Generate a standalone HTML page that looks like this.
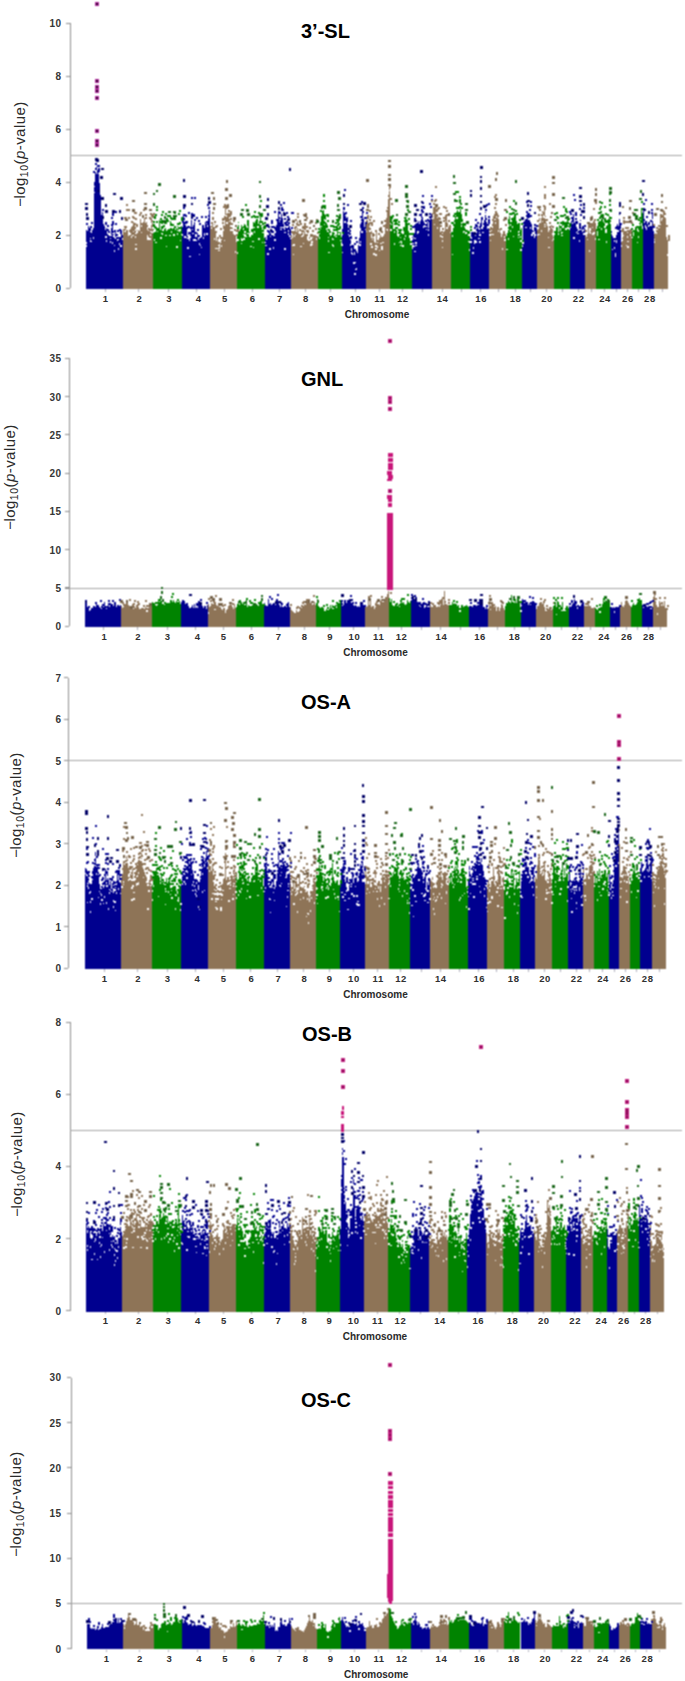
<!DOCTYPE html>
<html><head><meta charset="utf-8"><style>
html,body{margin:0;padding:0;background:#fff;}
body{width:685px;height:1681px;overflow:hidden;}
svg{display:block;}
text{font-family:"Liberation Sans",sans-serif;}
.tl{font-size:10px;fill:#363636;text-anchor:end;font-weight:bold;letter-spacing:0.4px;}
.xl{font-size:9.5px;fill:#303030;text-anchor:middle;font-weight:bold;letter-spacing:0.6px;}
.ch{font-size:10px;fill:#2a2a2a;text-anchor:middle;font-weight:bold;}
.tt{font-size:20px;fill:#000;font-weight:bold;}
.yl{font-size:15px;fill:#2a2a2a;text-anchor:middle;letter-spacing:0.45px;}
.sub{font-size:10.5px;}
</style></head><body>
<svg width="685" height="1681" viewBox="0 0 685 1681" shape-rendering="crispEdges">
<defs><filter id="sf" x="0" y="0" width="100%" height="100%" color-interpolation-filters="sRGB"><feConvolveMatrix order="3" kernelMatrix="1 2 1 2 4 2 1 2 1" edgeMode="duplicate"/></filter></defs>
<g filter="url(#sf)"><rect width="685" height="1681" fill="#fff"/>
<path d="M70.5 23.4V288.4" stroke="#8c8c8c" stroke-width="1.2" fill="none"/>
<path d="M65.6 288.4H69.6M65.6 235.4H69.6M65.6 182.4H69.6M65.6 129.4H69.6M65.6 76.4H69.6M65.6 23.4H69.6" stroke="#8c8c8c" stroke-width="1.1" fill="none"/>
<path d="M69.6 155.5H682" stroke="#a4a4a4" stroke-width="1.2" fill="none"/>
<path d="M85.9 289.1V229.6H86.9V231.2H87.9V226H88.9V231.2H89.9V231.9H90.9V233.4H91.9V230.3H92.9V231H93.9V186.7H94.9V168.3H95.9V166.7H96.9V170.1H97.9V171.3H98.9V183H99.9V195.2H100.9V219.3H101.9V211.7H102.9V224.1H103.9V226.1H104.9V229.8H105.9V228.4H106.9V233.6H107.9V235H108.9V238.2H109.9V238.5H110.9V227.5H111.9V224.2H112.9V230.7H113.9V237.8H114.9V232.3H115.9V236.5H116.9V237.2H117.9V240H118.9V239.3H119.9V237.1H120.9V231.3H121.9V234.5H122.5V289.1ZM181.9 289.1V227.4H182.9V214H183.9V217.6H184.9V220.5H185.9V228.3H186.9V236.3H187.9V233.6H188.9V240.9H189.9V231.9H190.9V219.8H191.9V229.6H192.9V225.3H193.9V221.7H194.9V236.8H195.9V236.8H196.9V233.4H197.9V240.3H198.9V241.3H199.9V238.9H200.9V236.5H201.9V230.1H202.9V232.2H203.9V231.2H204.9V222.2H205.9V223.7H206.9V220.9H207.9V218.3H208.9V209.8H209.6V289.1ZM265.2 289.1V237.2H266.2V239.7H267.2V237.3H268.2V237H269.2V237H270.2V236.6H271.2V235H272.2V230.1H273.2V231.3H274.2V233.9H275.2V228.9H276.2V225.3H277.2V218.5H278.2V213.4H279.2V216.6H280.2V217.8H281.2V214.1H282.2V218.4H283.2V223.9H284.2V230.4H285.2V226.9H286.2V227.5H287.2V227.8H288.2V227.4H289.2V226.1H290.2V229H291.2V229.7H291.3V289.1ZM341.9 289.1V234.6H342.9V211H343.9V215H344.9V216H345.9V222.2H346.9V217.1H347.9V234.8H348.9V237.1H349.9V239.9H350.9V245H351.9V249.3H352.9V248H353.9V255.4H354.9V257H355.9V256H356.9V252.7H357.9V245.2H358.9V238.2H359.9V226.4H360.9V221.8H361.9V213.2H362.9V219.2H363.9V227.1H364.9V224.3H365.9V225.1H366.2V289.1ZM412 289.1V237H413V234.4H414V232.8H415V229.7H416V229.9H417V228.3H418V220.8H419V224H420V223.7H421V212.8H422V217.1H423V220.6H424V223.3H425V228.6H426V229.5H427V222H428V227.8H429V220.1H430V215.7H431V213.9H431.5V289.1ZM470.1 289.1V237.9H471.1V239.3H472.1V236.4H473.1V234.3H474.1V234.8H475.1V236.1H476.1V233.1H477.1V224.6H478.1V229.4H479.1V229.7H480.1V225.3H481.1V220.3H482.1V228H483.1V227.2H484.1V220.1H485.1V211.6H486.1V217.7H487.1V220.6H488.1V224.2H489V289.1ZM522.1 289.1V240.1H523.1V227H524.1V220.5H525.1V220.9H526.1V218.7H527.1V211.2H528.1V216.5H529.1V212.6H530.1V221.6H531.1V223.9H532.1V230.3H533.1V230.8H534.1V233.1H535.1V228.6H536.1V231.8H537V289.1ZM569.7 289.1V224.6H570.7V220.8H571.7V218.2H572.7V214.3H573.7V222.6H574.7V223.9H575.7V227.4H576.7V231.9H577.7V231.2H578.7V229.7H579.7V219.6H580.7V227.5H581.7V226.1H582.7V225.9H583.7V227.5H584.5V289.1ZM610.7 289.1V231.3H611.7V236.2H612.7V237.9H613.7V242H614.7V240.3H615.7V234.5H616.7V224.1H617.7V226.3H618.7V214.1H619.7V224.5H620.7V289.1ZM642.6 289.1V209.7H643.6V219.1H644.6V223.7H645.6V224.2H646.6V224.2H647.6V227.4H648.6V226.2H649.6V225.7H650.6V226.3H651.6V213.7H652.6V230.6H653.6V233.6H653.9V289.1Z" fill="#00008f"/>
<path d="M122.5 289.1V230.6H123.5V226.1H124.5V228.1H125.5V229.6H126.5V230.4H127.5V232.5H128.5V229.5H129.5V231.3H130.5V227.1H131.5V226.1H132.5V222.2H133.5V225.4H134.5V230.7H135.5V230.3H136.5V233.1H137.5V229.9H138.5V231.4H139.5V218.9H140.5V227.4H141.5V224.1H142.5V222.2H143.5V217.6H144.5V222.8H145.5V221.8H146.5V229.7H147.5V233.2H148.5V231.2H149.5V228.7H150.5V222.2H151.5V223.3H152.5V223.9H153.1V289.1ZM209.6 289.1V226.3H210.6V225.6H211.6V223.5H212.6V225.8H213.6V223.6H214.6V232.2H215.6V240.9H216.6V239.1H217.6V245.5H218.6V248.5H219.6V242.6H220.6V240.2H221.6V236.7H222.6V225.3H223.6V226.4H224.6V208.1H225.6V213.9H226.6V212.6H227.6V215H228.6V218.8H229.6V220.6H230.6V227.2H231.6V227.9H232.6V235.9H233.6V234.5H234.6V235H235.6V241.9H236.6V236.2H237.3V289.1ZM291.3 289.1V235.2H292.3V237.2H293.3V235.1H294.3V237H295.3V229.1H296.3V235.1H297.3V220.5H298.3V230.9H299.3V234.3H300.3V236H301.3V232.5H302.3V230.3H303.3V233H304.3V230.8H305.3V233.9H306.3V234.3H307.3V233.8H308.3V237H309.3V237H310.3V239.7H311.3V240.1H312.3V240H313.3V240.3H314.3V236.9H315.3V235.6H316.3V240.2H317.3V237.1H317.5V289.1ZM366.2 289.1V224.4H367.2V221.5H368.2V222.5H369.2V223.5H370.2V227.8H371.2V231.4H372.2V237.4H373.2V238.1H374.2V241.7H375.2V243.3H376.2V231.9H377.2V243.2H378.2V240.2H379.2V240.4H380.2V234.6H381.2V240.2H382.2V238.3H383.2V236.4H384.2V233.8H385.2V226.2H386.2V217.6H387.2V211.9H388.2V199.3H389.2V187.6H390.2V205.2H390.3V289.1ZM431.5 289.1V213.2H432.5V219H433.5V214.7H434.5V208.4H435.5V209.3H436.5V210.3H437.5V222H438.5V224.2H439.5V232H440.5V233.4H441.5V237.6H442.5V231.6H443.5V231.3H444.5V214.8H445.5V216.2H446.5V223.4H447.5V227.1H448.5V228.4H449.5V226.3H450.5V289.1ZM489 289.1V231.6H490V231.6H491V230.5H492V228.1H493V215.6H494V213.8H495V211.4H496V211.3H497V212.5H498V219.3H499V228.9H500V232.9H501V237.4H502V234.2H503V232.4H504V232.6H505V233.5H506V289.1ZM537 289.1V229.7H538V224.5H539V218.3H540V221.6H541V218.4H542V211.4H543V212.1H544V210.3H545V216.3H546V223.1H547V226.2H548V232.2H549V225.5H550V225.9H551V224.7H552V229.1H553V236.5H554V289.1ZM584.5 289.1V234.6H585.5V238.2H586.5V236.3H587.5V228.3H588.5V233.2H589.5V230.9H590.5V228.3H591.5V228H592.5V226H593.5V223.2H594.5V223H595.5V215.1H596.4V289.1ZM620.7 289.1V242.1H621.7V237.9H622.7V235.9H623.7V235.2H624.7V233.2H625.7V232.3H626.7V233.2H627.7V232H628.7V229.7H629.7V228.8H630.7V228.8H631.7V233.2H631.8V289.1ZM653.9 289.1V233.7H654.9V232.7H655.9V230.1H656.9V230.3H657.9V228H658.9V227.5H659.9V215.8H660.9V221.4H661.9V218.5H662.9V213.8H663.9V217.2H664.9V218H665.9V237.1H666.9V240.3H667.9V243.1H668V289.1Z" fill="#8e7457"/>
<path d="M153.1 289.1V228.9H154.1V230.1H155.1V231.7H156.1V229.8H157.1V232.4H158.1V230.8H159.1V220.4H160.1V230.4H161.1V228.9H162.1V231.3H163.1V230.5H164.1V229.3H165.1V228.2H166.1V230.7H167.1V229.5H168.1V231.6H169.1V232.9H170.1V221.2H171.1V218.2H172.1V230.8H173.1V231H174.1V228.1H175.1V229.5H176.1V228.1H177.1V225.7H178.1V227.3H179.1V232.1H180.1V231.3H181.1V225.5H181.9V289.1ZM237.3 289.1V233.7H238.3V221.6H239.3V231.2H240.3V230.9H241.3V225H242.3V226.8H243.3V228.6H244.3V224.4H245.3V225.4H246.3V226.6H247.3V228.1H248.3V223.4H249.3V231.9H250.3V234.9H251.3V234.5H252.3V235.1H253.3V221.6H254.3V224.4H255.3V221.1H256.3V218.8H257.3V219.3H258.3V223.9H259.3V221.2H260.3V217H261.3V224.5H262.3V230.1H263.3V227H264.3V238H265.2V289.1ZM317.5 289.1V237.2H318.5V234.3H319.5V222.3H320.5V215.7H321.5V211.3H322.5V209.5H323.5V213.6H324.5V215.3H325.5V222.7H326.5V224.8H327.5V232.1H328.5V233.9H329.5V235.7H330.5V237.3H331.5V235.1H332.5V235.4H333.5V232.6H334.5V228.9H335.5V226.3H336.5V224.2H337.5V219.9H338.5V222.8H339.5V232H340.5V237.1H341.5V243.2H341.9V289.1ZM390.3 289.1V223.7H391.3V224.8H392.3V221.7H393.3V228.5H394.3V232.7H395.3V227H396.3V231.2H397.3V235.5H398.3V237.1H399.3V237.1H400.3V237.6H401.3V238.6H402.3V236H403.3V233.6H404.3V230.8H405.3V217.5H406.3V216.6H407.3V219.5H408.3V231.2H409.3V237.5H410.3V241.1H411.3V240.7H412V289.1ZM450.5 289.1V233.3H451.5V237.3H452.5V221.9H453.5V219.5H454.5V215.8H455.5V213.7H456.5V210.3H457.5V215.3H458.5V212.8H459.5V208.5H460.5V214.1H461.5V219.1H462.5V223.4H463.5V227.2H464.5V228.5H465.5V229.9H466.5V230.4H467.5V235.9H468.5V236.1H469.5V238.5H470.1V289.1ZM506 289.1V236H507V233.1H508V229.8H509V216.2H510V226.1H511V223.7H512V219.4H513V217.3H514V212.2H515V213.5H516V220.6H517V226.3H518V232.7H519V234.5H520V238.1H521V228.4H522V244H522.1V289.1ZM554 289.1V234.7H555V232.3H556V226.6H557V226.8H558V231.7H559V225.4H560V231.3H561V228.3H562V224.8H563V226.6H564V224.4H565V217.3H566V221.1H567V217.2H568V222H569V226.9H569.7V289.1ZM596.4 289.1V229.3H597.4V226.1H598.4V224.4H599.4V225.4H600.4V222.7H601.4V218.5H602.4V218.5H603.4V222.2H604.4V223.1H605.4V228H606.4V226H607.4V224.5H608.4V218.8H609.4V215.6H610.4V219.7H610.7V289.1ZM631.8 289.1V231.4H632.8V235.6H633.8V230.1H634.8V230.9H635.8V225.8H636.8V230.7H637.8V228.9H638.8V222.8H639.8V219.9H640.8V209.7H641.8V212.9H642.6V289.1Z" fill="#008300"/>
<path d="M85.7 245.1h1.4v1.6h-1.4zM85.9 241.9h1.4v1.6h-1.4zM90.1 240.8h1.4v1.6h-1.4zM89.6 237.5h1.4v1.6h-1.4zM89.8 239.8h1.4v1.6h-1.4zM92.8 236.9h1.4v1.6h-1.4zM94 191.5h1.4v1.6h-1.4zM95.1 170.4h1.4v1.6h-1.4zM95.8 171.6h1.4v1.6h-1.4zM95.9 172.8h1.4v1.6h-1.4zM98 172.5h1.4v1.6h-1.4zM101.6 215.4h1.4v1.6h-1.4zM105.1 236h1.4v1.6h-1.4zM105.7 240.1h1.4v1.6h-1.4zM109.7 241.2h1.4v1.6h-1.4zM110.7 234.7h1.4v1.6h-1.4zM112.1 232.5h1.4v1.6h-1.4zM111.7 242.4h1.4v1.6h-1.4zM113 235.2h1.4v1.6h-1.4zM112.7 235.5h1.4v1.6h-1.4zM114 244.7h1.4v1.6h-1.4zM114 249.9h1.4v1.6h-1.4zM114.7 236.9h1.4v1.6h-1.4zM117 239.2h1.4v1.6h-1.4zM118 248.3h1.4v1.6h-1.4zM118.8 243h1.4v1.6h-1.4zM120.1 244.9h1.4v1.6h-1.4zM122 238.1h1.4v1.6h-1.4zM121.6 238.2h1.4v1.6h-1.4zM123.2 229.8h1.4v1.6h-1.4zM123.5 228h1.4v1.6h-1.4zM124.3 230.1h1.4v1.6h-1.4zM127.6 234.2h1.4v1.6h-1.4zM128.3 232.2h1.4v1.6h-1.4zM129.2 233.2h1.4v1.6h-1.4zM130.5 236.2h1.4v1.6h-1.4zM132.3 234.6h1.4v1.6h-1.4zM132.6 230.8h1.4v1.6h-1.4zM134.5 235.9h1.4v1.6h-1.4zM134.5 232.5h1.4v1.6h-1.4zM135.6 232.3h1.4v1.6h-1.4zM135.3 243.7h1.4v1.6h-1.4zM135.8 231.4h1.4v1.6h-1.4zM135.4 248.2h1.4v1.6h-1.4zM140.6 231.6h1.4v1.6h-1.4zM146.7 230.8h1.4v1.6h-1.4zM146.5 235h1.4v1.6h-1.4zM146.7 238.2h1.4v1.6h-1.4zM147.4 236.9h1.4v1.6h-1.4zM148.3 238.2h1.4v1.6h-1.4zM149.4 238h1.4v1.6h-1.4zM149.7 230.5h1.4v1.6h-1.4zM149.8 234h1.4v1.6h-1.4zM150.4 223.3h1.4v1.6h-1.4zM150.5 231.2h1.4v1.6h-1.4zM151.7 227.3h1.4v1.6h-1.4zM152.5 225.9h1.4v1.6h-1.4zM152.4 231.6h1.4v1.6h-1.4zM153.2 230.1h1.4v1.6h-1.4zM153.9 239.4h1.4v1.6h-1.4zM155.3 241.8h1.4v1.6h-1.4zM160.1 237.2h1.4v1.6h-1.4zM160.8 237.8h1.4v1.6h-1.4zM161.1 232.7h1.4v1.6h-1.4zM160.9 232.5h1.4v1.6h-1.4zM161.8 233.1h1.4v1.6h-1.4zM165.3 234.7h1.4v1.6h-1.4zM165.9 245.6h1.4v1.6h-1.4zM169.4 234.8h1.4v1.6h-1.4zM170.4 231.3h1.4v1.6h-1.4zM170.4 226h1.4v1.6h-1.4zM171 221.5h1.4v1.6h-1.4zM171.3 220.2h1.4v1.6h-1.4zM173.2 234h1.4v1.6h-1.4zM176.3 246.2h1.4v1.6h-1.4zM177.3 229.6h1.4v1.6h-1.4zM177 233.1h1.4v1.6h-1.4zM176.8 227.3h1.4v1.6h-1.4zM180 239.5h1.4v1.6h-1.4zM181.2 233.5h1.4v1.6h-1.4zM181.6 234h1.4v1.6h-1.4zM183.6 219.9h1.4v1.6h-1.4zM184.1 235.9h1.4v1.6h-1.4zM185.1 223.1h1.4v1.6h-1.4zM185.8 236.8h1.4v1.6h-1.4zM187.1 237.5h1.4v1.6h-1.4zM187.1 247.1h1.4v1.6h-1.4zM188 236h1.4v1.6h-1.4zM188.1 234.9h1.4v1.6h-1.4zM188.2 237.1h1.4v1.6h-1.4zM189.1 255.8h1.4v1.6h-1.4zM189.8 236h1.4v1.6h-1.4zM192.1 232.8h1.4v1.6h-1.4zM193.2 239h1.4v1.6h-1.4zM194.7 238.9h1.4v1.6h-1.4zM195.1 239.6h1.4v1.6h-1.4zM198.6 242.6h1.4v1.6h-1.4zM198.8 253.8h1.4v1.6h-1.4zM198.8 243.6h1.4v1.6h-1.4zM199.7 244.8h1.4v1.6h-1.4zM200.7 246.7h1.4v1.6h-1.4zM202.8 237.2h1.4v1.6h-1.4zM204 234.7h1.4v1.6h-1.4zM204 233.3h1.4v1.6h-1.4zM206.1 233.2h1.4v1.6h-1.4zM206.9 225h1.4v1.6h-1.4zM210.7 227.2h1.4v1.6h-1.4zM213.4 225h1.4v1.6h-1.4zM213.8 238.3h1.4v1.6h-1.4zM215.3 247.6h1.4v1.6h-1.4zM217.4 247.5h1.4v1.6h-1.4zM218.3 249.7h1.4v1.6h-1.4zM220.5 244.9h1.4v1.6h-1.4zM222.5 229.4h1.4v1.6h-1.4zM223.6 239.5h1.4v1.6h-1.4zM224.6 214.6h1.4v1.6h-1.4zM225.8 215.2h1.4v1.6h-1.4zM226.3 222h1.4v1.6h-1.4zM228.5 220.8h1.4v1.6h-1.4zM229.7 225.2h1.4v1.6h-1.4zM230.3 229.3h1.4v1.6h-1.4zM231.4 229h1.4v1.6h-1.4zM234.5 251.4h1.4v1.6h-1.4zM236.5 252.2h1.4v1.6h-1.4zM237.2 239.1h1.4v1.6h-1.4zM238.3 227.9h1.4v1.6h-1.4zM238.2 223h1.4v1.6h-1.4zM240.6 242.6h1.4v1.6h-1.4zM240.6 238h1.4v1.6h-1.4zM241.3 239.1h1.4v1.6h-1.4zM242.3 238.8h1.4v1.6h-1.4zM242.6 228.8h1.4v1.6h-1.4zM243.2 238.1h1.4v1.6h-1.4zM243.4 233.7h1.4v1.6h-1.4zM244.2 234.9h1.4v1.6h-1.4zM244.6 233.9h1.4v1.6h-1.4zM244.4 231.3h1.4v1.6h-1.4zM245.3 235.6h1.4v1.6h-1.4zM247.4 232.6h1.4v1.6h-1.4zM249.4 235.2h1.4v1.6h-1.4zM249 233.3h1.4v1.6h-1.4zM250.1 245.6h1.4v1.6h-1.4zM252.6 246.6h1.4v1.6h-1.4zM252.3 240.8h1.4v1.6h-1.4zM253.5 230.9h1.4v1.6h-1.4zM253.3 226.5h1.4v1.6h-1.4zM257.3 226h1.4v1.6h-1.4zM258.3 238.2h1.4v1.6h-1.4zM260.3 222.9h1.4v1.6h-1.4zM260.5 222.7h1.4v1.6h-1.4zM261.5 241.7h1.4v1.6h-1.4zM261.4 225.6h1.4v1.6h-1.4zM262.4 231.5h1.4v1.6h-1.4zM264.1 241.7h1.4v1.6h-1.4zM265.3 244.7h1.4v1.6h-1.4zM267.1 253.3h1.4v1.6h-1.4zM269.3 247.9h1.4v1.6h-1.4zM272.3 233.1h1.4v1.6h-1.4zM273.1 234.6h1.4v1.6h-1.4zM272.9 247.4h1.4v1.6h-1.4zM274.4 239.3h1.4v1.6h-1.4zM275 231.3h1.4v1.6h-1.4zM279.4 218.8h1.4v1.6h-1.4zM279 220.7h1.4v1.6h-1.4zM280.3 226.8h1.4v1.6h-1.4zM280.4 228.7h1.4v1.6h-1.4zM282.4 226.6h1.4v1.6h-1.4zM284.4 247.9h1.4v1.6h-1.4zM284.2 231.6h1.4v1.6h-1.4zM288 233.2h1.4v1.6h-1.4zM288.5 235.4h1.4v1.6h-1.4zM288 230.1h1.4v1.6h-1.4zM290.1 237.7h1.4v1.6h-1.4zM289.9 235.8h1.4v1.6h-1.4zM291.5 233.5h1.4v1.6h-1.4zM291.5 236.3h1.4v1.6h-1.4zM291.5 244.5h1.4v1.6h-1.4zM292.5 253.7h1.4v1.6h-1.4zM293.2 244.2h1.4v1.6h-1.4zM295.4 233.8h1.4v1.6h-1.4zM297 226.4h1.4v1.6h-1.4zM297.3 231.6h1.4v1.6h-1.4zM300.1 245.8h1.4v1.6h-1.4zM301.3 234.9h1.4v1.6h-1.4zM302.5 234.3h1.4v1.6h-1.4zM302.6 242.6h1.4v1.6h-1.4zM302.6 233.4h1.4v1.6h-1.4zM307.2 237.9h1.4v1.6h-1.4zM307.2 235.9h1.4v1.6h-1.4zM307.3 237.4h1.4v1.6h-1.4zM308.3 239.1h1.4v1.6h-1.4zM310.4 244h1.4v1.6h-1.4zM310.6 244.4h1.4v1.6h-1.4zM310.5 242.9h1.4v1.6h-1.4zM311.4 243.8h1.4v1.6h-1.4zM311.4 241.3h1.4v1.6h-1.4zM318.8 237.3h1.4v1.6h-1.4zM319.5 227.8h1.4v1.6h-1.4zM320.2 225.5h1.4v1.6h-1.4zM323.6 219.3h1.4v1.6h-1.4zM323.8 223.6h1.4v1.6h-1.4zM324.8 219.9h1.4v1.6h-1.4zM325.7 228.1h1.4v1.6h-1.4zM326.8 230.4h1.4v1.6h-1.4zM326.4 227.5h1.4v1.6h-1.4zM327.7 236.7h1.4v1.6h-1.4zM327.5 240.3h1.4v1.6h-1.4zM328.3 251.5h1.4v1.6h-1.4zM331.5 244.2h1.4v1.6h-1.4zM331.5 238.4h1.4v1.6h-1.4zM332.8 244.9h1.4v1.6h-1.4zM332.5 238.6h1.4v1.6h-1.4zM333.7 234.1h1.4v1.6h-1.4zM334.2 231.7h1.4v1.6h-1.4zM335.3 231.1h1.4v1.6h-1.4zM335.4 233.4h1.4v1.6h-1.4zM335.4 235.6h1.4v1.6h-1.4zM337.7 226.3h1.4v1.6h-1.4zM338.3 233.3h1.4v1.6h-1.4zM338.5 225.2h1.4v1.6h-1.4zM338.4 230.3h1.4v1.6h-1.4zM340.4 239.6h1.4v1.6h-1.4zM340.6 242.1h1.4v1.6h-1.4zM341.3 244.4h1.4v1.6h-1.4zM341.7 251.8h1.4v1.6h-1.4zM341.7 244.6h1.4v1.6h-1.4zM344.1 221.2h1.4v1.6h-1.4zM347.1 222.2h1.4v1.6h-1.4zM347.1 219.4h1.4v1.6h-1.4zM349.9 243.5h1.4v1.6h-1.4zM349.9 244.6h1.4v1.6h-1.4zM350.9 252.4h1.4v1.6h-1.4zM351 249.4h1.4v1.6h-1.4zM350.8 248.1h1.4v1.6h-1.4zM351.7 253.1h1.4v1.6h-1.4zM353.1 261.9h1.4v1.6h-1.4zM354.2 273h1.4v1.6h-1.4zM353.9 262.6h1.4v1.6h-1.4zM354.7 268.5h1.4v1.6h-1.4zM354.7 261.5h1.4v1.6h-1.4zM355.8 268h1.4v1.6h-1.4zM359.1 243.9h1.4v1.6h-1.4zM359.7 241.2h1.4v1.6h-1.4zM359.6 227.5h1.4v1.6h-1.4zM359.7 229h1.4v1.6h-1.4zM361.1 231.1h1.4v1.6h-1.4zM364.7 228.8h1.4v1.6h-1.4zM366 230.7h1.4v1.6h-1.4zM369.3 225.8h1.4v1.6h-1.4zM369.1 230.3h1.4v1.6h-1.4zM370.1 243h1.4v1.6h-1.4zM371.1 234.9h1.4v1.6h-1.4zM371 233.6h1.4v1.6h-1.4zM371.2 246.2h1.4v1.6h-1.4zM371.1 236h1.4v1.6h-1.4zM372 238.7h1.4v1.6h-1.4zM373.2 252.9h1.4v1.6h-1.4zM375.3 245.3h1.4v1.6h-1.4zM375.1 254h1.4v1.6h-1.4zM375.4 248h1.4v1.6h-1.4zM377 246h1.4v1.6h-1.4zM378.9 249.7h1.4v1.6h-1.4zM380.3 238.6h1.4v1.6h-1.4zM380.2 242.8h1.4v1.6h-1.4zM381.1 248.2h1.4v1.6h-1.4zM381.2 246.2h1.4v1.6h-1.4zM382.3 241.6h1.4v1.6h-1.4zM385.5 228.6h1.4v1.6h-1.4zM386.9 229.1h1.4v1.6h-1.4zM389 189.8h1.4v1.6h-1.4zM390.1 206.7h1.4v1.6h-1.4zM390.3 229.4h1.4v1.6h-1.4zM392.5 223.5h1.4v1.6h-1.4zM393.5 242.9h1.4v1.6h-1.4zM399 241.8h1.4v1.6h-1.4zM400.4 244.6h1.4v1.6h-1.4zM400.4 240.5h1.4v1.6h-1.4zM401 242.4h1.4v1.6h-1.4zM402.2 245.1h1.4v1.6h-1.4zM403.5 238.2h1.4v1.6h-1.4zM404.6 235.1h1.4v1.6h-1.4zM406.1 217.8h1.4v1.6h-1.4zM407.2 221.8h1.4v1.6h-1.4zM409.5 238.9h1.4v1.6h-1.4zM410.4 242.9h1.4v1.6h-1.4zM411.7 247.1h1.4v1.6h-1.4zM411.8 238.2h1.4v1.6h-1.4zM412.3 244.9h1.4v1.6h-1.4zM412.2 242.5h1.4v1.6h-1.4zM412.9 236.5h1.4v1.6h-1.4zM413.9 245.6h1.4v1.6h-1.4zM414.1 237.6h1.4v1.6h-1.4zM414.2 250.7h1.4v1.6h-1.4zM415.2 244.8h1.4v1.6h-1.4zM415.1 241.9h1.4v1.6h-1.4zM416.9 232.7h1.4v1.6h-1.4zM417.1 230.9h1.4v1.6h-1.4zM420.9 217.7h1.4v1.6h-1.4zM423.2 225.6h1.4v1.6h-1.4zM422.9 226.7h1.4v1.6h-1.4zM423.7 225.3h1.4v1.6h-1.4zM427.7 234.4h1.4v1.6h-1.4zM428 233.6h1.4v1.6h-1.4zM428 229.3h1.4v1.6h-1.4zM431.1 217.5h1.4v1.6h-1.4zM433.7 223.8h1.4v1.6h-1.4zM435.5 212.6h1.4v1.6h-1.4zM436.7 227h1.4v1.6h-1.4zM436.7 216.7h1.4v1.6h-1.4zM436.4 211.9h1.4v1.6h-1.4zM440.3 234.9h1.4v1.6h-1.4zM441.6 240.4h1.4v1.6h-1.4zM441.6 246.7h1.4v1.6h-1.4zM444.3 220.7h1.4v1.6h-1.4zM446.4 227.2h1.4v1.6h-1.4zM449.6 231.6h1.4v1.6h-1.4zM451.5 253.8h1.4v1.6h-1.4zM452.4 225.9h1.4v1.6h-1.4zM453.5 222.1h1.4v1.6h-1.4zM456.4 217.3h1.4v1.6h-1.4zM460.5 221.9h1.4v1.6h-1.4zM460.8 225h1.4v1.6h-1.4zM461.4 221.6h1.4v1.6h-1.4zM462.8 231.1h1.4v1.6h-1.4zM463.4 230.7h1.4v1.6h-1.4zM465.3 232.2h1.4v1.6h-1.4zM467.5 240.8h1.4v1.6h-1.4zM468.5 248.9h1.4v1.6h-1.4zM469.3 241.3h1.4v1.6h-1.4zM470.2 241.1h1.4v1.6h-1.4zM472.3 252.1h1.4v1.6h-1.4zM473 247h1.4v1.6h-1.4zM474.4 240.2h1.4v1.6h-1.4zM473.9 242.2h1.4v1.6h-1.4zM475.1 241.4h1.4v1.6h-1.4zM478.4 237.6h1.4v1.6h-1.4zM479 231.8h1.4v1.6h-1.4zM479.1 234.2h1.4v1.6h-1.4zM479.2 241h1.4v1.6h-1.4zM479.2 234.6h1.4v1.6h-1.4zM481.2 227.2h1.4v1.6h-1.4zM482.2 231.8h1.4v1.6h-1.4zM483.9 222.7h1.4v1.6h-1.4zM485.1 212.9h1.4v1.6h-1.4zM486.1 220.2h1.4v1.6h-1.4zM486.2 220.1h1.4v1.6h-1.4zM487.1 225.9h1.4v1.6h-1.4zM487 226.6h1.4v1.6h-1.4zM486.9 227.1h1.4v1.6h-1.4zM487 222.2h1.4v1.6h-1.4zM489.3 234.4h1.4v1.6h-1.4zM489.8 239.6h1.4v1.6h-1.4zM491.1 233.7h1.4v1.6h-1.4zM492.3 233.8h1.4v1.6h-1.4zM494.1 218.5h1.4v1.6h-1.4zM494.8 221.9h1.4v1.6h-1.4zM495.8 215.9h1.4v1.6h-1.4zM497.7 229.9h1.4v1.6h-1.4zM501.7 248.1h1.4v1.6h-1.4zM504 236.3h1.4v1.6h-1.4zM504.3 239.3h1.4v1.6h-1.4zM506.2 248.7h1.4v1.6h-1.4zM508 238.3h1.4v1.6h-1.4zM509.8 230.3h1.4v1.6h-1.4zM511.9 226.1h1.4v1.6h-1.4zM512.7 235.7h1.4v1.6h-1.4zM517.9 236.8h1.4v1.6h-1.4zM518 234h1.4v1.6h-1.4zM520.1 249.2h1.4v1.6h-1.4zM520.2 240.3h1.4v1.6h-1.4zM520.7 230.8h1.4v1.6h-1.4zM522 245h1.4v1.6h-1.4zM522.3 242.4h1.4v1.6h-1.4zM525.1 226.8h1.4v1.6h-1.4zM528.2 218h1.4v1.6h-1.4zM530 226.9h1.4v1.6h-1.4zM531.3 234h1.4v1.6h-1.4zM532 231.6h1.4v1.6h-1.4zM531.9 232.1h1.4v1.6h-1.4zM533.2 232h1.4v1.6h-1.4zM534.1 234.1h1.4v1.6h-1.4zM533.8 236.2h1.4v1.6h-1.4zM536.9 234.4h1.4v1.6h-1.4zM538.1 233.6h1.4v1.6h-1.4zM537.7 226.9h1.4v1.6h-1.4zM537.9 233.7h1.4v1.6h-1.4zM539.2 221.1h1.4v1.6h-1.4zM540.9 230.2h1.4v1.6h-1.4zM541.8 212.9h1.4v1.6h-1.4zM542.2 214.6h1.4v1.6h-1.4zM541.8 220.7h1.4v1.6h-1.4zM541.9 220.5h1.4v1.6h-1.4zM543.3 216.3h1.4v1.6h-1.4zM543.2 216.2h1.4v1.6h-1.4zM544.1 223.6h1.4v1.6h-1.4zM544.3 225.8h1.4v1.6h-1.4zM544.9 217.4h1.4v1.6h-1.4zM544.9 223.5h1.4v1.6h-1.4zM548.2 246.7h1.4v1.6h-1.4zM547.9 236.7h1.4v1.6h-1.4zM548.7 228.1h1.4v1.6h-1.4zM551 226.8h1.4v1.6h-1.4zM551.8 232.9h1.4v1.6h-1.4zM551.8 239.5h1.4v1.6h-1.4zM552.7 237.9h1.4v1.6h-1.4zM558 233h1.4v1.6h-1.4zM560.8 232.4h1.4v1.6h-1.4zM561.2 234.6h1.4v1.6h-1.4zM562.1 226.2h1.4v1.6h-1.4zM561.8 231.6h1.4v1.6h-1.4zM565.1 228.3h1.4v1.6h-1.4zM565 218.6h1.4v1.6h-1.4zM565.1 220h1.4v1.6h-1.4zM565 220.4h1.4v1.6h-1.4zM567.3 227.2h1.4v1.6h-1.4zM567.7 224.3h1.4v1.6h-1.4zM568.9 227.9h1.4v1.6h-1.4zM569.7 225.9h1.4v1.6h-1.4zM571.9 221.5h1.4v1.6h-1.4zM571.8 222.3h1.4v1.6h-1.4zM573.4 237.2h1.4v1.6h-1.4zM576 231.5h1.4v1.6h-1.4zM577.4 232.7h1.4v1.6h-1.4zM579 240h1.4v1.6h-1.4zM578.8 240.6h1.4v1.6h-1.4zM579.5 221.2h1.4v1.6h-1.4zM579.6 221.2h1.4v1.6h-1.4zM580.4 228.6h1.4v1.6h-1.4zM581.9 230.4h1.4v1.6h-1.4zM582.5 233.7h1.4v1.6h-1.4zM582.8 228.9h1.4v1.6h-1.4zM583.4 233.2h1.4v1.6h-1.4zM586.7 238.4h1.4v1.6h-1.4zM587.4 234.7h1.4v1.6h-1.4zM588.8 249.9h1.4v1.6h-1.4zM589.7 232.3h1.4v1.6h-1.4zM592.4 233.3h1.4v1.6h-1.4zM593.4 232.2h1.4v1.6h-1.4zM594.7 238.4h1.4v1.6h-1.4zM596.6 231.2h1.4v1.6h-1.4zM596.5 234.8h1.4v1.6h-1.4zM596.7 233.3h1.4v1.6h-1.4zM598.3 238.8h1.4v1.6h-1.4zM598.5 226.5h1.4v1.6h-1.4zM600.6 227.9h1.4v1.6h-1.4zM604.5 230.3h1.4v1.6h-1.4zM604.2 225.9h1.4v1.6h-1.4zM605.6 241.4h1.4v1.6h-1.4zM605.4 231.1h1.4v1.6h-1.4zM605.2 229.3h1.4v1.6h-1.4zM610.1 222.3h1.4v1.6h-1.4zM610.6 232.5h1.4v1.6h-1.4zM611.8 248.6h1.4v1.6h-1.4zM613.8 247.4h1.4v1.6h-1.4zM614.8 255.1h1.4v1.6h-1.4zM614.8 253.1h1.4v1.6h-1.4zM615.6 241.1h1.4v1.6h-1.4zM616 238.9h1.4v1.6h-1.4zM616.7 230h1.4v1.6h-1.4zM617.6 230.4h1.4v1.6h-1.4zM618.4 215.4h1.4v1.6h-1.4zM618.5 217h1.4v1.6h-1.4zM619.5 228.5h1.4v1.6h-1.4zM620.8 245.3h1.4v1.6h-1.4zM621.6 239.1h1.4v1.6h-1.4zM625.8 244.7h1.4v1.6h-1.4zM626.9 246.3h1.4v1.6h-1.4zM626.7 236.3h1.4v1.6h-1.4zM627.5 245.9h1.4v1.6h-1.4zM627.4 240.5h1.4v1.6h-1.4zM629.8 234.1h1.4v1.6h-1.4zM631.4 236.7h1.4v1.6h-1.4zM636.8 241.5h1.4v1.6h-1.4zM637.9 235.9h1.4v1.6h-1.4zM637.9 230.3h1.4v1.6h-1.4zM637.6 230.3h1.4v1.6h-1.4zM638.8 223.8h1.4v1.6h-1.4zM638.7 224.5h1.4v1.6h-1.4zM640.9 223.4h1.4v1.6h-1.4zM640.7 224.1h1.4v1.6h-1.4zM641.9 227.3h1.4v1.6h-1.4zM641.9 225.9h1.4v1.6h-1.4zM643.7 221h1.4v1.6h-1.4zM644.7 225.3h1.4v1.6h-1.4zM645.5 228h1.4v1.6h-1.4zM645.3 226.8h1.4v1.6h-1.4zM651.3 219.3h1.4v1.6h-1.4zM651.8 219h1.4v1.6h-1.4zM653.7 241.2h1.4v1.6h-1.4zM653.7 238.5h1.4v1.6h-1.4zM655.7 232.1h1.4v1.6h-1.4zM660 223.7h1.4v1.6h-1.4zM666.7 254.4h1.4v1.6h-1.4zM668 257.5h1.4v1.6h-1.4zM667.6 254.9h1.4v1.6h-1.4z" fill="#fff"/>
<path d="M86.2 222.9h2v2h-2zM88.9 227.9h2v2h-2zM88.7 228.5h2v2h-2zM91.1 221.6h2v2h-2zM90.4 226.2h2v2h-2zM91.5 230.6h2v2h-2zM92.9 229.5h2v2h-2zM93 228.1h2v2h-2zM93.3 170.5h2v2h-2zM93.8 182.4h2v2h-2zM94.1 183.9h2v2h-2zM94.5 162.5h2v2h-2zM96.1 159.8h2v2h-2zM97.2 165.4h2v2h-2zM98.2 167.6h2v2h-2zM97.6 165.2h2v2h-2zM97.7 169.6h2v2h-2zM101.2 215.3h2v2h-2zM100.5 217.6h2v2h-2zM101.3 217.2h2v2h-2zM101.9 209.3h2v2h-2zM104.5 221.5h2v2h-2zM105 223h2v2h-2zM107.3 224.5h2v2h-2zM107.4 229h2v2h-2zM108.3 230.9h2v2h-2zM109.4 235.9h2v2h-2zM110.6 224.2h2v2h-2zM112.3 213.5h2v2h-2zM111.5 222.6h2v2h-2zM112.2 211.9h2v2h-2zM111.4 216.9h2v2h-2zM111.6 220.5h2v2h-2zM111.7 220.9h2v2h-2zM113.5 230.4h2v2h-2zM115.4 211.1h2v2h-2zM114.5 222.5h2v2h-2zM116.3 234.3h2v2h-2zM117.2 229.9h2v2h-2zM117.8 236.9h2v2h-2zM119.5 230.3h2v2h-2zM119.4 229.4h2v2h-2zM118.8 236.6h2v2h-2zM119.2 229.3h2v2h-2zM120.1 232.2h2v2h-2zM182 220.9h2v2h-2zM182.5 207h2v2h-2zM183.7 213.9h2v2h-2zM185.1 215h2v2h-2zM185.5 226.7h2v2h-2zM185.4 222.2h2v2h-2zM185.5 220.5h2v2h-2zM188.4 212.3h2v2h-2zM187.4 226.3h2v2h-2zM187.9 225.9h2v2h-2zM187.7 232h2v2h-2zM189.5 227.3h2v2h-2zM189.5 226.9h2v2h-2zM191.3 217.1h2v2h-2zM190.5 215.3h2v2h-2zM190.6 196.5h2v2h-2zM190.8 212.6h2v2h-2zM191.3 214.4h2v2h-2zM191.8 227.3h2v2h-2zM193 214.3h2v2h-2zM193.2 214.5h2v2h-2zM194.1 218.7h2v2h-2zM193.6 196.9h2v2h-2zM195 232h2v2h-2zM195.8 217h2v2h-2zM197.5 219.8h2v2h-2zM196.7 229.4h2v2h-2zM197.7 234.8h2v2h-2zM199.2 237.6h2v2h-2zM198.5 223h2v2h-2zM198.7 239h2v2h-2zM201.3 215.5h2v2h-2zM201.5 225.2h2v2h-2zM202.4 228.6h2v2h-2zM202.3 227.2h2v2h-2zM202.5 228.4h2v2h-2zM202.7 230.7h2v2h-2zM203.7 229.4h2v2h-2zM204.7 215.9h2v2h-2zM206.1 221.4h2v2h-2zM206.6 203.9h2v2h-2zM208.1 206.6h2v2h-2zM207.8 214.6h2v2h-2zM207.9 214.8h2v2h-2zM267 230.4h2v2h-2zM267.1 234.6h2v2h-2zM268.4 231.3h2v2h-2zM267.7 226h2v2h-2zM268 235.3h2v2h-2zM269.1 233.7h2v2h-2zM269.1 232.6h2v2h-2zM270.6 225.7h2v2h-2zM270.5 219.6h2v2h-2zM271.1 231.2h2v2h-2zM270.6 222.4h2v2h-2zM272.5 226h2v2h-2zM273.7 210.6h2v2h-2zM274.1 226.9h2v2h-2zM275.7 219.4h2v2h-2zM278.5 211.7h2v2h-2zM278.4 211.2h2v2h-2zM278.7 212.1h2v2h-2zM279.7 204.4h2v2h-2zM280.8 208.5h2v2h-2zM281.2 207.1h2v2h-2zM282.5 211.9h2v2h-2zM282.6 214.3h2v2h-2zM282.4 209.3h2v2h-2zM283.5 218.2h2v2h-2zM282.7 201.9h2v2h-2zM284.1 221.6h2v2h-2zM285.7 220.6h2v2h-2zM284.7 224h2v2h-2zM284.8 221.6h2v2h-2zM285.9 212.4h2v2h-2zM286.7 223.7h2v2h-2zM286.7 216.3h2v2h-2zM288.4 218.1h2v2h-2zM288.3 222.3h2v2h-2zM290.7 212.3h2v2h-2zM291.1 226.8h2v2h-2zM291.8 212.1h2v2h-2zM342.4 230.2h2v2h-2zM341.8 229.3h2v2h-2zM342.2 231.4h2v2h-2zM342.6 207.8h2v2h-2zM344 213.2h2v2h-2zM343.4 207.4h2v2h-2zM344 189.3h2v2h-2zM345.4 211.9h2v2h-2zM345.6 218.4h2v2h-2zM346.1 218.6h2v2h-2zM345.3 218h2v2h-2zM345.8 220.3h2v2h-2zM347.4 204.3h2v2h-2zM347.5 228h2v2h-2zM347.8 231.8h2v2h-2zM348.8 232.6h2v2h-2zM348.9 230.4h2v2h-2zM349.4 229.7h2v2h-2zM349 232.5h2v2h-2zM349.7 237.4h2v2h-2zM349.5 236.2h2v2h-2zM350.1 220.2h2v2h-2zM351.9 245h2v2h-2zM352.2 246.6h2v2h-2zM354.4 249.8h2v2h-2zM354.2 243.2h2v2h-2zM354.9 251.4h2v2h-2zM354.3 249.1h2v2h-2zM355.3 253.7h2v2h-2zM355.4 255.3h2v2h-2zM354.9 237.2h2v2h-2zM355.4 251.8h2v2h-2zM356.4 241h2v2h-2zM360.1 208.8h2v2h-2zM359.9 215.9h2v2h-2zM360 224.1h2v2h-2zM360.6 219.1h2v2h-2zM361.2 218.8h2v2h-2zM361 200.7h2v2h-2zM361.5 207.3h2v2h-2zM362.3 211.2h2v2h-2zM364.3 216.6h2v2h-2zM364.8 221.5h2v2h-2zM365.1 216.5h2v2h-2zM366 211.5h2v2h-2zM411.9 225.6h2v2h-2zM411.6 233.4h2v2h-2zM412.5 225.7h2v2h-2zM414.1 219h2v2h-2zM414.4 225.3h2v2h-2zM414.2 217.7h2v2h-2zM414.8 225.9h2v2h-2zM415.4 223.7h2v2h-2zM415.2 213.1h2v2h-2zM414.9 227.7h2v2h-2zM416.3 222.5h2v2h-2zM415.4 219.9h2v2h-2zM416.5 227.5h2v2h-2zM417.4 224h2v2h-2zM417.3 222.9h2v2h-2zM417.3 225.7h2v2h-2zM419.5 221.3h2v2h-2zM418.9 213.7h2v2h-2zM419.8 221.6h2v2h-2zM420.7 209.4h2v2h-2zM421.3 209.9h2v2h-2zM422.6 205.9h2v2h-2zM422 194.9h2v2h-2zM421.6 202.4h2v2h-2zM422 210.8h2v2h-2zM423 206.7h2v2h-2zM425.2 226.9h2v2h-2zM425.2 224.3h2v2h-2zM425.4 219.5h2v2h-2zM425.8 223.6h2v2h-2zM427.1 218.7h2v2h-2zM428.1 220.3h2v2h-2zM428.8 213.3h2v2h-2zM428.9 215.7h2v2h-2zM429.4 202.5h2v2h-2zM430.1 206h2v2h-2zM430.7 194.9h2v2h-2zM431.2 198.9h2v2h-2zM471.6 235.9h2v2h-2zM470.8 231.6h2v2h-2zM471 234.5h2v2h-2zM470.6 234.5h2v2h-2zM471 232.8h2v2h-2zM472.7 234.3h2v2h-2zM474 226.6h2v2h-2zM474.5 218.9h2v2h-2zM475.3 224.1h2v2h-2zM475.2 225.2h2v2h-2zM476.2 228.7h2v2h-2zM476.8 221.5h2v2h-2zM478.6 226h2v2h-2zM479.4 212.8h2v2h-2zM479.9 222.8h2v2h-2zM481 218.3h2v2h-2zM481.2 217.3h2v2h-2zM483.3 223.2h2v2h-2zM485.6 203.8h2v2h-2zM484.8 208.5h2v2h-2zM484.8 205h2v2h-2zM487.5 216h2v2h-2zM487.5 222h2v2h-2zM487.5 218.6h2v2h-2zM487.6 221.4h2v2h-2zM487.9 203h2v2h-2zM523.3 222.3h2v2h-2zM523.4 224.8h2v2h-2zM525 218.6h2v2h-2zM524.5 218.7h2v2h-2zM526.1 214.7h2v2h-2zM526 210.8h2v2h-2zM525.5 201h2v2h-2zM527.6 213.2h2v2h-2zM528.2 214.9h2v2h-2zM528.5 209.1h2v2h-2zM529.5 205.4h2v2h-2zM530 215.2h2v2h-2zM529.7 200.7h2v2h-2zM533.6 228.6h2v2h-2zM534.7 228.1h2v2h-2zM534.5 230.3h2v2h-2zM534.3 224.4h2v2h-2zM534 227.1h2v2h-2zM535.9 224.8h2v2h-2zM569.3 210.9h2v2h-2zM569.9 223.1h2v2h-2zM569.8 213.4h2v2h-2zM570.7 217.2h2v2h-2zM571.7 210h2v2h-2zM573.2 194h2v2h-2zM572.4 209.6h2v2h-2zM572.4 210.1h2v2h-2zM574.3 198.8h2v2h-2zM574.8 218.1h2v2h-2zM574.8 211.8h2v2h-2zM575.1 220.9h2v2h-2zM574.9 217.5h2v2h-2zM575.3 222.4h2v2h-2zM576.2 221.4h2v2h-2zM575.1 214.1h2v2h-2zM575.5 222h2v2h-2zM576.1 228.5h2v2h-2zM578.7 225.2h2v2h-2zM578.6 226.6h2v2h-2zM578.7 207.8h2v2h-2zM578.7 223.1h2v2h-2zM580.1 203.7h2v2h-2zM579.9 213.6h2v2h-2zM579.5 195.9h2v2h-2zM582.9 211.1h2v2h-2zM582.9 207.1h2v2h-2zM583.5 224.6h2v2h-2zM613.9 237.7h2v2h-2zM614.5 238.1h2v2h-2zM615.9 225.9h2v2h-2zM615.4 227.3h2v2h-2zM620.3 222.7h2v2h-2zM642.8 202.7h2v2h-2zM642.9 207.5h2v2h-2zM644.8 221.4h2v2h-2zM645 222.3h2v2h-2zM645 222.7h2v2h-2zM645.4 198.6h2v2h-2zM646.2 215.8h2v2h-2zM648 221.8h2v2h-2zM648.3 222.7h2v2h-2zM649.5 220.1h2v2h-2zM651.3 211.8h2v2h-2zM651.4 203.4h2v2h-2zM651.2 208.5h2v2h-2zM652.8 224.9h2v2h-2zM652.3 224.4h2v2h-2zM653.2 225.5h2v2h-2z" fill="#00008f"/>
<path d="M122.7 228.6h2v2h-2zM123.6 217.2h2v2h-2zM124.7 225.8h2v2h-2zM126 208.8h2v2h-2zM125.2 217.1h2v2h-2zM125.9 204.2h2v2h-2zM127.7 209.3h2v2h-2zM128.3 216.5h2v2h-2zM129.5 228.5h2v2h-2zM131.5 216.2h2v2h-2zM131.4 221.4h2v2h-2zM133.2 223h2v2h-2zM133.5 222.9h2v2h-2zM133.8 212.4h2v2h-2zM133.4 216.8h2v2h-2zM134.6 218.3h2v2h-2zM134.3 227.1h2v2h-2zM134.3 226.6h2v2h-2zM135 211.7h2v2h-2zM136.2 225h2v2h-2zM135.9 224.5h2v2h-2zM136 224.3h2v2h-2zM139.9 212.2h2v2h-2zM139.1 213.7h2v2h-2zM141.1 223h2v2h-2zM143.2 208.8h2v2h-2zM144.9 216.6h2v2h-2zM145.4 214.1h2v2h-2zM146.1 224.5h2v2h-2zM147.1 231.4h2v2h-2zM148 230.5h2v2h-2zM148.3 227.6h2v2h-2zM148.8 229.2h2v2h-2zM149.3 216.5h2v2h-2zM150.2 212.6h2v2h-2zM150.3 217.6h2v2h-2zM151.7 215.7h2v2h-2zM150.9 220.3h2v2h-2zM152.1 213.9h2v2h-2zM151.1 214.5h2v2h-2zM152.6 220.6h2v2h-2zM152.9 220.6h2v2h-2zM152.8 213.1h2v2h-2zM211.7 217.7h2v2h-2zM211.6 218.4h2v2h-2zM211.6 217.4h2v2h-2zM211.2 221.7h2v2h-2zM212 211.6h2v2h-2zM213.9 221.2h2v2h-2zM213.8 221.2h2v2h-2zM215 226.1h2v2h-2zM215 230.5h2v2h-2zM216.2 224.9h2v2h-2zM216.8 237.3h2v2h-2zM217.4 243h2v2h-2zM218 241.5h2v2h-2zM219.1 235.2h2v2h-2zM220 236.7h2v2h-2zM220.1 228.1h2v2h-2zM220.9 236.5h2v2h-2zM222.3 218.1h2v2h-2zM222.4 219h2v2h-2zM222.4 221.9h2v2h-2zM223.2 206.1h2v2h-2zM224.1 215.6h2v2h-2zM224.1 216.1h2v2h-2zM224 218.4h2v2h-2zM224.8 205.1h2v2h-2zM224.1 204.2h2v2h-2zM224.5 205.6h2v2h-2zM226.4 206.9h2v2h-2zM227.4 204.1h2v2h-2zM227.8 212.8h2v2h-2zM228 209.6h2v2h-2zM228.7 215.3h2v2h-2zM228.6 215h2v2h-2zM230.1 210.8h2v2h-2zM230.2 212.5h2v2h-2zM231.1 222.9h2v2h-2zM230.4 217.6h2v2h-2zM231.4 223.2h2v2h-2zM232.3 233.8h2v2h-2zM233.1 220.4h2v2h-2zM233.5 229.4h2v2h-2zM236.1 230.4h2v2h-2zM235.9 234.1h2v2h-2zM236.7 228.9h2v2h-2zM237 230.3h2v2h-2zM291.6 223.5h2v2h-2zM291.8 232h2v2h-2zM290.8 230.8h2v2h-2zM292.4 232.1h2v2h-2zM292.5 233.1h2v2h-2zM293.4 231h2v2h-2zM294 226.8h2v2h-2zM295.5 222.7h2v2h-2zM295.3 219.1h2v2h-2zM295.4 226.3h2v2h-2zM296.3 232.3h2v2h-2zM295.8 233.1h2v2h-2zM297.4 216h2v2h-2zM297.4 213.1h2v2h-2zM298 224h2v2h-2zM299 229.2h2v2h-2zM299.6 222.5h2v2h-2zM299.9 234h2v2h-2zM301.7 229.8h2v2h-2zM300.7 229.6h2v2h-2zM301.5 226.4h2v2h-2zM302.2 226.7h2v2h-2zM302.9 213.6h2v2h-2zM303.8 223.3h2v2h-2zM304 227.6h2v2h-2zM303.9 224.8h2v2h-2zM304.7 212.9h2v2h-2zM304 226.4h2v2h-2zM305.5 229.8h2v2h-2zM306 225.8h2v2h-2zM306.3 217.1h2v2h-2zM306.8 230.9h2v2h-2zM306.7 229.7h2v2h-2zM309 226.7h2v2h-2zM309 222.3h2v2h-2zM309.6 234h2v2h-2zM310.2 234.8h2v2h-2zM311.7 230.3h2v2h-2zM310.9 233.5h2v2h-2zM312 237.9h2v2h-2zM312.2 234.6h2v2h-2zM313 237.4h2v2h-2zM314.6 222.4h2v2h-2zM314.8 228.1h2v2h-2zM314.4 234.9h2v2h-2zM315.8 219h2v2h-2zM315.9 236.1h2v2h-2zM316.9 231.7h2v2h-2zM317.4 232.3h2v2h-2zM366 220.2h2v2h-2zM366.5 216.4h2v2h-2zM366.9 214.8h2v2h-2zM367.2 217.3h2v2h-2zM366.9 203.5h2v2h-2zM366.9 209.2h2v2h-2zM369.2 219.3h2v2h-2zM368.9 221.9h2v2h-2zM368.7 210.1h2v2h-2zM370.6 222.2h2v2h-2zM370.5 223.7h2v2h-2zM370.4 215.7h2v2h-2zM372 235.1h2v2h-2zM371.8 233.3h2v2h-2zM373.4 234.4h2v2h-2zM373.3 219.9h2v2h-2zM375.3 230.4h2v2h-2zM376.6 240h2v2h-2zM378.1 232.8h2v2h-2zM379.6 238.6h2v2h-2zM379.4 237.5h2v2h-2zM380.3 229.7h2v2h-2zM380.5 231.1h2v2h-2zM379.9 227.3h2v2h-2zM380.7 236.9h2v2h-2zM382.9 224.6h2v2h-2zM384 219.9h2v2h-2zM385.3 220h2v2h-2zM385.3 223.9h2v2h-2zM386.1 209.5h2v2h-2zM387.6 207.3h2v2h-2zM387 207.2h2v2h-2zM388.4 195h2v2h-2zM388.5 178.6h2v2h-2zM388.8 185.6h2v2h-2zM388.9 185.1h2v2h-2zM389.3 177.7h2v2h-2zM389.8 198.4h2v2h-2zM390.8 203.3h2v2h-2zM431.1 200.4h2v2h-2zM432.8 210.6h2v2h-2zM432.8 211.6h2v2h-2zM432.5 209h2v2h-2zM432.7 203.4h2v2h-2zM433.3 211.4h2v2h-2zM433.1 206.9h2v2h-2zM433.8 212.6h2v2h-2zM433.1 208.8h2v2h-2zM434.1 199.5h2v2h-2zM434.5 185.9h2v2h-2zM435.1 198.8h2v2h-2zM435.2 205.7h2v2h-2zM436.3 205h2v2h-2zM438 216.6h2v2h-2zM437.2 218.4h2v2h-2zM437 220.4h2v2h-2zM437.3 207.8h2v2h-2zM438 217.2h2v2h-2zM438.3 206.7h2v2h-2zM438.8 220.5h2v2h-2zM439 213.3h2v2h-2zM439 218.3h2v2h-2zM439.9 212.5h2v2h-2zM439.8 224.5h2v2h-2zM440.9 230.8h2v2h-2zM441.6 227.6h2v2h-2zM441.2 234.1h2v2h-2zM443 217.3h2v2h-2zM442.5 206.4h2v2h-2zM443.2 220.2h2v2h-2zM445.1 207.2h2v2h-2zM445.5 214h2v2h-2zM446.3 209.8h2v2h-2zM448 220.3h2v2h-2zM447.9 226.5h2v2h-2zM448.9 224.5h2v2h-2zM449.1 224.7h2v2h-2zM488.5 229h2v2h-2zM489.7 226.8h2v2h-2zM490 228h2v2h-2zM492.3 224.1h2v2h-2zM492.2 218.8h2v2h-2zM493.9 195.7h2v2h-2zM494.3 207.2h2v2h-2zM495.1 202.6h2v2h-2zM495.4 194.1h2v2h-2zM497.4 214.9h2v2h-2zM499.5 227.7h2v2h-2zM503.4 218.7h2v2h-2zM503.4 230.8h2v2h-2zM504.9 223.8h2v2h-2zM536.7 220.3h2v2h-2zM536.5 205.8h2v2h-2zM538.4 207.1h2v2h-2zM538.4 214.4h2v2h-2zM538.6 209h2v2h-2zM540.5 213.8h2v2h-2zM542.6 204.9h2v2h-2zM543.6 196.3h2v2h-2zM544.3 207.8h2v2h-2zM543.9 194.3h2v2h-2zM544.2 205.6h2v2h-2zM543.5 186.4h2v2h-2zM544.4 197.2h2v2h-2zM546.4 219.1h2v2h-2zM549.1 203.2h2v2h-2zM549.1 221.9h2v2h-2zM549.7 216.4h2v2h-2zM551.9 225.6h2v2h-2zM584.8 230.1h2v2h-2zM585.6 236.5h2v2h-2zM586.7 233.9h2v2h-2zM587.6 223.9h2v2h-2zM587.6 225.7h2v2h-2zM589.8 223h2v2h-2zM589.7 225.5h2v2h-2zM590 218.8h2v2h-2zM590.3 224.7h2v2h-2zM590.3 222.5h2v2h-2zM591.1 215.5h2v2h-2zM590.9 223.3h2v2h-2zM591.5 225h2v2h-2zM592 223.9h2v2h-2zM592.7 222.7h2v2h-2zM593 221h2v2h-2zM593.1 208.4h2v2h-2zM594.1 219.1h2v2h-2zM595.4 201.5h2v2h-2zM621.3 229.7h2v2h-2zM622.3 229.4h2v2h-2zM622.4 227.5h2v2h-2zM622.5 219.7h2v2h-2zM622.8 217.3h2v2h-2zM622.9 231.1h2v2h-2zM623.3 233.4h2v2h-2zM623.1 222.4h2v2h-2zM625.2 226.8h2v2h-2zM625.3 230.7h2v2h-2zM625.2 221.4h2v2h-2zM626.8 230.4h2v2h-2zM627.4 226.5h2v2h-2zM627.1 220.7h2v2h-2zM628.9 207h2v2h-2zM631.3 222.3h2v2h-2zM631.5 212.3h2v2h-2zM653.4 223.8h2v2h-2zM655.5 229.8h2v2h-2zM656.4 227.4h2v2h-2zM656.1 227.1h2v2h-2zM658.1 225.1h2v2h-2zM659.7 213.6h2v2h-2zM661.3 200.9h2v2h-2zM661.3 209.9h2v2h-2zM660.7 215h2v2h-2zM661.2 215.8h2v2h-2zM662.4 209.7h2v2h-2zM662.8 211h2v2h-2zM663.2 211.8h2v2h-2zM664.3 213.2h2v2h-2zM664.7 207.4h2v2h-2zM665.7 224.9h2v2h-2zM667.8 237.3h2v2h-2zM668.1 235h2v2h-2zM668.4 238.9h2v2h-2z" fill="#8e7457"/>
<path d="M153.4 224.2h2v2h-2zM152.6 225.4h2v2h-2zM153.4 221.1h2v2h-2zM154.2 225.9h2v2h-2zM153.9 217.3h2v2h-2zM154.2 216.2h2v2h-2zM155.1 213.7h2v2h-2zM155.6 228.9h2v2h-2zM155.7 209.2h2v2h-2zM154.8 227.1h2v2h-2zM156.2 205.6h2v2h-2zM155.5 221.2h2v2h-2zM156.8 228.2h2v2h-2zM158.7 220.9h2v2h-2zM158.4 229.3h2v2h-2zM159.6 217.9h2v2h-2zM160.7 225.8h2v2h-2zM160.7 227h2v2h-2zM161.3 222.4h2v2h-2zM161.4 213.9h2v2h-2zM161.2 220h2v2h-2zM161 220h2v2h-2zM161.5 210.6h2v2h-2zM162.4 226h2v2h-2zM162.8 225.4h2v2h-2zM163.9 221.7h2v2h-2zM164.5 221.5h2v2h-2zM164.7 212.7h2v2h-2zM165.6 217.7h2v2h-2zM166.7 214.9h2v2h-2zM166.2 220.3h2v2h-2zM167 219.8h2v2h-2zM167.6 229.7h2v2h-2zM168.4 229.3h2v2h-2zM168.4 229.5h2v2h-2zM168.3 230.1h2v2h-2zM169 231.2h2v2h-2zM169.1 214.7h2v2h-2zM169.1 229.2h2v2h-2zM169.8 217.1h2v2h-2zM171.8 228.6h2v2h-2zM171.5 218.4h2v2h-2zM171.9 223.9h2v2h-2zM172.7 228.2h2v2h-2zM174.1 217.9h2v2h-2zM174.3 226.4h2v2h-2zM174.1 212.2h2v2h-2zM175.4 215.2h2v2h-2zM176.7 222.5h2v2h-2zM178.1 223.3h2v2h-2zM178.1 212.7h2v2h-2zM178.6 227.2h2v2h-2zM179.2 222.3h2v2h-2zM178.5 210h2v2h-2zM179 226.9h2v2h-2zM180.8 219h2v2h-2zM181.2 217.4h2v2h-2zM237.2 226.6h2v2h-2zM240.8 229.3h2v2h-2zM240 228.9h2v2h-2zM242.4 216.1h2v2h-2zM243 225.6h2v2h-2zM244.6 204.2h2v2h-2zM246.7 224.2h2v2h-2zM246.8 221.9h2v2h-2zM247.3 221.7h2v2h-2zM246.8 224.1h2v2h-2zM247.1 219.9h2v2h-2zM251 228.6h2v2h-2zM251.1 230.3h2v2h-2zM250.9 216.2h2v2h-2zM252.8 223h2v2h-2zM253.9 211.2h2v2h-2zM253.3 215.2h2v2h-2zM252.7 215.1h2v2h-2zM254.4 215.5h2v2h-2zM255.4 215.8h2v2h-2zM256.3 215.7h2v2h-2zM256 215.5h2v2h-2zM257.5 211.8h2v2h-2zM256.8 216.1h2v2h-2zM258.5 221.2h2v2h-2zM260 200.2h2v2h-2zM259.7 215h2v2h-2zM261.3 220.5h2v2h-2zM261 215.4h2v2h-2zM261.1 213.4h2v2h-2zM261.5 222.6h2v2h-2zM263.6 225h2v2h-2zM263.4 225.5h2v2h-2zM264 226.7h2v2h-2zM264.2 222.4h2v2h-2zM317.5 227.8h2v2h-2zM318 230.6h2v2h-2zM319.5 209.5h2v2h-2zM321.7 204.6h2v2h-2zM322.7 194.4h2v2h-2zM323 205.8h2v2h-2zM323 194.9h2v2h-2zM323.1 199.9h2v2h-2zM324.1 204.8h2v2h-2zM323.9 207.3h2v2h-2zM325.8 214h2v2h-2zM326.9 214.9h2v2h-2zM327 214h2v2h-2zM326.8 219.8h2v2h-2zM328.3 229.2h2v2h-2zM328.7 231.2h2v2h-2zM329.7 224.8h2v2h-2zM331.1 235.3h2v2h-2zM332 232h2v2h-2zM332.1 233h2v2h-2zM332.9 228.5h2v2h-2zM331.9 225h2v2h-2zM334 225.5h2v2h-2zM333.1 225.5h2v2h-2zM334 225.7h2v2h-2zM335 222.1h2v2h-2zM335.5 219.1h2v2h-2zM336.6 220.8h2v2h-2zM336 215h2v2h-2zM337.7 217.9h2v2h-2zM338.2 218.6h2v2h-2zM339.3 226h2v2h-2zM339 227h2v2h-2zM339 214h2v2h-2zM342 232.4h2v2h-2zM389.9 219.1h2v2h-2zM390.6 222.1h2v2h-2zM390 215.5h2v2h-2zM389.7 221.3h2v2h-2zM390 217.9h2v2h-2zM391 217h2v2h-2zM391.7 215.1h2v2h-2zM393.7 223.3h2v2h-2zM393.6 218.6h2v2h-2zM393.2 220.3h2v2h-2zM394.7 230h2v2h-2zM394.2 228.8h2v2h-2zM394.5 220.9h2v2h-2zM395.2 221.3h2v2h-2zM396.3 227.2h2v2h-2zM396.2 223.3h2v2h-2zM396.1 219.2h2v2h-2zM397.6 220.7h2v2h-2zM397.8 229.1h2v2h-2zM398.7 230.5h2v2h-2zM398.8 231.8h2v2h-2zM398.2 232.4h2v2h-2zM398.2 224.4h2v2h-2zM399.4 234.8h2v2h-2zM400 233h2v2h-2zM400.3 228.7h2v2h-2zM401.4 234.4h2v2h-2zM401.3 236.6h2v2h-2zM401.4 236.3h2v2h-2zM401.9 234.5h2v2h-2zM402.8 227.4h2v2h-2zM403.3 229.4h2v2h-2zM403.8 219.8h2v2h-2zM404.3 219.7h2v2h-2zM404.2 216.5h2v2h-2zM404.2 228.1h2v2h-2zM406.8 201.3h2v2h-2zM407.6 217.7h2v2h-2zM407.4 208.9h2v2h-2zM408.4 222.8h2v2h-2zM408.9 232.6h2v2h-2zM410.1 225.3h2v2h-2zM410.3 228.2h2v2h-2zM410.8 233.1h2v2h-2zM411.6 232.5h2v2h-2zM450.6 222.2h2v2h-2zM450.8 231.8h2v2h-2zM451 231.6h2v2h-2zM451.9 233.4h2v2h-2zM451.8 232.5h2v2h-2zM451.1 232.2h2v2h-2zM453.4 214.5h2v2h-2zM454.1 213h2v2h-2zM455.1 191.4h2v2h-2zM455.7 211.5h2v2h-2zM455.7 199.6h2v2h-2zM456.6 191.4h2v2h-2zM456.1 206.9h2v2h-2zM457.7 213.3h2v2h-2zM458 212.3h2v2h-2zM459.1 206.2h2v2h-2zM458 206.8h2v2h-2zM458.7 195.7h2v2h-2zM459.3 198.5h2v2h-2zM460.3 202.8h2v2h-2zM461.1 206.6h2v2h-2zM464.4 224.3h2v2h-2zM464.8 211.9h2v2h-2zM464.4 222.5h2v2h-2zM464.3 223.2h2v2h-2zM465 213.8h2v2h-2zM467.2 231.5h2v2h-2zM467.9 231.4h2v2h-2zM467.8 231.5h2v2h-2zM468.1 232.1h2v2h-2zM469.7 229.1h2v2h-2zM470.1 225.9h2v2h-2zM506.2 210.7h2v2h-2zM508.2 227h2v2h-2zM508.4 221.4h2v2h-2zM507.8 219.3h2v2h-2zM508.1 221.7h2v2h-2zM508.6 206h2v2h-2zM509 213.4h2v2h-2zM510.3 222.4h2v2h-2zM509.8 222h2v2h-2zM511.3 213.1h2v2h-2zM511.1 208.1h2v2h-2zM511.3 221.7h2v2h-2zM511 218.4h2v2h-2zM511.5 212.4h2v2h-2zM513.2 199.6h2v2h-2zM513.2 199.5h2v2h-2zM515 209.7h2v2h-2zM514.7 210.2h2v2h-2zM516.4 212.7h2v2h-2zM516.9 223.9h2v2h-2zM518.2 223.4h2v2h-2zM518.1 225.2h2v2h-2zM518.3 229.1h2v2h-2zM518.4 226.5h2v2h-2zM519.6 230h2v2h-2zM518.9 219.3h2v2h-2zM518.5 231.5h2v2h-2zM520.4 233.7h2v2h-2zM520.8 223h2v2h-2zM522.2 239.9h2v2h-2zM553.7 230.9h2v2h-2zM554.2 213h2v2h-2zM555 230.7h2v2h-2zM556.5 217.3h2v2h-2zM555.9 212.2h2v2h-2zM555.6 216h2v2h-2zM557.4 221.7h2v2h-2zM559.5 215.3h2v2h-2zM559.6 221.8h2v2h-2zM560.2 225.9h2v2h-2zM561.5 221.2h2v2h-2zM561.8 215.1h2v2h-2zM561.8 223.1h2v2h-2zM563.1 205.5h2v2h-2zM563.5 221.9h2v2h-2zM564.6 207.5h2v2h-2zM565.2 209.5h2v2h-2zM564.4 214.1h2v2h-2zM566 211.1h2v2h-2zM566.5 218.7h2v2h-2zM566.1 216.6h2v2h-2zM567.5 217.6h2v2h-2zM568.9 225.3h2v2h-2zM569.4 223.2h2v2h-2zM597.1 218.8h2v2h-2zM598.9 222.1h2v2h-2zM598.1 212.4h2v2h-2zM598.5 207.9h2v2h-2zM598.2 222.2h2v2h-2zM598.7 221h2v2h-2zM599.4 216.8h2v2h-2zM599.6 206.3h2v2h-2zM599.5 210.8h2v2h-2zM598.9 223.5h2v2h-2zM600.1 214.9h2v2h-2zM600.4 216.1h2v2h-2zM600.9 202.1h2v2h-2zM600.8 220.8h2v2h-2zM601.1 214h2v2h-2zM602.1 213.8h2v2h-2zM603.5 206.4h2v2h-2zM603.8 218.2h2v2h-2zM604.2 220.2h2v2h-2zM604.7 220.9h2v2h-2zM605.3 213.3h2v2h-2zM605.9 220.3h2v2h-2zM606 220.8h2v2h-2zM607.1 213.6h2v2h-2zM608.9 192.9h2v2h-2zM608.5 203.9h2v2h-2zM609 208.5h2v2h-2zM610.3 216.6h2v2h-2zM610.4 209.5h2v2h-2zM631.9 223.7h2v2h-2zM631.3 227.9h2v2h-2zM632.8 230.2h2v2h-2zM634.5 226.7h2v2h-2zM635.1 215.5h2v2h-2zM634.4 209.1h2v2h-2zM634.7 229.3h2v2h-2zM636.1 214.8h2v2h-2zM635.9 216.3h2v2h-2zM636.2 217h2v2h-2zM637.3 226.2h2v2h-2zM637.7 226.8h2v2h-2zM638.4 218.6h2v2h-2zM638.9 217.3h2v2h-2zM641.2 201h2v2h-2zM641.3 208.1h2v2h-2z" fill="#008300"/>
<path d="M84.9 202.7h2.6v2.6h-2.6zM85.3 207.1h2.6v2.6h-2.6zM85.6 212.9h2.6v2.6h-2.6zM86.3 217.3h2.6v2.6h-2.6zM95.1 158.2h2.6v2.6h-2.6zM96.6 158.9h2.6v2.6h-2.6zM100.9 167.7h2.6v2.6h-2.6zM100.2 176.4h2.6v2.6h-2.6zM97.3 189.6h2.6v2.6h-2.6zM100.9 196.9h2.6v2.6h-2.6zM113.4 192.5h2.6v2.6h-2.6zM119.9 196.9h2.6v2.6h-2.6zM104.6 204.2h2.6v2.6h-2.6zM105.3 210h2.6v2.6h-2.6zM111.9 210h2.6v2.6h-2.6zM118.5 210h2.6v2.6h-2.6zM120.7 217.3h2.6v2.6h-2.6zM101.7 215.9h2.6v2.6h-2.6zM182.7 179.4h2.6v2.6h-2.6zM183.4 195.4h2.6v2.6h-2.6zM183.4 204.2h2.6v2.6h-2.6zM190.7 202.7h2.6v2.6h-2.6zM190.7 215.1h2.6v2.6h-2.6zM207.5 196.9h2.6v2.6h-2.6zM208.2 201.3h2.6v2.6h-2.6zM265.2 217.3h2.6v2.6h-2.6zM266.6 198.3h2.6v2.6h-2.6zM265.9 204.9h2.6v2.6h-2.6zM266.6 212.9h2.6v2.6h-2.6zM277.6 201.3h2.6v2.6h-2.6zM277.6 207.1h2.6v2.6h-2.6zM265.9 223.9h2.6v2.6h-2.6zM269.6 229h2.6v2.6h-2.6zM288.5 168.4h2.6v2.6h-2.6zM283.4 212.9h2.6v2.6h-2.6zM287.1 218.8h2.6v2.6h-2.6zM342.6 194h2.6v2.6h-2.6zM342.6 202.7h2.6v2.6h-2.6zM359.3 202.7h2.6v2.6h-2.6zM360.1 208.6h2.6v2.6h-2.6zM363 202h2.6v2.6h-2.6zM349.1 225.3h2.6v2.6h-2.6zM420.4 170.3h2.6v2.6h-2.6zM420.7 200.5h2.6v2.6h-2.6zM420.7 205.6h2.6v2.6h-2.6zM414.1 203.9h2.6v2.6h-2.6zM416.3 208.6h2.6v2.6h-2.6zM414.1 212.9h2.6v2.6h-2.6zM414.1 219.5h2.6v2.6h-2.6zM425 212.9h2.6v2.6h-2.6zM469.6 189.6h2.6v2.6h-2.6zM469.6 194.2h2.6v2.6h-2.6zM480.2 166.2h2.6v2.6h-2.6zM479.8 175.7h2.6v2.6h-2.6zM479.8 180.1h2.6v2.6h-2.6zM479.8 187.4h2.6v2.6h-2.6zM479.8 194.7h2.6v2.6h-2.6zM479.8 200.5h2.6v2.6h-2.6zM479.8 207.1h2.6v2.6h-2.6zM473.2 231.9h2.6v2.6h-2.6zM483.4 204.9h2.6v2.6h-2.6zM521.4 217.3h2.6v2.6h-2.6zM526.8 191.9h2.6v2.6h-2.6zM527.2 199.8h2.6v2.6h-2.6zM526.5 204.2h2.6v2.6h-2.6zM533.8 211.5h2.6v2.6h-2.6zM579.1 186.7h2.6v2.6h-2.6zM579.1 195.4h2.6v2.6h-2.6zM579.1 199.8h2.6v2.6h-2.6zM571 209.3h2.6v2.6h-2.6zM580.5 210h2.6v2.6h-2.6zM582.7 203.4h2.6v2.6h-2.6zM582.7 210h2.6v2.6h-2.6zM582.7 215.9h2.6v2.6h-2.6zM618.5 202h2.6v2.6h-2.6zM618.5 204.2h2.6v2.6h-2.6zM618.5 211.5h2.6v2.6h-2.6zM642.3 179.6h2.6v2.6h-2.6zM641.8 193.2h2.6v2.6h-2.6zM647.7 211.2h2.6v2.6h-2.6zM643.3 208.6h2.6v2.6h-2.6z" fill="#000066"/>
<path d="M132.3 199.8h2.6v2.6h-2.6zM132.3 209.3h2.6v2.6h-2.6zM144 191.8h2.6v2.6h-2.6zM144 202.7h2.6v2.6h-2.6zM144 207.1h2.6v2.6h-2.6zM149.1 208.6h2.6v2.6h-2.6zM141.8 215.1h2.6v2.6h-2.6zM125 218.8h2.6v2.6h-2.6zM211.2 191.8h2.6v2.6h-2.6zM212.6 196.9h2.6v2.6h-2.6zM213.4 202.7h2.6v2.6h-2.6zM212.6 207.1h2.6v2.6h-2.6zM225.8 180.1h2.6v2.6h-2.6zM225 188.1h2.6v2.6h-2.6zM229.4 194h2.6v2.6h-2.6zM225 196.9h2.6v2.6h-2.6zM226.5 204.9h2.6v2.6h-2.6zM233.1 217.3h2.6v2.6h-2.6zM234.5 224.6h2.6v2.6h-2.6zM302.4 199.1h2.6v2.6h-2.6zM303.9 214.4h2.6v2.6h-2.6zM303.9 218.8h2.6v2.6h-2.6zM298.8 220.2h2.6v2.6h-2.6zM310.4 220.2h2.6v2.6h-2.6zM312.6 224.6h2.6v2.6h-2.6zM292.2 220.2h2.6v2.6h-2.6zM365.9 179.1h2.6v2.6h-2.6zM366.6 204.9h2.6v2.6h-2.6zM365.9 208.6h2.6v2.6h-2.6zM380.5 221h2.6v2.6h-2.6zM379.1 228.3h2.6v2.6h-2.6zM388.2 159.6h2.6v2.6h-2.6zM388.2 165.1h2.6v2.6h-2.6zM388.2 173.5h2.6v2.6h-2.6zM388.2 177.9h2.6v2.6h-2.6zM388.2 183.7h2.6v2.6h-2.6zM435.3 204.2h2.6v2.6h-2.6zM438.9 221h2.6v2.6h-2.6zM447.7 212.9h2.6v2.6h-2.6zM488.2 184.9h2.6v2.6h-2.6zM495.8 172.3h2.6v2.6h-2.6zM494.7 178.2h2.6v2.6h-2.6zM504.6 199.1h2.6v2.6h-2.6zM503.9 208.6h2.6v2.6h-2.6zM503.9 217.3h2.6v2.6h-2.6zM495.1 198.3h2.6v2.6h-2.6zM552 176.1h2.6v2.6h-2.6zM552 181.5h2.6v2.6h-2.6zM552 193.2h2.6v2.6h-2.6zM552 204.9h2.6v2.6h-2.6zM538.2 205.6h2.6v2.6h-2.6zM550.6 211.5h2.6v2.6h-2.6zM594.7 188.4h2.6v2.6h-2.6zM594.7 193.2h2.6v2.6h-2.6zM594.1 199.1h2.6v2.6h-2.6zM590 217.3h2.6v2.6h-2.6zM587.1 221.7h2.6v2.6h-2.6zM621.8 205.6h2.6v2.6h-2.6zM629.1 199.8h2.6v2.6h-2.6zM628.7 207.1h2.6v2.6h-2.6zM628 215.9h2.6v2.6h-2.6zM629.4 220.2h2.6v2.6h-2.6zM660.5 194.4h2.6v2.6h-2.6zM660.5 200.5h2.6v2.6h-2.6zM660.1 208.6h2.6v2.6h-2.6zM656.4 207.8h2.6v2.6h-2.6zM653.9 212.9h2.6v2.6h-2.6z" fill="#75624a"/>
<path d="M152.8 192.5h2.6v2.6h-2.6zM152.8 203.4h2.6v2.6h-2.6zM157.9 183h2.6v2.6h-2.6zM155.7 189.6h2.6v2.6h-2.6zM173.2 195.4h2.6v2.6h-2.6zM168.1 210.7h2.6v2.6h-2.6zM173.2 210.7h2.6v2.6h-2.6zM173.2 215.1h2.6v2.6h-2.6zM163.7 215.9h2.6v2.6h-2.6zM163 220.2h2.6v2.6h-2.6zM241.1 208.6h2.6v2.6h-2.6zM246.2 209.3h2.6v2.6h-2.6zM246.9 212.9h2.6v2.6h-2.6zM240.4 212.9h2.6v2.6h-2.6zM258.6 180.8h2.6v2.6h-2.6zM258.6 195.4h2.6v2.6h-2.6zM258.6 204.9h2.6v2.6h-2.6zM258.6 212.9h2.6v2.6h-2.6zM263 208.6h2.6v2.6h-2.6zM316.3 220.2h2.6v2.6h-2.6zM337.4 191h2.6v2.6h-2.6zM338.2 196.9h2.6v2.6h-2.6zM336.7 204.2h2.6v2.6h-2.6zM337.4 208.6h2.6v2.6h-2.6zM338.2 215.9h2.6v2.6h-2.6zM331.6 220.2h2.6v2.6h-2.6zM320.7 206.4h2.6v2.6h-2.6zM405.3 185.2h2.6v2.6h-2.6zM405.3 192.5h2.6v2.6h-2.6zM405.3 195.4h2.6v2.6h-2.6zM406.1 199.8h2.6v2.6h-2.6zM406.1 204.9h2.6v2.6h-2.6zM395.1 199.1h2.6v2.6h-2.6zM395.8 213.7h2.6v2.6h-2.6zM405.3 212.9h2.6v2.6h-2.6zM408.2 210.7h2.6v2.6h-2.6zM452.8 175h2.6v2.6h-2.6zM453.1 181.5h2.6v2.6h-2.6zM453.1 192.5h2.6v2.6h-2.6zM453.5 199.1h2.6v2.6h-2.6zM458.6 200.5h2.6v2.6h-2.6zM465.2 202.7h2.6v2.6h-2.6zM465.2 208.6h2.6v2.6h-2.6zM465.9 221h2.6v2.6h-2.6zM514.8 180.1h2.6v2.6h-2.6zM514.8 202h2.6v2.6h-2.6zM512.6 208.6h2.6v2.6h-2.6zM554.2 218.8h2.6v2.6h-2.6zM562.3 196.6h2.6v2.6h-2.6zM565.9 215.9h2.6v2.6h-2.6zM598.8 200.5h2.6v2.6h-2.6zM609 186.9h2.6v2.6h-2.6zM609 191h2.6v2.6h-2.6zM608.7 199.1h2.6v2.6h-2.6zM609 208.6h2.6v2.6h-2.6zM598.8 211.5h2.6v2.6h-2.6zM601.7 215.9h2.6v2.6h-2.6zM639.6 189.9h2.6v2.6h-2.6zM639.3 197.6h2.6v2.6h-2.6zM635.3 208.6h2.6v2.6h-2.6zM633.1 212.9h2.6v2.6h-2.6zM635.3 217.3h2.6v2.6h-2.6z" fill="#1a661a"/>
<path d="M94.6 1.5h4v4h-4zM94.6 79.1h4v4h-4zM94.6 84.8h4v4h-4zM94.6 88.6h4v4h-4zM94.6 95.5h4v4h-4zM94.6 129.2h4v4h-4zM94.6 139.2h4v4h-4zM94.6 143.1h4v4h-4z" fill="#b4289e"/>
<path d="M95.6 2.5h2v2h-2zM95.6 80.1h2v2h-2zM95.6 85.8h2v2h-2zM95.6 89.6h2v2h-2zM95.6 96.5h2v2h-2zM95.6 130.2h2v2h-2zM95.6 140.2h2v2h-2zM95.6 144.1h2v2h-2z" fill="#300a30"/>
<path d="M105.2 289.4v2.5M138.8 289.4v2.5M168.5 289.4v2.5M196.8 289.4v2.5M224.4 289.4v2.5M252.2 289.4v2.5M279.2 289.4v2.5M305.4 289.4v2.5M330.7 289.4v2.5M355 289.4v2.5M379.2 289.4v2.5M402.1 289.4v2.5M422.8 289.4v2.5M442 289.4v2.5M461.3 289.4v2.5M480.6 289.4v2.5M498.5 289.4v2.5M515 289.4v2.5M530.5 289.4v2.5M546.5 289.4v2.5M562.9 289.4v2.5M578.1 289.4v2.5M591.5 289.4v2.5M604.5 289.4v2.5M616.7 289.4v2.5M627.2 289.4v2.5M638.2 289.4v2.5M649.2 289.4v2.5M662 289.4v2.5" stroke="#99a" stroke-width="0.8" fill="none"/>
<path d="M69.5 358.3V626.3" stroke="#8c8c8c" stroke-width="1.2" fill="none"/>
<path d="M64.8 626.3H68.8M64.8 588H68.8M64.8 549.7H68.8M64.8 511.4H68.8M64.8 473.2H68.8M64.8 434.9H68.8M64.8 396.6H68.8M64.8 358.3H68.8" stroke="#8c8c8c" stroke-width="1.1" fill="none"/>
<path d="M68.8 588.5H682" stroke="#a4a4a4" stroke-width="1.2" fill="none"/>
<path d="M84.6 627V603.4H85.6V603.1H86.6V607H87.6V608.4H88.6V610.6H89.6V610.3H90.6V609.8H91.6V608.6H92.6V606.4H93.6V605.5H94.6V606.8H95.6V602.7H96.6V605.1H97.6V604.5H98.6V607.2H99.6V607.5H100.6V608.8H101.6V608.1H102.6V606.6H103.6V601.7H104.6V606H105.6V608.5H106.6V606.5H107.6V604.6H108.6V607.4H109.6V603.3H110.6V603.6H111.6V604.3H112.6V605.9H113.6V602.2H114.6V601.8H115.6V606.6H116.6V604.5H117.6V604.9H118.6V606.2H119.6V605.1H120.6V603.5H121.2V627ZM180.6 627V602.1H181.6V602.2H182.6V601.5H183.6V601.1H184.6V603.7H185.6V603.4H186.6V603.1H187.6V606.4H188.6V607.6H189.6V607.8H190.6V606.5H191.6V604.9H192.6V607.7H193.6V603.7H194.6V610H195.6V606.7H196.6V608.2H197.6V601H198.6V606.2H199.6V604.4H200.6V603.9H201.6V605.6H202.6V608H203.6V607.5H204.6V607.7H205.6V608.8H206.6V604.7H207.6V607.3H208.4V627ZM264 627V602.9H265V605.2H266V606.2H267V606.1H268V599.2H269V604H270V603.1H271V604.7H272V605.8H273V605H274V602.6H275V604.7H276V602.9H277V600.3H278V602.9H279V604.5H280V606.5H281V605H282V606.5H283V606.5H284V606H285V606H286V606.5H287V602.9H288V601.6H289V606.7H290V605.2H290.1V627ZM340.7 627V602.4H341.7V606.1H342.7V605H343.7V602.1H344.7V600.7H345.7V603.4H346.7V602.2H347.7V602.2H348.7V600.9H349.7V599.4H350.7V603.4H351.7V604.3H352.7V604.9H353.7V605.9H354.7V604.8H355.7V605.8H356.7V607.3H357.7V605.7H358.7V606.5H359.7V604.2H360.7V604.2H361.7V602.2H362.7V604.9H363.7V607.3H364.7V604.4H365V627ZM410.9 627V599.7H411.9V596.1H412.9V595.7H413.9V598.5H414.9V600.3H415.9V600.2H416.9V603.9H417.9V604.4H418.9V605.9H419.9V606.8H420.9V606.9H421.9V604H422.9V604.8H423.9V608.2H424.9V607H425.9V602.5H426.9V606.7H427.9V607.1H428.9V606.7H429.9V607H430.4V627ZM469 627V606.3H470V606.2H471V605.8H472V607.3H473V606.9H474V606.1H475V604.9H476V606.4H477V604.5H478V604.8H479V601.1H480V604.8H481V606H482V604.7H483V608H484V608.3H485V608.5H486V607.2H487V609.2H487.9V627ZM521 627V605.5H522V598.8H523V600.2H524V602.5H525V605.5H526V604.3H527V607H528V607.2H529V603.4H530V605.2H531V603.9H532V601.3H533V601H534V602.1H535V605.2H535.9V627ZM568.6 627V606.4H569.6V607.1H570.6V605.6H571.6V604H572.6V603.4H573.6V599.1H574.6V603.4H575.6V606.4H576.6V609H577.6V607.4H578.6V605.9H579.6V605.8H580.6V603.6H581.6V603.4H582.6V603.9H583.5V627ZM609.7 627V606.8H610.7V607.3H611.7V609.8H612.7V607.2H613.7V608H614.7V606.9H615.7V607H616.7V607H617.7V606.5H618.7V606.6H619.7V627ZM641.6 627V606.3H642.6V608H643.6V608.2H644.6V607.4H645.6V606.2H646.6V607.4H647.6V607.4H648.6V608H649.6V608.5H650.6V608.9H651.6V606.6H652.6V604H652.9V627Z" fill="#00008f"/>
<path d="M121.2 627V605.9H122.2V608.1H123.2V606.8H124.2V604.7H125.2V603.7H126.2V602.7H127.2V601.7H128.2V604.6H129.2V606.3H130.2V608.1H131.2V607.2H132.2V609.1H133.2V608.5H134.2V606.3H135.2V607.6H136.2V605.3H137.2V605.5H138.2V607.1H139.2V608.6H140.2V609.1H141.2V610.1H142.2V610.2H143.2V608.9H144.2V608.7H145.2V607.4H146.2V607.7H147.2V607.8H148.2V607.7H149.2V606.3H150.2V606.4H151.2V606.3H151.8V627ZM208.4 627V604H209.4V607.2H210.4V606.2H211.4V602.8H212.4V603.6H213.4V604.4H214.4V605.3H215.4V604.8H216.4V605.1H217.4V606.2H218.4V602.6H219.4V607H220.4V607.2H221.4V608.8H222.4V609.8H223.4V607.9H224.4V608.4H225.4V612.5H226.4V610.3H227.4V608.8H228.4V605.6H229.4V604.7H230.4V603.2H231.4V605.1H232.4V607.4H233.4V608.7H234.4V604.4H235.4V607.8H236.1V627ZM290.1 627V606.8H291.1V609.9H292.1V610.9H293.1V611.5H294.1V612.5H295.1V612.5H296.1V610.1H297.1V612.4H298.1V611.7H299.1V611.2H300.1V608.9H301.1V607.8H302.1V606.5H303.1V606.3H304.1V604.1H305.1V604.5H306.1V601.9H307.1V603H308.1V602.5H309.1V598.9H310.1V602.8H311.1V603.4H312.1V604.7H313.1V603.6H314.1V602.2H315.1V604.6H316.1V602.6H316.3V627ZM365 627V605.7H366V606.6H367V606H368V600.8H369V605.2H370V598.5H371V607.3H372V606H373V605.6H374V608.7H375V606.7H376V606.2H377V605.5H378V604.4H379V605.1H380V601.3H381V601.4H382V603.4H383V601.6H384V599.3H385V596.5H386V597H387V593.8H388V590.7H389V593.5H389.2V627ZM430.4 627V604.6H431.4V606.8H432.4V606.6H433.4V604H434.4V604.7H435.4V605.2H436.4V606.7H437.4V606.5H438.4V605.8H439.4V607H440.4V605.1H441.4V603.1H442.4V601.2H443.4V605H444.4V590.5H445.4V603.9H446.4V604.3H447.4V605.1H448.4V604.6H449.4V627ZM487.9 627V608.2H488.9V599.1H489.9V606.1H490.9V604.9H491.9V606.5H492.9V607.1H493.9V610.1H494.9V605.6H495.9V611.1H496.9V607H497.9V606.6H498.9V611.2H499.9V608.2H500.9V604.4H501.9V604.6H502.9V608.1H503.9V609.6H504.9V627ZM535.9 627V609.3H536.9V608.4H537.9V607H538.9V603.4H539.9V603.9H540.9V601.9H541.9V605.8H542.9V603.2H543.9V606.9H544.9V610.8H545.9V611.3H546.9V605.3H547.9V608.8H548.9V607H549.9V609H550.9V609.7H551.9V608.7H552.9V627ZM583.5 627V605.9H584.5V606.3H585.5V605.7H586.5V605.8H587.5V602.5H588.5V607.1H589.5V607.7H590.5V607.5H591.5V608H592.5V608H593.5V606.8H594.5V606.8H595.4V627ZM619.7 627V604.9H620.7V602H621.7V606.4H622.7V607.1H623.7V605.1H624.7V600.8H625.7V600H626.7V601H627.7V602.9H628.7V605.1H629.7V605.9H630.7V606.3H630.8V627ZM652.9 627V597.1H653.9V595.4H654.9V601.4H655.9V605.1H656.9V606.7H657.9V606.6H658.9V601.1H659.9V602.7H660.9V606H661.9V604.2H662.9V605.8H663.9V600.5H664.9V608H665.9V609.7H666.9V609.2H667V627Z" fill="#8e7457"/>
<path d="M151.8 627V602.1H152.8V602.9H153.8V602.7H154.8V605.2H155.8V606.4H156.8V604.5H157.8V601.4H158.8V602.1H159.8V601.1H160.8V601.1H161.8V604.1H162.8V603.8H163.8V605.2H164.8V602.6H165.8V603.2H166.8V602.9H167.8V603H168.8V602.7H169.8V602.4H170.8V599.7H171.8V601.7H172.8V600.3H173.8V602.2H174.8V603.1H175.8V601.1H176.8V602.2H177.8V601.8H178.8V600.9H179.8V603.7H180.6V627ZM236.1 627V606.6H237.1V604.3H238.1V601.5H239.1V604.6H240.1V603.9H241.1V603.8H242.1V604.1H243.1V601.5H244.1V604.9H245.1V605.4H246.1V600.2H247.1V607.2H248.1V605.4H249.1V606H250.1V605.9H251.1V605.6H252.1V605.2H253.1V605.1H254.1V603.9H255.1V604.2H256.1V604.2H257.1V604.7H258.1V605.6H259.1V604.2H260.1V603.6H261.1V602.9H262.1V603.9H263.1V605.2H264V627ZM316.3 627V603.1H317.3V599.3H318.3V606.2H319.3V607.1H320.3V607.9H321.3V609.1H322.3V608.8H323.3V608.2H324.3V610.6H325.3V610.5H326.3V608.7H327.3V610H328.3V610H329.3V608.6H330.3V605.3H331.3V608.3H332.3V604.6H333.3V606.3H334.3V606.4H335.3V604.7H336.3V605.1H337.3V603.8H338.3V603.2H339.3V602.7H340.3V601.7H340.7V627ZM389.2 627V597.5H390.2V601.9H391.2V599.1H392.2V604.7H393.2V606H394.2V606H395.2V604.2H396.2V604.4H397.2V605.6H398.2V604.5H399.2V603.5H400.2V602.9H401.2V602.2H402.2V603.1H403.2V601.6H404.2V603.7H405.2V604.7H406.2V605.2H407.2V600.1H408.2V602.4H409.2V603H410.2V601H410.9V627ZM449.4 627V604.6H450.4V605H451.4V605.3H452.4V601.9H453.4V603.6H454.4V603H455.4V603.8H456.4V603.9H457.4V605.6H458.4V605.2H459.4V608H460.4V607.7H461.4V606.3H462.4V606.6H463.4V607.4H464.4V606.2H465.4V605.8H466.4V604.6H467.4V605.9H468.4V607.3H469V627ZM504.9 627V607.8H505.9V602.7H506.9V602.6H507.9V600.5H508.9V602.3H509.9V602.6H510.9V595.1H511.9V602.2H512.9V601.7H513.9V602.7H514.9V599.1H515.9V603H516.9V603H517.9V604.8H518.9V603.4H519.9V606.9H520.9V606.4H521V627ZM552.9 627V607.9H553.9V605.1H554.9V604.4H555.9V606.5H556.9V600.6H557.9V601.6H558.9V608.9H559.9V608.7H560.9V608.8H561.9V601.6H562.9V611.3H563.9V610.8H564.9V610.6H565.9V609H566.9V608.5H567.9V608H568.6V627ZM595.4 627V607.9H596.4V608.8H597.4V609.5H598.4V609.9H599.4V609.2H600.4V607H601.4V606.6H602.4V603.9H603.4V600.3H604.4V602.1H605.4V600H606.4V600.8H607.4V602.2H608.4V603H609.4V600.5H609.7V627ZM630.8 627V606.6H631.8V604.9H632.8V602.8H633.8V605.1H634.8V604.5H635.8V604H636.8V602.4H637.8V601.3H638.8V597.7H639.8V600H640.8V601.1H641.6V627Z" fill="#008300"/>
<path d="M146.3 610.4h1.4v1.6h-1.4zM193.5 608.6h1.4v1.6h-1.4zM207.8 612h1.4v1.6h-1.4zM214.4 608.5h1.4v1.6h-1.4zM332.4 607.5h1.4v1.6h-1.4zM335.5 606.3h1.4v1.6h-1.4zM398.9 605.5h1.4v1.6h-1.4zM459.2 610.1h1.4v1.6h-1.4zM489.6 608.7h1.4v1.6h-1.4zM520.2 609.9h1.4v1.6h-1.4zM547.2 606.4h1.4v1.6h-1.4zM555.9 613.5h1.4v1.6h-1.4zM561.1 609.8h1.4v1.6h-1.4zM599.2 611.4h1.4v1.6h-1.4zM613.9 611.3h1.4v1.6h-1.4zM656.7 612.9h1.4v1.6h-1.4z" fill="#fff"/>
<path d="M84.5 600.2h2v2h-2zM88.1 605.7h2v2h-2zM90.9 607.8h2v2h-2zM94.5 601.6h2v2h-2zM99.9 599.8h2v2h-2zM100.8 605.6h2v2h-2zM102.3 603.8h2v2h-2zM105.7 606h2v2h-2zM105.8 606.1h2v2h-2zM107.5 600.2h2v2h-2zM107.8 602.9h2v2h-2zM111.6 599.6h2v2h-2zM119.2 599.1h2v2h-2zM182.2 599.8h2v2h-2zM194.3 608.1h2v2h-2zM195.6 602.7h2v2h-2zM196.1 603.8h2v2h-2zM199.1 604.6h2v2h-2zM198.2 603.7h2v2h-2zM198.2 601h2v2h-2zM200 599.2h2v2h-2zM203.8 605.5h2v2h-2zM205.8 602.3h2v2h-2zM268.5 596.4h2v2h-2zM270.5 598.1h2v2h-2zM272.3 603.6h2v2h-2zM273.2 603.1h2v2h-2zM273.3 602.5h2v2h-2zM276.4 598.6h2v2h-2zM276.6 593.7h2v2h-2zM279.1 600.7h2v2h-2zM279.5 601.8h2v2h-2zM281 602.6h2v2h-2zM281.3 602.8h2v2h-2zM286.1 604h2v2h-2zM340.9 599.6h2v2h-2zM341.2 603.1h2v2h-2zM344.3 600.3h2v2h-2zM346.7 600.2h2v2h-2zM350.1 595.3h2v2h-2zM351.1 599.4h2v2h-2zM352.3 601.8h2v2h-2zM354.6 602.4h2v2h-2zM363 600h2v2h-2zM363.7 605.4h2v2h-2zM411.1 596.8h2v2h-2zM411.4 594.1h2v2h-2zM413.5 594.9h2v2h-2zM415.3 596.7h2v2h-2zM417.2 602.4h2v2h-2zM417.9 602.6h2v2h-2zM419.3 602.1h2v2h-2zM419.6 603.9h2v2h-2zM420.6 605.1h2v2h-2zM422 598h2v2h-2zM423.4 601.5h2v2h-2zM422.3 603.3h2v2h-2zM423.8 603.2h2v2h-2zM427.2 604.1h2v2h-2zM427.9 604h2v2h-2zM427.6 600.9h2v2h-2zM469.9 602h2v2h-2zM473.3 604.6h2v2h-2zM472.5 605.4h2v2h-2zM477.4 602.2h2v2h-2zM477.8 601.5h2v2h-2zM479.1 599.3h2v2h-2zM481 601.9h2v2h-2zM481.3 603.9h2v2h-2zM483.4 606.7h2v2h-2zM486.4 605.4h2v2h-2zM521.3 602.9h2v2h-2zM523.7 599.7h2v2h-2zM525.4 603.7h2v2h-2zM525.4 601.7h2v2h-2zM525.6 602.6h2v2h-2zM526.3 602.1h2v2h-2zM526.8 604.7h2v2h-2zM529.6 601.9h2v2h-2zM528.7 596.1h2v2h-2zM531.8 596.6h2v2h-2zM534.8 602.9h2v2h-2zM569.4 602.9h2v2h-2zM570.8 600.6h2v2h-2zM571 599.8h2v2h-2zM571.2 601h2v2h-2zM574.5 600.8h2v2h-2zM575.3 602.1h2v2h-2zM577.1 604.6h2v2h-2zM582.3 601.8h2v2h-2zM611.2 602.8h2v2h-2zM611.8 607.5h2v2h-2zM619 604.5h2v2h-2zM641.8 604.8h2v2h-2zM643.1 604h2v2h-2zM643.8 606.1h2v2h-2zM645.6 603.4h2v2h-2zM647.2 603.2h2v2h-2zM647.7 605.8h2v2h-2zM649.4 602.3h2v2h-2zM649.9 600.6h2v2h-2zM649.9 606.1h2v2h-2zM652 599.8h2v2h-2z" fill="#00008f"/>
<path d="M121.7 602.4h2v2h-2zM123.3 603.6h2v2h-2zM128.6 599.4h2v2h-2zM131.8 603.7h2v2h-2zM131.6 604.3h2v2h-2zM131.8 606.4h2v2h-2zM132.9 602.8h2v2h-2zM134.1 600.1h2v2h-2zM137.6 603.4h2v2h-2zM136.7 600.8h2v2h-2zM136.7 603.7h2v2h-2zM141.7 608h2v2h-2zM140.9 607.5h2v2h-2zM143 605.3h2v2h-2zM144.9 600.2h2v2h-2zM145.7 604.9h2v2h-2zM146.9 604.7h2v2h-2zM208.4 598.3h2v2h-2zM209.5 600h2v2h-2zM213.8 602.8h2v2h-2zM213.8 601.5h2v2h-2zM213.4 601.3h2v2h-2zM214.3 603.8h2v2h-2zM215.1 595.2h2v2h-2zM220.6 603.4h2v2h-2zM221.8 604.5h2v2h-2zM223.8 603.6h2v2h-2zM231.8 603.2h2v2h-2zM231.9 599h2v2h-2zM289.6 604.2h2v2h-2zM296.1 607.3h2v2h-2zM296.6 606h2v2h-2zM298.8 607.1h2v2h-2zM301.7 602.1h2v2h-2zM301 605.2h2v2h-2zM302.6 601.3h2v2h-2zM305.7 599.2h2v2h-2zM307.2 599.2h2v2h-2zM307.6 599.2h2v2h-2zM306.9 601.2h2v2h-2zM311.5 600.5h2v2h-2zM313.2 595.2h2v2h-2zM367.6 596h2v2h-2zM368.4 599.2h2v2h-2zM367.9 597.7h2v2h-2zM369.5 595.1h2v2h-2zM375.5 603.7h2v2h-2zM374.5 603h2v2h-2zM375 604.3h2v2h-2zM376.1 601.4h2v2h-2zM380.6 595.8h2v2h-2zM381.3 599.3h2v2h-2zM382.1 601.5h2v2h-2zM389.5 591.5h2v2h-2zM430 602.1h2v2h-2zM431.5 602.9h2v2h-2zM436.9 602.3h2v2h-2zM437.6 603.2h2v2h-2zM438.6 602.4h2v2h-2zM439.2 599.5h2v2h-2zM440.5 603.4h2v2h-2zM441.2 599.3h2v2h-2zM441.4 601h2v2h-2zM442.1 597h2v2h-2zM443.7 601h2v2h-2zM447.7 601.6h2v2h-2zM448 599.2h2v2h-2zM448.4 601.8h2v2h-2zM488.8 594.5h2v2h-2zM491.4 603.3h2v2h-2zM491.3 601.8h2v2h-2zM491.9 604.6h2v2h-2zM491.3 604.7h2v2h-2zM493.2 603.9h2v2h-2zM493.6 606.8h2v2h-2zM493.6 608.6h2v2h-2zM500.2 600h2v2h-2zM502.1 602.3h2v2h-2zM501.8 602.2h2v2h-2zM536.6 606.3h2v2h-2zM539.7 601.5h2v2h-2zM540.4 598.2h2v2h-2zM542.1 603.9h2v2h-2zM543.5 599.3h2v2h-2zM542.6 601.3h2v2h-2zM545.5 604.9h2v2h-2zM545.8 608h2v2h-2zM549.5 606.7h2v2h-2zM552.5 602.3h2v2h-2zM585 602.9h2v2h-2zM585.6 602.9h2v2h-2zM586.8 603.3h2v2h-2zM589.3 605.7h2v2h-2zM590.9 597.8h2v2h-2zM653.6 592.9h2v2h-2zM655 598.4h2v2h-2zM659.4 597h2v2h-2zM661.2 602.3h2v2h-2zM664 596.8h2v2h-2zM666.4 607.9h2v2h-2zM667.2 604.5h2v2h-2z" fill="#8e7457"/>
<path d="M155.2 602.1h2v2h-2zM156.3 602.3h2v2h-2zM158.1 598.6h2v2h-2zM158.6 598.5h2v2h-2zM163.7 602h2v2h-2zM164.3 602.4h2v2h-2zM169.5 600h2v2h-2zM170.8 596.1h2v2h-2zM171.5 593h2v2h-2zM177.4 599.2h2v2h-2zM238.5 599.9h2v2h-2zM239.6 602.1h2v2h-2zM244.1 601.9h2v2h-2zM246.1 597.8h2v2h-2zM249 599.9h2v2h-2zM249.6 601.9h2v2h-2zM251.2 601.8h2v2h-2zM252.6 603.1h2v2h-2zM253.6 598.8h2v2h-2zM257.6 601.8h2v2h-2zM259 602.4h2v2h-2zM259.7 601h2v2h-2zM263.3 603.6h2v2h-2zM316 596.4h2v2h-2zM316.9 601.4h2v2h-2zM321.3 607.2h2v2h-2zM322.8 604.7h2v2h-2zM325.9 604.2h2v2h-2zM327.3 606.6h2v2h-2zM332.1 600.1h2v2h-2zM335.9 602.3h2v2h-2zM339.1 599.7h2v2h-2zM393.2 601h2v2h-2zM396 602.6h2v2h-2zM399.8 600.4h2v2h-2zM401.1 597.9h2v2h-2zM403.1 597.8h2v2h-2zM405.8 603.5h2v2h-2zM407.3 593.5h2v2h-2zM453.4 599.6h2v2h-2zM455.9 600.8h2v2h-2zM460.8 605.2h2v2h-2zM504.8 605.6h2v2h-2zM512.8 598.6h2v2h-2zM517.4 598.8h2v2h-2zM518.4 602.9h2v2h-2zM520.4 601.1h2v2h-2zM552.5 606h2v2h-2zM553.4 596.5h2v2h-2zM554.2 601.6h2v2h-2zM554.5 599.4h2v2h-2zM557.4 596.9h2v2h-2zM559.5 607.1h2v2h-2zM559.2 604.9h2v2h-2zM561.4 597.2h2v2h-2zM564.8 608.4h2v2h-2zM564.5 607.5h2v2h-2zM566.4 606.7h2v2h-2zM565.5 606.2h2v2h-2zM596 605h2v2h-2zM597.7 607.9h2v2h-2zM598.9 604.3h2v2h-2zM602.9 597.9h2v2h-2zM604.1 595.8h2v2h-2zM606.9 599h2v2h-2zM608.2 601h2v2h-2zM631.4 600.1h2v2h-2zM637.1 599.4h2v2h-2zM640.2 599.5h2v2h-2z" fill="#008300"/>
<path d="M84.5 600.6h2.6v2.6h-2.6zM189 593.6h2.6v2.6h-2.6zM198.9 602h2.6v2.6h-2.6zM274.5 601.1h2.6v2.6h-2.6zM278.4 600.6h2.6v2.6h-2.6zM341.1 594.1h2.6v2.6h-2.6zM349 598.8h2.6v2.6h-2.6zM359.5 601.8h2.6v2.6h-2.6zM411.7 595.9h2.6v2.6h-2.6zM414.7 598h2.6v2.6h-2.6zM427.8 602.4h2.6v2.6h-2.6zM480.4 593.6h2.6v2.6h-2.6zM469 598.8h2.6v2.6h-2.6zM473.9 599.4h2.6v2.6h-2.6zM480.4 599.4h2.6v2.6h-2.6zM480.4 602.4h2.6v2.6h-2.6zM572.7 595.3h2.6v2.6h-2.6zM580.2 600.1h2.6v2.6h-2.6zM643.8 603.6h2.6v2.6h-2.6z" fill="#000066"/>
<path d="M120.4 600.1h2.6v2.6h-2.6zM125.6 600.1h2.6v2.6h-2.6zM130 605.9h2.6v2.6h-2.6zM149.3 603.2h2.6v2.6h-2.6zM210.1 596.2h2.6v2.6h-2.6zM212.3 598h2.6v2.6h-2.6zM219.3 598h2.6v2.6h-2.6zM219.3 603.2h2.6v2.6h-2.6zM229 601.5h2.6v2.6h-2.6zM304.7 600.6h2.6v2.6h-2.6zM307.8 600.1h2.6v2.6h-2.6zM311.3 600.6h2.6v2.6h-2.6zM367.9 598h2.6v2.6h-2.6zM377.4 599.4h2.6v2.6h-2.6zM382.3 598.8h2.6v2.6h-2.6zM488.3 601.5h2.6v2.6h-2.6zM489.1 598h2.6v2.6h-2.6zM500.5 600.6h2.6v2.6h-2.6zM587.2 600.6h2.6v2.6h-2.6zM625.2 596.2h2.6v2.6h-2.6zM652.9 591.3h2.6v2.6h-2.6z" fill="#75624a"/>
<path d="M160.7 586.6h2.6v2.6h-2.6zM160.7 591h2.6v2.6h-2.6zM159.8 596.2h2.6v2.6h-2.6zM161.5 599.4h2.6v2.6h-2.6zM260.5 594.8h2.6v2.6h-2.6zM260.5 598h2.6v2.6h-2.6zM237.7 600.6h2.6v2.6h-2.6zM244.7 601.1h2.6v2.6h-2.6zM253.5 603.2h2.6v2.6h-2.6zM316.6 599.7h2.6v2.6h-2.6zM508.9 597.6h2.6v2.6h-2.6zM512.8 595.9h2.6v2.6h-2.6zM517.2 596.2h2.6v2.6h-2.6zM517.2 600.6h2.6v2.6h-2.6zM604.7 596.2h2.6v2.6h-2.6zM607.4 600.1h2.6v2.6h-2.6zM638.9 592.7h2.6v2.6h-2.6z" fill="#1a661a"/>
<path d="M387.5 453.4h5v3.6h-5zM387.5 458.2h5v3.6h-5zM387.6 463h5v3.6h-5zM387.5 466.6h5v3.6h-5zM387.3 471.4h5v3.6h-5zM387.6 475h5v3.6h-5zM387.3 478.6h5v2h-5zM387 495.2h4.6v3.6h-4.6zM387.6 498.8h4.6v3.6h-4.6zM387.6 503h4.6v3.6h-4.6z" fill="#c8167a"/>
<path d="M387.6 339.2h4v4h-4zM387.6 396.3h4v4h-4zM387.6 399.5h4v4h-4zM387.6 406.7h4v4h-4zM387.6 488.6h4v4h-4z" fill="#c41c80"/>
<path d="M388.6 340.2h2v2h-2zM388.6 397.3h2v2h-2zM388.6 400.5h2v2h-2zM388.6 407.7h2v2h-2zM388.6 489.6h2v2h-2z" fill="#8a1058"/>
<path d="M386.6 590L392.9 590L392.7 513.3L386.9 513.3Z" fill="#c8167a"/>
<path d="M103.9 627.3v2.5M137.5 627.3v2.5M167.2 627.3v2.5M195.5 627.3v2.5M223.2 627.3v2.5M251 627.3v2.5M278 627.3v2.5M304.2 627.3v2.5M329.5 627.3v2.5M353.9 627.3v2.5M378.1 627.3v2.5M401 627.3v2.5M421.6 627.3v2.5M440.9 627.3v2.5M460.2 627.3v2.5M479.5 627.3v2.5M497.4 627.3v2.5M514 627.3v2.5M529.5 627.3v2.5M545.4 627.3v2.5M561.8 627.3v2.5M577.1 627.3v2.5M590.4 627.3v2.5M603.5 627.3v2.5M615.7 627.3v2.5M626.2 627.3v2.5M637.2 627.3v2.5M648.2 627.3v2.5M660.9 627.3v2.5" stroke="#99a" stroke-width="0.8" fill="none"/>
<path d="M68.5 677.9V968.3" stroke="#8c8c8c" stroke-width="1.2" fill="none"/>
<path d="M64.3 968.3H68.3M64.3 926.8H68.3M64.3 885.3H68.3M64.3 843.8H68.3M64.3 802.3H68.3M64.3 760.8H68.3M64.3 719.4H68.3M64.3 677.9H68.3" stroke="#8c8c8c" stroke-width="1.1" fill="none"/>
<path d="M68.3 760.5H682" stroke="#a4a4a4" stroke-width="1.2" fill="none"/>
<path d="M84.8 969V867.9H85.8V876H86.8V876H87.8V877.6H88.8V883.2H89.8V892.8H90.8V886.9H91.8V876.3H92.8V874.1H93.8V866.3H94.8V851.6H95.8V869.1H96.8V866.2H97.8V876.8H98.8V884.4H99.8V894.1H100.8V893.1H101.8V886.7H102.8V887.5H103.8V885.5H104.8V868.9H105.8V884H106.8V870.5H107.8V879.6H108.8V887.2H109.8V881.3H110.8V892.2H111.8V882.9H112.8V892.6H113.8V885.4H114.8V887.5H115.8V885.4H116.8V872.1H117.8V879.6H118.8V869.8H119.8V882.7H120.8V881.6H121.3V969ZM180.6 969V880.8H181.6V876.1H182.6V874.4H183.6V869.5H184.6V867.5H185.6V865.7H186.6V865.6H187.6V864.1H188.6V864.2H189.6V858.6H190.6V864.2H191.6V869.6H192.6V873.7H193.6V878.8H194.6V881.9H195.6V883.9H196.6V882.2H197.6V889.9H198.6V887.3H199.6V879.4H200.6V866.2H201.6V863.8H202.6V857H203.6V860.7H204.6V857.5H205.6V850.7H206.6V861.8H207.6V860.2H208.3V969ZM263.8 969V869.1H264.8V863H265.8V861.6H266.8V873.9H267.8V880.8H268.8V887.3H269.8V889.6H270.8V886.8H271.8V884.9H272.8V871.9H273.8V888.9H274.8V887H275.8V881H276.8V875.7H277.8V850.9H278.8V867.2H279.8V860.2H280.8V868.2H281.8V864.9H282.8V866.4H283.8V865.5H284.8V872.2H285.8V877.5H286.8V873.6H287.8V874.1H288.8V873.3H289.8V871.3H289.8V969ZM340.3 969V885.8H341.3V871.4H342.3V872.1H343.3V862.7H344.3V872.3H345.3V881.8H346.3V887.3H347.3V893.1H348.3V890.7H349.3V884.9H350.3V881.9H351.3V884.7H352.3V874.9H353.3V882.7H354.3V879.5H355.3V879.3H356.3V876.7H357.3V882.2H358.3V881.4H359.3V875.6H360.3V863.8H361.3V865.7H362.3V862.3H363.3V872.1H364.3V873.5H364.6V969ZM410.3 969V882.5H411.3V888.6H412.3V886.4H413.3V882.1H414.3V879.4H415.3V874.8H416.3V874.1H417.3V866.6H418.3V863.3H419.3V868.1H420.3V868H421.3V870.2H422.3V871.6H423.3V883H424.3V882.9H425.3V876.1H426.3V890.7H427.3V882H428.3V884.7H429.3V878.2H429.7V969ZM468.3 969V880.4H469.3V866.3H470.3V874.2H471.3V875.7H472.3V873.1H473.3V869.2H474.3V867.8H475.3V865H476.3V866H477.3V858.1H478.3V861.5H479.3V858.4H480.3V860.5H481.3V858.3H482.3V864.7H483.3V871.1H484.3V876.2H485.3V878.9H486.3V883.4H487.1V969ZM520.2 969V888.8H521.2V880.6H522.2V874.8H523.2V870.1H524.2V870.2H525.2V867.4H526.2V861.7H527.2V866.7H528.2V866.6H529.2V874.4H530.2V876.2H531.2V880.1H532.2V880.7H533.2V871H534.2V881.7H535V969ZM567.7 969V880.6H568.7V867.8H569.7V885.9H570.7V885.1H571.7V882.9H572.7V880.3H573.7V881.2H574.7V879.3H575.7V879.8H576.7V881.2H577.7V881.7H578.7V879.7H579.7V867.6H580.7V872.9H581.7V875.9H582.5V969ZM608.6 969V869.8H609.6V890.3H610.6V888.3H611.6V884.1H612.6V876.1H613.6V862H614.6V852.5H615.6V842.2H616.6V839.9H617.6V834.3H618.6V969ZM640.4 969V868.4H641.4V861.8H642.4V872.3H643.4V871.4H644.4V869.8H645.4V867.9H646.4V863H647.4V853.9H648.4V865.4H649.4V870.9H650.4V869.4H651.4V863.2H651.7V969Z" fill="#00008f"/>
<path d="M121.3 969V877.3H122.3V873.9H123.3V863.3H124.3V865.3H125.3V863.8H126.3V856.4H127.3V858.6H128.3V868.3H129.3V870.6H130.3V874.2H131.3V874.7H132.3V869.4H133.3V880.9H134.3V881H135.3V880H136.3V872.1H137.3V866.7H138.3V863.1H139.3V857.6H140.3V859.2H141.3V853.4H142.3V863.1H143.3V868.9H144.3V872.2H145.3V875.2H146.3V876.5H147.3V882.1H148.3V882.9H149.3V880.4H150.3V879.1H151.3V880.8H151.9V969ZM208.3 969V863.7H209.3V865.4H210.3V865.5H211.3V870.6H212.3V863.5H213.3V881.5H214.3V890.4H215.3V892.9H216.3V895.4H217.3V900H218.3V899.8H219.3V897.1H220.3V891.2H221.3V890H222.3V884H223.3V878.5H224.3V878.1H225.3V852.7H226.3V879.5H227.3V879.2H228.3V876.9H229.3V880.2H230.3V882.8H231.3V875.4H232.3V875.7H233.3V871.9H234.3V867.9H235.3V878.4H235.9V969ZM289.8 969V881.2H290.8V888.2H291.8V891.2H292.8V882.1H293.8V888.5H294.8V887.1H295.8V890.6H296.8V885.9H297.8V889.8H298.8V876.9H299.8V892.5H300.8V893.1H301.8V888H302.8V886.9H303.8V882.7H304.8V886.5H305.8V891.5H306.8V890.7H307.8V894.6H308.8V896.6H309.8V890.6H310.8V891.4H311.8V887.6H312.8V879.8H313.8V881.4H314.8V877.2H315.8V878.1H316V969ZM364.6 969V871.1H365.6V874.8H366.6V878.9H367.6V876.1H368.6V878.7H369.6V888.6H370.6V887.3H371.6V883.6H372.6V879.9H373.6V883.1H374.6V873.3H375.6V885.8H376.6V883.5H377.6V889.3H378.6V881.5H379.6V891.7H380.6V885.8H381.6V874.5H382.6V879.8H383.6V881.5H384.6V874.3H385.6V874.2H386.6V876.4H387.6V878.4H388.6V879.4H388.6V969ZM429.7 969V879.1H430.7V881.1H431.7V876.6H432.7V888.2H433.7V887.4H434.7V889.8H435.7V890.1H436.7V880.4H437.7V873.5H438.7V876.8H439.7V873.2H440.7V876.8H441.7V879.5H442.7V872.8H443.7V871.8H444.7V876.4H445.7V877.9H446.7V881.1H447.7V876.7H448.7V969ZM487.1 969V888.8H488.1V879.8H489.1V891.7H490.1V886.7H491.1V883H492.1V881.8H493.1V867.1H494.1V875.7H495.1V882.6H496.1V882.6H497.1V879.5H498.1V865.9H499.1V878.6H500.1V878.3H501.1V884.7H502.1V886.2H503.1V877H504.1V969ZM535 969V877.1H536V878.6H537V864.7H538V857H539V854.9H540V867.6H541V873.2H542V866.3H543V875.4H544V864H545V879.9H546V881.2H547V878.7H548V880.1H549V876.2H550V870.9H551V880H552V969ZM582.5 969V866.8H583.5V886.4H584.5V884.7H585.5V873.2H586.5V874.5H587.5V872.8H588.5V865.9H589.5V854.5H590.5V864.3H591.5V865.6H592.5V874.2H593.5V881.4H594.3V969ZM618.6 969V845.8H619.6V883.2H620.6V878.3H621.6V878H622.6V876.4H623.6V871.2H624.6V869.8H625.6V872.3H626.6V878.4H627.6V880.4H628.6V878.3H629.6V886.5H629.7V969ZM651.7 969V875.3H652.7V879.4H653.7V885.4H654.7V882.3H655.7V876H656.7V867.5H657.7V866.1H658.7V862.7H659.7V861.4H660.7V860.9H661.7V858.4H662.7V867.7H663.7V873.6H664.7V869.2H665.7V884.9H665.8V969Z" fill="#8e7457"/>
<path d="M151.9 969V884.5H152.9V878.8H153.9V870.5H154.9V871.4H155.9V867.8H156.9V872.4H157.9V872.9H158.9V877.3H159.9V880.8H160.9V872.5H161.9V882.4H162.9V879.6H163.9V885.2H164.9V884.9H165.9V877.6H166.9V885H167.9V881.4H168.9V879.2H169.9V888H170.9V891.4H171.9V882.5H172.9V883.4H173.9V885.7H174.9V877.9H175.9V891H176.9V894.2H177.9V890.8H178.9V881.1H179.9V883.5H180.6V969ZM235.9 969V872.7H236.9V880.1H237.9V880.3H238.9V862.8H239.9V872.1H240.9V863.2H241.9V869.9H242.9V872.1H243.9V874.5H244.9V875.1H245.9V879.3H246.9V880.9H247.9V879.2H248.9V882.1H249.9V881.5H250.9V878H251.9V879.3H252.9V875.4H253.9V875.3H254.9V867.1H255.9V864.8H256.9V864.1H257.9V879.7H258.9V878.7H259.9V877.2H260.9V877.7H261.9V880H262.9V885.6H263.8V969ZM316 969V880.8H317V877.2H318V875.1H319V860.5H320V872.2H321V871.9H322V875.5H323V880.7H324V876.8H325V880.9H326V882.7H327V887.1H328V890.4H329V885.1H330V886.1H331V883.3H332V862.7H333V876.8H334V881H335V882.8H336V880.5H337V879.8H338V884.7H339V886.5H340V887.2H340.3V969ZM388.6 969V884.3H389.6V877.2H390.6V873.5H391.6V876H392.6V871.5H393.6V873.8H394.6V873.4H395.6V868.2H396.6V866.4H397.6V876.3H398.6V878.8H399.6V877.7H400.6V870.7H401.6V873.2H402.6V872.4H403.6V879.9H404.6V880.6H405.6V880.7H406.6V877.7H407.6V876.5H408.6V881.9H409.6V868.3H410.3V969ZM448.7 969V883.3H449.7V875.4H450.7V881.6H451.7V875.7H452.7V878.4H453.7V868H454.7V866H455.7V868H456.7V861.3H457.7V870.2H458.7V873.5H459.7V873.3H460.7V869.4H461.7V872.4H462.7V873.5H463.7V874.3H464.7V876.9H465.7V886.8H466.7V888.9H467.7V889.1H468.3V969ZM504.1 969V889.5H505.1V886.4H506.1V881.4H507.1V878.4H508.1V880.9H509.1V882.6H510.1V882.7H511.1V872.4H512.1V879.8H513.1V872.5H514.1V888.6H515.1V884.8H516.1V878.2H517.1V884.8H518.1V879.3H519.1V871.4H520.1V890.3H520.2V969ZM552 969V878.7H553V875.2H554V873.9H555V873.1H556V870.3H557V869.7H558V876.8H559V880.5H560V876.7H561V872.1H562V864.7H563V877.5H564V867.9H565V879H566V863.3H567V874H567.7V969ZM594.3 969V887H595.3V874.2H596.3V882.8H597.3V870.9H598.3V874.2H599.3V868.7H600.3V876.7H601.3V878.2H602.3V877.1H603.3V874.2H604.3V872.4H605.3V871.4H606.3V877H607.3V872.8H608.3V881.7H608.6V969ZM629.7 969V877.4H630.7V881.1H631.7V876.9H632.7V877.4H633.7V864.9H634.7V872.8H635.7V869.1H636.7V872.4H637.7V874.7H638.7V875.2H639.7V867.7H640.4V969Z" fill="#008300"/>
<path d="M84.5 872.8h1.4v1.6h-1.4zM86.7 885.2h1.4v1.6h-1.4zM86.9 901.7h1.4v1.6h-1.4zM87.1 882.7h1.4v1.6h-1.4zM87.7 880.7h1.4v1.6h-1.4zM88 887h1.4v1.6h-1.4zM89 892.2h1.4v1.6h-1.4zM89.6 901.3h1.4v1.6h-1.4zM89.9 911.4h1.4v1.6h-1.4zM89.5 911h1.4v1.6h-1.4zM91.1 898h1.4v1.6h-1.4zM91.6 878.5h1.4v1.6h-1.4zM94 869.1h1.4v1.6h-1.4zM93.6 868.6h1.4v1.6h-1.4zM95 856.2h1.4v1.6h-1.4zM94.8 864.8h1.4v1.6h-1.4zM95.6 873h1.4v1.6h-1.4zM97.8 896.6h1.4v1.6h-1.4zM99 890.6h1.4v1.6h-1.4zM99.8 903.4h1.4v1.6h-1.4zM100.8 898.8h1.4v1.6h-1.4zM100.8 894.1h1.4v1.6h-1.4zM101.1 899.1h1.4v1.6h-1.4zM102.9 902.6h1.4v1.6h-1.4zM103.7 896.2h1.4v1.6h-1.4zM104.6 883.2h1.4v1.6h-1.4zM105.9 902h1.4v1.6h-1.4zM106.1 885.4h1.4v1.6h-1.4zM106.8 876.4h1.4v1.6h-1.4zM107.9 908.1h1.4v1.6h-1.4zM108.5 892.2h1.4v1.6h-1.4zM108.6 888.8h1.4v1.6h-1.4zM110 885.8h1.4v1.6h-1.4zM110 889.7h1.4v1.6h-1.4zM111.6 888.5h1.4v1.6h-1.4zM112.6 906.4h1.4v1.6h-1.4zM112.7 899.9h1.4v1.6h-1.4zM114.1 888.9h1.4v1.6h-1.4zM114.1 901.1h1.4v1.6h-1.4zM115 909.7h1.4v1.6h-1.4zM116 891.8h1.4v1.6h-1.4zM115.8 891.6h1.4v1.6h-1.4zM115.6 892.4h1.4v1.6h-1.4zM117.9 888.2h1.4v1.6h-1.4zM118.6 880h1.4v1.6h-1.4zM119.5 892.5h1.4v1.6h-1.4zM121.1 886.4h1.4v1.6h-1.4zM121.4 886.7h1.4v1.6h-1.4zM122.5 883.8h1.4v1.6h-1.4zM122.5 881.3h1.4v1.6h-1.4zM126.4 860.9h1.4v1.6h-1.4zM126 863.3h1.4v1.6h-1.4zM126 858.5h1.4v1.6h-1.4zM127.3 861.8h1.4v1.6h-1.4zM128.6 872.8h1.4v1.6h-1.4zM128.2 874.1h1.4v1.6h-1.4zM128.1 875.5h1.4v1.6h-1.4zM128.3 875.4h1.4v1.6h-1.4zM128 879.2h1.4v1.6h-1.4zM129.1 878.2h1.4v1.6h-1.4zM131.4 899.2h1.4v1.6h-1.4zM131.2 887.1h1.4v1.6h-1.4zM131.4 879.4h1.4v1.6h-1.4zM132.6 873.5h1.4v1.6h-1.4zM132.2 885.2h1.4v1.6h-1.4zM133.1 891.5h1.4v1.6h-1.4zM133.1 898.2h1.4v1.6h-1.4zM135.6 884.6h1.4v1.6h-1.4zM135.6 883h1.4v1.6h-1.4zM136.2 875h1.4v1.6h-1.4zM137.1 883.3h1.4v1.6h-1.4zM137.3 872.2h1.4v1.6h-1.4zM137.5 881.7h1.4v1.6h-1.4zM139.4 859.2h1.4v1.6h-1.4zM141.1 855.9h1.4v1.6h-1.4zM141.3 855.6h1.4v1.6h-1.4zM141.2 858.9h1.4v1.6h-1.4zM142.6 876.8h1.4v1.6h-1.4zM142.1 865.6h1.4v1.6h-1.4zM142.3 865.6h1.4v1.6h-1.4zM145.5 880.9h1.4v1.6h-1.4zM146.5 881.7h1.4v1.6h-1.4zM147.1 884.1h1.4v1.6h-1.4zM147.1 908.2h1.4v1.6h-1.4zM148.2 890.3h1.4v1.6h-1.4zM150.2 881.2h1.4v1.6h-1.4zM150.4 884.6h1.4v1.6h-1.4zM151.4 882.8h1.4v1.6h-1.4zM151.6 899.2h1.4v1.6h-1.4zM151.9 890.2h1.4v1.6h-1.4zM153 885.1h1.4v1.6h-1.4zM157.1 873.5h1.4v1.6h-1.4zM158 895.8h1.4v1.6h-1.4zM159.8 881.9h1.4v1.6h-1.4zM163.1 882.7h1.4v1.6h-1.4zM164.9 890.6h1.4v1.6h-1.4zM164.7 888.2h1.4v1.6h-1.4zM164.7 903.8h1.4v1.6h-1.4zM165.8 890.7h1.4v1.6h-1.4zM168 891.7h1.4v1.6h-1.4zM167.6 891.3h1.4v1.6h-1.4zM169.8 893.6h1.4v1.6h-1.4zM171.1 897h1.4v1.6h-1.4zM171.8 885h1.4v1.6h-1.4zM172.7 884.6h1.4v1.6h-1.4zM175.1 884.4h1.4v1.6h-1.4zM175 881.9h1.4v1.6h-1.4zM175 908.4h1.4v1.6h-1.4zM174.8 894.1h1.4v1.6h-1.4zM175.6 894.6h1.4v1.6h-1.4zM176.7 899.8h1.4v1.6h-1.4zM177.6 899.3h1.4v1.6h-1.4zM178 900.7h1.4v1.6h-1.4zM177.6 896.9h1.4v1.6h-1.4zM179.1 884.2h1.4v1.6h-1.4zM180.1 903h1.4v1.6h-1.4zM179.8 909.2h1.4v1.6h-1.4zM181.6 883.2h1.4v1.6h-1.4zM182.5 880.7h1.4v1.6h-1.4zM183.7 873.1h1.4v1.6h-1.4zM183.7 881.3h1.4v1.6h-1.4zM184.8 882.9h1.4v1.6h-1.4zM185.4 870.8h1.4v1.6h-1.4zM185.5 869.7h1.4v1.6h-1.4zM186.4 876.9h1.4v1.6h-1.4zM186.8 871.4h1.4v1.6h-1.4zM188.8 866.6h1.4v1.6h-1.4zM190.9 873.5h1.4v1.6h-1.4zM191.6 884.4h1.4v1.6h-1.4zM192.6 881h1.4v1.6h-1.4zM192.3 889.5h1.4v1.6h-1.4zM193.8 885.4h1.4v1.6h-1.4zM194.5 889.2h1.4v1.6h-1.4zM194.6 893h1.4v1.6h-1.4zM195.6 895.2h1.4v1.6h-1.4zM195.7 890.5h1.4v1.6h-1.4zM198.4 898h1.4v1.6h-1.4zM198.6 908.5h1.4v1.6h-1.4zM198.4 906.2h1.4v1.6h-1.4zM200.3 868.2h1.4v1.6h-1.4zM201.5 890.9h1.4v1.6h-1.4zM201.4 866.8h1.4v1.6h-1.4zM201.8 873.1h1.4v1.6h-1.4zM203.5 865.2h1.4v1.6h-1.4zM203.7 863.5h1.4v1.6h-1.4zM203.8 889.5h1.4v1.6h-1.4zM204.9 861.7h1.4v1.6h-1.4zM206.9 867.1h1.4v1.6h-1.4zM207.6 862.6h1.4v1.6h-1.4zM208.5 864.8h1.4v1.6h-1.4zM208.6 870h1.4v1.6h-1.4zM211.2 898.2h1.4v1.6h-1.4zM212.3 892.6h1.4v1.6h-1.4zM212.5 875.3h1.4v1.6h-1.4zM214.1 893.3h1.4v1.6h-1.4zM215.1 900.5h1.4v1.6h-1.4zM215.2 906.6h1.4v1.6h-1.4zM215.4 898h1.4v1.6h-1.4zM216.3 908.4h1.4v1.6h-1.4zM220.2 909h1.4v1.6h-1.4zM220.1 892.9h1.4v1.6h-1.4zM220.5 898.6h1.4v1.6h-1.4zM220.1 907.2h1.4v1.6h-1.4zM221.2 894.4h1.4v1.6h-1.4zM222.4 889.5h1.4v1.6h-1.4zM227.1 883.1h1.4v1.6h-1.4zM228.3 900.2h1.4v1.6h-1.4zM228.3 882.4h1.4v1.6h-1.4zM229.3 881.7h1.4v1.6h-1.4zM229.5 884.4h1.4v1.6h-1.4zM229.2 887.8h1.4v1.6h-1.4zM229 882.8h1.4v1.6h-1.4zM232.2 897.9h1.4v1.6h-1.4zM232.5 893.5h1.4v1.6h-1.4zM232.5 877.2h1.4v1.6h-1.4zM233 885.3h1.4v1.6h-1.4zM233 873.9h1.4v1.6h-1.4zM233.4 882.6h1.4v1.6h-1.4zM234 871h1.4v1.6h-1.4zM235.1 885.6h1.4v1.6h-1.4zM235.2 891h1.4v1.6h-1.4zM235.5 880.6h1.4v1.6h-1.4zM235.8 897.1h1.4v1.6h-1.4zM238 894.2h1.4v1.6h-1.4zM239 890h1.4v1.6h-1.4zM238.8 864.1h1.4v1.6h-1.4zM240 875.7h1.4v1.6h-1.4zM239.8 890.9h1.4v1.6h-1.4zM241.1 871h1.4v1.6h-1.4zM240.9 888.3h1.4v1.6h-1.4zM242 872.2h1.4v1.6h-1.4zM242.2 882.7h1.4v1.6h-1.4zM241.7 878.9h1.4v1.6h-1.4zM242.9 882h1.4v1.6h-1.4zM245.1 876.6h1.4v1.6h-1.4zM245.9 897.6h1.4v1.6h-1.4zM246.9 890.1h1.4v1.6h-1.4zM247.1 883.8h1.4v1.6h-1.4zM249.1 896.1h1.4v1.6h-1.4zM253.1 880.5h1.4v1.6h-1.4zM254 879.8h1.4v1.6h-1.4zM255.8 870.7h1.4v1.6h-1.4zM257.2 894.6h1.4v1.6h-1.4zM259.6 880.1h1.4v1.6h-1.4zM261 887.2h1.4v1.6h-1.4zM263.1 890.6h1.4v1.6h-1.4zM263.5 873.4h1.4v1.6h-1.4zM264.9 864h1.4v1.6h-1.4zM264.6 887.3h1.4v1.6h-1.4zM265.6 864.8h1.4v1.6h-1.4zM267.8 883.1h1.4v1.6h-1.4zM269 897.9h1.4v1.6h-1.4zM269.8 898.5h1.4v1.6h-1.4zM269.5 911.6h1.4v1.6h-1.4zM272 886.8h1.4v1.6h-1.4zM272.8 891.6h1.4v1.6h-1.4zM273.5 899.5h1.4v1.6h-1.4zM277.9 860.1h1.4v1.6h-1.4zM278.5 884.6h1.4v1.6h-1.4zM279.9 863.4h1.4v1.6h-1.4zM280 874.8h1.4v1.6h-1.4zM279.6 885.1h1.4v1.6h-1.4zM280.5 882.6h1.4v1.6h-1.4zM281 871.7h1.4v1.6h-1.4zM284.7 876.6h1.4v1.6h-1.4zM285.9 905.6h1.4v1.6h-1.4zM286.6 896.1h1.4v1.6h-1.4zM287.1 889.6h1.4v1.6h-1.4zM288 883.1h1.4v1.6h-1.4zM287.5 885.6h1.4v1.6h-1.4zM289.9 882.7h1.4v1.6h-1.4zM290 890.6h1.4v1.6h-1.4zM290.7 892.9h1.4v1.6h-1.4zM293.1 902.9h1.4v1.6h-1.4zM294.9 890.6h1.4v1.6h-1.4zM294.8 893.9h1.4v1.6h-1.4zM296.1 892.8h1.4v1.6h-1.4zM295.9 892.9h1.4v1.6h-1.4zM296.8 911.2h1.4v1.6h-1.4zM297 890.9h1.4v1.6h-1.4zM296.7 888h1.4v1.6h-1.4zM299.8 898.6h1.4v1.6h-1.4zM302.7 897.2h1.4v1.6h-1.4zM304.1 887.1h1.4v1.6h-1.4zM304 883.9h1.4v1.6h-1.4zM304.8 890.5h1.4v1.6h-1.4zM305 888h1.4v1.6h-1.4zM305.5 915.5h1.4v1.6h-1.4zM306.7 897.7h1.4v1.6h-1.4zM307.1 912.7h1.4v1.6h-1.4zM306.7 898.8h1.4v1.6h-1.4zM308 913.1h1.4v1.6h-1.4zM307.7 921.9h1.4v1.6h-1.4zM308.8 898h1.4v1.6h-1.4zM308.9 900h1.4v1.6h-1.4zM310 910.4h1.4v1.6h-1.4zM309.5 893.7h1.4v1.6h-1.4zM310.8 897.1h1.4v1.6h-1.4zM311.9 889.4h1.4v1.6h-1.4zM312.7 882.7h1.4v1.6h-1.4zM313.6 902.2h1.4v1.6h-1.4zM315 880.2h1.4v1.6h-1.4zM315.6 888.3h1.4v1.6h-1.4zM316.1 894h1.4v1.6h-1.4zM315.9 886.7h1.4v1.6h-1.4zM316 897.8h1.4v1.6h-1.4zM316.8 902.6h1.4v1.6h-1.4zM316.9 887.7h1.4v1.6h-1.4zM319 863.1h1.4v1.6h-1.4zM321.1 886.3h1.4v1.6h-1.4zM320.9 887.2h1.4v1.6h-1.4zM321.9 882.8h1.4v1.6h-1.4zM321.9 889.4h1.4v1.6h-1.4zM325.2 897.3h1.4v1.6h-1.4zM325.7 887.4h1.4v1.6h-1.4zM327.1 896.6h1.4v1.6h-1.4zM327.2 895.8h1.4v1.6h-1.4zM332.9 888.6h1.4v1.6h-1.4zM334 893.3h1.4v1.6h-1.4zM334.9 896.9h1.4v1.6h-1.4zM337.3 896h1.4v1.6h-1.4zM337 895.9h1.4v1.6h-1.4zM338 898.7h1.4v1.6h-1.4zM339 910.7h1.4v1.6h-1.4zM341.4 891.5h1.4v1.6h-1.4zM342.3 896.1h1.4v1.6h-1.4zM343.2 873.2h1.4v1.6h-1.4zM344.1 893.5h1.4v1.6h-1.4zM344.2 877.5h1.4v1.6h-1.4zM344.1 899.8h1.4v1.6h-1.4zM345.5 883.1h1.4v1.6h-1.4zM346.1 890.3h1.4v1.6h-1.4zM347.1 908.6h1.4v1.6h-1.4zM348.4 897.5h1.4v1.6h-1.4zM350.2 885.5h1.4v1.6h-1.4zM351.4 893.2h1.4v1.6h-1.4zM353.3 895h1.4v1.6h-1.4zM354.6 885.5h1.4v1.6h-1.4zM356.2 894.9h1.4v1.6h-1.4zM356.3 903.3h1.4v1.6h-1.4zM357.1 904.3h1.4v1.6h-1.4zM357.1 900.8h1.4v1.6h-1.4zM358.2 904.3h1.4v1.6h-1.4zM361.6 873.3h1.4v1.6h-1.4zM362 867.6h1.4v1.6h-1.4zM362.3 878.5h1.4v1.6h-1.4zM362.2 880.2h1.4v1.6h-1.4zM363.6 873.7h1.4v1.6h-1.4zM364.4 878.2h1.4v1.6h-1.4zM364.3 880.2h1.4v1.6h-1.4zM364.6 882.2h1.4v1.6h-1.4zM365.7 892.5h1.4v1.6h-1.4zM366.6 887.9h1.4v1.6h-1.4zM367.4 881.2h1.4v1.6h-1.4zM367.3 882.8h1.4v1.6h-1.4zM368.7 891.6h1.4v1.6h-1.4zM372.6 890.7h1.4v1.6h-1.4zM374.4 883.2h1.4v1.6h-1.4zM374.6 887.7h1.4v1.6h-1.4zM374.5 878.2h1.4v1.6h-1.4zM376.3 890.5h1.4v1.6h-1.4zM376.5 898.1h1.4v1.6h-1.4zM378.7 905.3h1.4v1.6h-1.4zM380.5 897h1.4v1.6h-1.4zM383.9 903.4h1.4v1.6h-1.4zM384.6 886.1h1.4v1.6h-1.4zM384.5 877.5h1.4v1.6h-1.4zM387.8 882.9h1.4v1.6h-1.4zM388.3 897.6h1.4v1.6h-1.4zM389.6 885.1h1.4v1.6h-1.4zM390.6 875.8h1.4v1.6h-1.4zM397.5 888.4h1.4v1.6h-1.4zM398.8 880.8h1.4v1.6h-1.4zM398.6 884.4h1.4v1.6h-1.4zM398.8 890.7h1.4v1.6h-1.4zM401.7 895.3h1.4v1.6h-1.4zM401.5 876.6h1.4v1.6h-1.4zM402.5 874.9h1.4v1.6h-1.4zM403.5 890.4h1.4v1.6h-1.4zM406.3 892.6h1.4v1.6h-1.4zM406.7 882.4h1.4v1.6h-1.4zM406.7 899.6h1.4v1.6h-1.4zM406.6 901.9h1.4v1.6h-1.4zM408.8 897.5h1.4v1.6h-1.4zM408.7 902h1.4v1.6h-1.4zM408.6 912.3h1.4v1.6h-1.4zM409.8 878.7h1.4v1.6h-1.4zM410.2 887h1.4v1.6h-1.4zM411.1 904.6h1.4v1.6h-1.4zM412.6 915.6h1.4v1.6h-1.4zM412.1 889.3h1.4v1.6h-1.4zM414.1 895h1.4v1.6h-1.4zM415.1 900.7h1.4v1.6h-1.4zM418.4 879.2h1.4v1.6h-1.4zM421.5 874.5h1.4v1.6h-1.4zM421.1 892.5h1.4v1.6h-1.4zM422.5 876.1h1.4v1.6h-1.4zM422.5 876.9h1.4v1.6h-1.4zM423.1 895h1.4v1.6h-1.4zM424.3 899.8h1.4v1.6h-1.4zM424.5 893.2h1.4v1.6h-1.4zM424.5 887.5h1.4v1.6h-1.4zM424.3 894.4h1.4v1.6h-1.4zM427.2 890.2h1.4v1.6h-1.4zM427.4 901.7h1.4v1.6h-1.4zM429.5 887.2h1.4v1.6h-1.4zM429.3 898.3h1.4v1.6h-1.4zM432 880.2h1.4v1.6h-1.4zM432.7 908h1.4v1.6h-1.4zM432.9 893.4h1.4v1.6h-1.4zM432.7 898.6h1.4v1.6h-1.4zM433.9 913.1h1.4v1.6h-1.4zM433.8 896.7h1.4v1.6h-1.4zM434.8 900.4h1.4v1.6h-1.4zM435.7 899.1h1.4v1.6h-1.4zM436.8 896.4h1.4v1.6h-1.4zM436.5 882.9h1.4v1.6h-1.4zM438.7 893.1h1.4v1.6h-1.4zM441 882.9h1.4v1.6h-1.4zM440.6 885.5h1.4v1.6h-1.4zM440.8 886.6h1.4v1.6h-1.4zM440.6 897h1.4v1.6h-1.4zM441.7 884.2h1.4v1.6h-1.4zM444.6 902.8h1.4v1.6h-1.4zM445.9 881.9h1.4v1.6h-1.4zM445.6 891.4h1.4v1.6h-1.4zM445.8 892.4h1.4v1.6h-1.4zM445.9 880.2h1.4v1.6h-1.4zM446.5 883.2h1.4v1.6h-1.4zM447.5 883.1h1.4v1.6h-1.4zM451.7 882.3h1.4v1.6h-1.4zM452.7 886.2h1.4v1.6h-1.4zM454 883.6h1.4v1.6h-1.4zM454.7 868.3h1.4v1.6h-1.4zM455.6 876.3h1.4v1.6h-1.4zM455.9 871.4h1.4v1.6h-1.4zM456.5 867.5h1.4v1.6h-1.4zM457.8 878.6h1.4v1.6h-1.4zM457.4 880.5h1.4v1.6h-1.4zM457.9 873.7h1.4v1.6h-1.4zM459 875.7h1.4v1.6h-1.4zM458.8 899.2h1.4v1.6h-1.4zM459.9 881.3h1.4v1.6h-1.4zM459.7 876.2h1.4v1.6h-1.4zM459.7 896.9h1.4v1.6h-1.4zM460.8 877.4h1.4v1.6h-1.4zM460.5 881.3h1.4v1.6h-1.4zM462 894.7h1.4v1.6h-1.4zM463.9 892.8h1.4v1.6h-1.4zM465.5 906.1h1.4v1.6h-1.4zM466.6 891.3h1.4v1.6h-1.4zM467.7 895.6h1.4v1.6h-1.4zM468.2 907.9h1.4v1.6h-1.4zM469.2 876.6h1.4v1.6h-1.4zM469.2 869.5h1.4v1.6h-1.4zM469.5 892.7h1.4v1.6h-1.4zM470.1 881.5h1.4v1.6h-1.4zM472.4 883.2h1.4v1.6h-1.4zM472.3 879.6h1.4v1.6h-1.4zM472.4 877.7h1.4v1.6h-1.4zM473.4 896.2h1.4v1.6h-1.4zM474.4 883.1h1.4v1.6h-1.4zM474.5 869.1h1.4v1.6h-1.4zM476.2 875.5h1.4v1.6h-1.4zM476.3 878h1.4v1.6h-1.4zM477 861.8h1.4v1.6h-1.4zM478.4 863.5h1.4v1.6h-1.4zM478.6 885.5h1.4v1.6h-1.4zM479.4 860.5h1.4v1.6h-1.4zM479.1 873.8h1.4v1.6h-1.4zM480 891h1.4v1.6h-1.4zM481.2 862.3h1.4v1.6h-1.4zM482.5 867.1h1.4v1.6h-1.4zM483.5 888.4h1.4v1.6h-1.4zM483.3 875.7h1.4v1.6h-1.4zM484 894.9h1.4v1.6h-1.4zM485.4 884.7h1.4v1.6h-1.4zM486 906.8h1.4v1.6h-1.4zM486.4 885.7h1.4v1.6h-1.4zM486.5 898.4h1.4v1.6h-1.4zM487.2 902.3h1.4v1.6h-1.4zM486.9 910.5h1.4v1.6h-1.4zM489.4 901.3h1.4v1.6h-1.4zM491.2 897.2h1.4v1.6h-1.4zM491.2 895.6h1.4v1.6h-1.4zM494.3 879.9h1.4v1.6h-1.4zM494.3 882.3h1.4v1.6h-1.4zM494.9 884.3h1.4v1.6h-1.4zM496.1 890.9h1.4v1.6h-1.4zM497.3 904.9h1.4v1.6h-1.4zM497 880.5h1.4v1.6h-1.4zM497.3 886.9h1.4v1.6h-1.4zM499.1 884.5h1.4v1.6h-1.4zM498.9 894.7h1.4v1.6h-1.4zM500.3 887.5h1.4v1.6h-1.4zM501.4 906.6h1.4v1.6h-1.4zM502.9 886.9h1.4v1.6h-1.4zM504.2 917h1.4v1.6h-1.4zM506 893.5h1.4v1.6h-1.4zM506.4 892.2h1.4v1.6h-1.4zM507.1 887h1.4v1.6h-1.4zM507 891.2h1.4v1.6h-1.4zM509.3 884.9h1.4v1.6h-1.4zM508.9 896.4h1.4v1.6h-1.4zM511.2 885.6h1.4v1.6h-1.4zM511.4 878.7h1.4v1.6h-1.4zM511.1 881.6h1.4v1.6h-1.4zM513.2 876.8h1.4v1.6h-1.4zM513 878h1.4v1.6h-1.4zM513.9 893.4h1.4v1.6h-1.4zM514 902.9h1.4v1.6h-1.4zM517 912.1h1.4v1.6h-1.4zM516.9 887.2h1.4v1.6h-1.4zM518 880.6h1.4v1.6h-1.4zM517.9 904.6h1.4v1.6h-1.4zM518.1 886h1.4v1.6h-1.4zM520.2 894.9h1.4v1.6h-1.4zM519.9 891.4h1.4v1.6h-1.4zM521.3 896.8h1.4v1.6h-1.4zM525.1 872.1h1.4v1.6h-1.4zM527.4 875.9h1.4v1.6h-1.4zM528.9 881.5h1.4v1.6h-1.4zM530.2 879.5h1.4v1.6h-1.4zM530 880.5h1.4v1.6h-1.4zM532.5 894.2h1.4v1.6h-1.4zM532 886h1.4v1.6h-1.4zM535.8 896.7h1.4v1.6h-1.4zM535.9 886h1.4v1.6h-1.4zM538.8 858.6h1.4v1.6h-1.4zM540.3 869.4h1.4v1.6h-1.4zM540 872h1.4v1.6h-1.4zM541.9 874.2h1.4v1.6h-1.4zM542.2 868.1h1.4v1.6h-1.4zM544.1 869.5h1.4v1.6h-1.4zM545.2 897.9h1.4v1.6h-1.4zM546.3 892.1h1.4v1.6h-1.4zM545.9 889.1h1.4v1.6h-1.4zM547.3 881h1.4v1.6h-1.4zM548.3 891.7h1.4v1.6h-1.4zM549 887.4h1.4v1.6h-1.4zM550.3 872.1h1.4v1.6h-1.4zM550.3 886.8h1.4v1.6h-1.4zM550.2 876.1h1.4v1.6h-1.4zM551.2 902.1h1.4v1.6h-1.4zM551 886.4h1.4v1.6h-1.4zM551 881.4h1.4v1.6h-1.4zM551.3 891.2h1.4v1.6h-1.4zM552.2 893.5h1.4v1.6h-1.4zM554.9 885.5h1.4v1.6h-1.4zM555 881.1h1.4v1.6h-1.4zM556.3 872.6h1.4v1.6h-1.4zM557.8 879.6h1.4v1.6h-1.4zM559.1 893.1h1.4v1.6h-1.4zM559.8 879.1h1.4v1.6h-1.4zM560.3 887.9h1.4v1.6h-1.4zM562.3 870.3h1.4v1.6h-1.4zM561.9 874.7h1.4v1.6h-1.4zM561.7 871.6h1.4v1.6h-1.4zM562.8 879.1h1.4v1.6h-1.4zM564.3 875.5h1.4v1.6h-1.4zM565.7 870.7h1.4v1.6h-1.4zM566.2 871.1h1.4v1.6h-1.4zM566.9 900.2h1.4v1.6h-1.4zM567.6 886.6h1.4v1.6h-1.4zM567.4 886h1.4v1.6h-1.4zM569.6 888.5h1.4v1.6h-1.4zM570.6 897.5h1.4v1.6h-1.4zM570.7 890.8h1.4v1.6h-1.4zM571.4 911.1h1.4v1.6h-1.4zM571.7 888.7h1.4v1.6h-1.4zM571.5 887.7h1.4v1.6h-1.4zM572.8 885.9h1.4v1.6h-1.4zM573.5 892.2h1.4v1.6h-1.4zM573.6 888.9h1.4v1.6h-1.4zM574.4 885.9h1.4v1.6h-1.4zM575.6 889.1h1.4v1.6h-1.4zM576 907.8h1.4v1.6h-1.4zM575.7 885h1.4v1.6h-1.4zM575.8 902.1h1.4v1.6h-1.4zM575.7 886.7h1.4v1.6h-1.4zM578.6 889.4h1.4v1.6h-1.4zM578.9 887.1h1.4v1.6h-1.4zM579.9 876.5h1.4v1.6h-1.4zM580.8 876.1h1.4v1.6h-1.4zM580.5 895.9h1.4v1.6h-1.4zM581 874.2h1.4v1.6h-1.4zM581.5 894.8h1.4v1.6h-1.4zM581.6 883.7h1.4v1.6h-1.4zM581.4 904h1.4v1.6h-1.4zM582.6 878.2h1.4v1.6h-1.4zM582.4 880.5h1.4v1.6h-1.4zM584.3 895.4h1.4v1.6h-1.4zM584.7 899.2h1.4v1.6h-1.4zM587.6 875.6h1.4v1.6h-1.4zM588.4 877.2h1.4v1.6h-1.4zM589.4 859.3h1.4v1.6h-1.4zM589.4 863.3h1.4v1.6h-1.4zM590.4 873.6h1.4v1.6h-1.4zM591.7 870.8h1.4v1.6h-1.4zM595 883h1.4v1.6h-1.4zM596.5 899.4h1.4v1.6h-1.4zM597.6 875h1.4v1.6h-1.4zM598.4 879.2h1.4v1.6h-1.4zM598.5 891.5h1.4v1.6h-1.4zM598.1 885.7h1.4v1.6h-1.4zM598.3 876.6h1.4v1.6h-1.4zM600.4 894.6h1.4v1.6h-1.4zM602.2 888.3h1.4v1.6h-1.4zM603.5 880.8h1.4v1.6h-1.4zM603.4 883h1.4v1.6h-1.4zM604.5 884.5h1.4v1.6h-1.4zM604.2 881.1h1.4v1.6h-1.4zM606.5 889.7h1.4v1.6h-1.4zM607.6 886.3h1.4v1.6h-1.4zM608.2 883.4h1.4v1.6h-1.4zM608.4 893.9h1.4v1.6h-1.4zM608.4 891.8h1.4v1.6h-1.4zM609.7 892.7h1.4v1.6h-1.4zM610.7 897h1.4v1.6h-1.4zM611.7 891.2h1.4v1.6h-1.4zM612.8 877.9h1.4v1.6h-1.4zM612.8 877.3h1.4v1.6h-1.4zM612.3 894.8h1.4v1.6h-1.4zM612.4 886.6h1.4v1.6h-1.4zM615.4 845.5h1.4v1.6h-1.4zM615.8 845.5h1.4v1.6h-1.4zM615.8 847.7h1.4v1.6h-1.4zM615.8 844.2h1.4v1.6h-1.4zM615.4 865.2h1.4v1.6h-1.4zM615.4 845.3h1.4v1.6h-1.4zM616.4 851.8h1.4v1.6h-1.4zM616.6 848.4h1.4v1.6h-1.4zM617.8 862.1h1.4v1.6h-1.4zM619.6 895.7h1.4v1.6h-1.4zM619.6 896.7h1.4v1.6h-1.4zM620.5 880.4h1.4v1.6h-1.4zM620.6 879.8h1.4v1.6h-1.4zM620.4 887.6h1.4v1.6h-1.4zM623.9 880.3h1.4v1.6h-1.4zM624.7 874.2h1.4v1.6h-1.4zM624.5 873.6h1.4v1.6h-1.4zM625.5 890.2h1.4v1.6h-1.4zM626.4 901.3h1.4v1.6h-1.4zM626.6 881.3h1.4v1.6h-1.4zM626.4 880.9h1.4v1.6h-1.4zM626.4 881.2h1.4v1.6h-1.4zM628.7 880h1.4v1.6h-1.4zM628.6 880.4h1.4v1.6h-1.4zM629.4 882.1h1.4v1.6h-1.4zM630.5 891.3h1.4v1.6h-1.4zM631.5 878.5h1.4v1.6h-1.4zM633.4 871.5h1.4v1.6h-1.4zM635.9 875h1.4v1.6h-1.4zM635.5 896.8h1.4v1.6h-1.4zM635.4 870.9h1.4v1.6h-1.4zM636.7 890h1.4v1.6h-1.4zM636.5 875.3h1.4v1.6h-1.4zM637.5 890h1.4v1.6h-1.4zM637.8 876.9h1.4v1.6h-1.4zM638.8 877.3h1.4v1.6h-1.4zM639.5 874.3h1.4v1.6h-1.4zM640.4 880h1.4v1.6h-1.4zM643.5 876.4h1.4v1.6h-1.4zM646.7 869.1h1.4v1.6h-1.4zM647.5 870.6h1.4v1.6h-1.4zM648.4 875.6h1.4v1.6h-1.4zM650.6 876.9h1.4v1.6h-1.4zM651.6 865.1h1.4v1.6h-1.4zM651.3 873.8h1.4v1.6h-1.4zM651.7 879.6h1.4v1.6h-1.4zM652.7 891.7h1.4v1.6h-1.4zM653.9 904.9h1.4v1.6h-1.4zM654.7 886.3h1.4v1.6h-1.4zM656.6 869.5h1.4v1.6h-1.4zM657.5 887.3h1.4v1.6h-1.4zM657.5 867.8h1.4v1.6h-1.4zM657.8 877.7h1.4v1.6h-1.4zM658.6 864.4h1.4v1.6h-1.4zM661.7 864.3h1.4v1.6h-1.4zM663.8 887.5h1.4v1.6h-1.4zM664 903.4h1.4v1.6h-1.4zM664.6 876.2h1.4v1.6h-1.4zM664.6 871.8h1.4v1.6h-1.4zM664.8 874.8h1.4v1.6h-1.4zM666 896.3h1.4v1.6h-1.4zM665.6 910.4h1.4v1.6h-1.4z" fill="#fff"/>
<path d="M85.7 872.2h2v2h-2zM86.1 861.6h2v2h-2zM85.6 848.3h2v2h-2zM85.2 868.7h2v2h-2zM86.9 860.8h2v2h-2zM87.1 872.7h2v2h-2zM86.2 870.9h2v2h-2zM88.2 874.7h2v2h-2zM88.3 875h2v2h-2zM88.3 870.6h2v2h-2zM89.2 888.8h2v2h-2zM89.6 883.5h2v2h-2zM89.6 888.1h2v2h-2zM89.4 889.2h2v2h-2zM89.8 886.2h2v2h-2zM91.3 876.1h2v2h-2zM91 883.9h2v2h-2zM92.3 871.9h2v2h-2zM91.7 871h2v2h-2zM91.8 861.7h2v2h-2zM93.3 868.8h2v2h-2zM92.3 837.4h2v2h-2zM93.2 867.8h2v2h-2zM92.7 872h2v2h-2zM93.5 863.4h2v2h-2zM94.2 859.1h2v2h-2zM94.8 824.5h2v2h-2zM94.6 842.9h2v2h-2zM96.2 866.9h2v2h-2zM96.2 864.1h2v2h-2zM95.9 856.3h2v2h-2zM98.4 863.6h2v2h-2zM97.3 871.7h2v2h-2zM97.9 866.6h2v2h-2zM98.4 874.5h2v2h-2zM99.1 874.3h2v2h-2zM100.2 888.6h2v2h-2zM99.7 891.2h2v2h-2zM99.9 889.8h2v2h-2zM101 886.2h2v2h-2zM100.5 879.2h2v2h-2zM102.4 882.7h2v2h-2zM102.1 878.1h2v2h-2zM101.7 877.3h2v2h-2zM102.2 847.6h2v2h-2zM101.9 868.8h2v2h-2zM104 873.7h2v2h-2zM103.3 882.1h2v2h-2zM103.5 881h2v2h-2zM104.1 883h2v2h-2zM104.6 861.6h2v2h-2zM105.4 858.9h2v2h-2zM105.2 852.7h2v2h-2zM105.5 870.9h2v2h-2zM105.7 872.2h2v2h-2zM106 880.1h2v2h-2zM106.3 879.5h2v2h-2zM106.7 863.4h2v2h-2zM107.1 867.7h2v2h-2zM107 853.2h2v2h-2zM109.3 884.9h2v2h-2zM109.2 877.8h2v2h-2zM111.2 889.3h2v2h-2zM111.2 878.6h2v2h-2zM111.4 878.4h2v2h-2zM112.2 875.5h2v2h-2zM112.2 862.5h2v2h-2zM112.3 885.8h2v2h-2zM112.5 882h2v2h-2zM112.2 883.3h2v2h-2zM113.2 880.7h2v2h-2zM113.4 881.4h2v2h-2zM114 882.4h2v2h-2zM114.6 884.6h2v2h-2zM115.6 880.7h2v2h-2zM115.6 870.2h2v2h-2zM115.4 871h2v2h-2zM117 870.4h2v2h-2zM118 872.5h2v2h-2zM118 870.6h2v2h-2zM119.3 864h2v2h-2zM118.3 866.7h2v2h-2zM119.6 878h2v2h-2zM120.4 874.2h2v2h-2zM180.9 843.2h2v2h-2zM181.8 871.4h2v2h-2zM181.4 872.5h2v2h-2zM182.4 859.3h2v2h-2zM182.6 868.3h2v2h-2zM182.8 867.5h2v2h-2zM183.3 855.8h2v2h-2zM185.2 855.6h2v2h-2zM184 864.6h2v2h-2zM184 857h2v2h-2zM185 860.7h2v2h-2zM185.8 857.4h2v2h-2zM185.5 837.7h2v2h-2zM185.7 854.1h2v2h-2zM186.7 858.9h2v2h-2zM187.2 862.4h2v2h-2zM186.8 860.3h2v2h-2zM187.5 853.7h2v2h-2zM189 859.3h2v2h-2zM188.6 842.2h2v2h-2zM190.1 835.5h2v2h-2zM189.6 843.6h2v2h-2zM189.1 843.4h2v2h-2zM189.9 831h2v2h-2zM191 861.8h2v2h-2zM190.4 858.2h2v2h-2zM190.1 853.8h2v2h-2zM192.2 861.3h2v2h-2zM194.1 871h2v2h-2zM193.4 857.8h2v2h-2zM195 860.8h2v2h-2zM194.5 878.6h2v2h-2zM194.1 880h2v2h-2zM196.2 879.6h2v2h-2zM196.6 873.6h2v2h-2zM198 882.5h2v2h-2zM198.8 885.1h2v2h-2zM199 864h2v2h-2zM198.2 881.7h2v2h-2zM198.9 869.1h2v2h-2zM200 868.7h2v2h-2zM199.8 845.3h2v2h-2zM199.5 848.3h2v2h-2zM199.6 876.3h2v2h-2zM200.5 862.5h2v2h-2zM200.5 859h2v2h-2zM201.1 856.4h2v2h-2zM202.1 860.9h2v2h-2zM203 845.7h2v2h-2zM202.9 840.6h2v2h-2zM202.6 851.9h2v2h-2zM202.3 838h2v2h-2zM203.5 837.3h2v2h-2zM205.4 838.2h2v2h-2zM205.7 824.8h2v2h-2zM205.4 847.3h2v2h-2zM205.6 842.1h2v2h-2zM207 849.7h2v2h-2zM206.5 848h2v2h-2zM206.8 857.8h2v2h-2zM206.3 855.7h2v2h-2zM206.9 856.7h2v2h-2zM207.7 854.5h2v2h-2zM264.3 865h2v2h-2zM263.4 856.1h2v2h-2zM263.6 862.7h2v2h-2zM265.1 848.3h2v2h-2zM264.7 856.5h2v2h-2zM265.6 852.2h2v2h-2zM265.5 835.6h2v2h-2zM266.4 871.1h2v2h-2zM267.3 864.4h2v2h-2zM268 871.3h2v2h-2zM267.2 848.6h2v2h-2zM268.1 869.4h2v2h-2zM268.4 877.2h2v2h-2zM269.1 880.8h2v2h-2zM269.3 883.7h2v2h-2zM269.8 888h2v2h-2zM270 881.7h2v2h-2zM270.3 869.9h2v2h-2zM270.9 852.9h2v2h-2zM270.5 880.4h2v2h-2zM271.3 878.8h2v2h-2zM271.4 858.3h2v2h-2zM272.3 862.4h2v2h-2zM273 870.4h2v2h-2zM273.1 847.6h2v2h-2zM273.6 873.9h2v2h-2zM274.2 875.3h2v2h-2zM273.4 884.8h2v2h-2zM273.9 876.9h2v2h-2zM273.5 869.6h2v2h-2zM273.4 865.1h2v2h-2zM274.9 864.4h2v2h-2zM276.5 866.2h2v2h-2zM276.9 872.6h2v2h-2zM277.1 873.5h2v2h-2zM277.2 869.8h2v2h-2zM276.3 864h2v2h-2zM278.2 838.3h2v2h-2zM278.2 842h2v2h-2zM278 832.3h2v2h-2zM278.5 859.5h2v2h-2zM279.4 852.9h2v2h-2zM280.3 847.6h2v2h-2zM280.6 859.7h2v2h-2zM280.4 865.4h2v2h-2zM280.6 860.1h2v2h-2zM280.7 841.7h2v2h-2zM281.5 851.8h2v2h-2zM282.1 858.3h2v2h-2zM281.6 847.3h2v2h-2zM282 847h2v2h-2zM282.7 841.5h2v2h-2zM282.9 864.6h2v2h-2zM282.9 863.9h2v2h-2zM282.4 861.6h2v2h-2zM283.7 861.4h2v2h-2zM285.3 868.2h2v2h-2zM284.6 869.6h2v2h-2zM285.1 867.4h2v2h-2zM284.4 869.9h2v2h-2zM284.5 866.4h2v2h-2zM285.7 866h2v2h-2zM286.1 862.6h2v2h-2zM286.7 865.4h2v2h-2zM286.6 854.7h2v2h-2zM286.6 868.7h2v2h-2zM290 862.2h2v2h-2zM290.3 865.7h2v2h-2zM289.6 831.6h2v2h-2zM340.4 881.5h2v2h-2zM340 883.4h2v2h-2zM339.9 868.8h2v2h-2zM340.5 878.1h2v2h-2zM341.9 869.2h2v2h-2zM340.9 847.4h2v2h-2zM341.9 867h2v2h-2zM342.8 869.2h2v2h-2zM342.5 860.4h2v2h-2zM342.8 866.3h2v2h-2zM342.1 869.5h2v2h-2zM343.7 860.5h2v2h-2zM343.3 856.7h2v2h-2zM342.9 852h2v2h-2zM343.6 860.3h2v2h-2zM344 866.7h2v2h-2zM344 862.5h2v2h-2zM345.6 878.8h2v2h-2zM345.5 872.3h2v2h-2zM345.7 871.5h2v2h-2zM345.8 877h2v2h-2zM346 879.6h2v2h-2zM346 881.2h2v2h-2zM346.9 890.8h2v2h-2zM346.8 890.9h2v2h-2zM347.3 891h2v2h-2zM348.4 867.5h2v2h-2zM348 881.8h2v2h-2zM348.6 867.8h2v2h-2zM347.9 867.4h2v2h-2zM348.2 869.9h2v2h-2zM349.6 880.5h2v2h-2zM349.1 879.2h2v2h-2zM350.5 871.5h2v2h-2zM349.9 852.5h2v2h-2zM351.8 875.2h2v2h-2zM351.2 879h2v2h-2zM351.8 873.3h2v2h-2zM352.9 868.2h2v2h-2zM352.8 849.8h2v2h-2zM353.8 856.5h2v2h-2zM353.6 877.7h2v2h-2zM354.7 873.2h2v2h-2zM356.7 864.2h2v2h-2zM356.4 872.3h2v2h-2zM356.1 873.8h2v2h-2zM355.9 858.1h2v2h-2zM356.4 873.5h2v2h-2zM358.5 873.9h2v2h-2zM358 869h2v2h-2zM357.9 875.5h2v2h-2zM359.5 852.6h2v2h-2zM359.2 873.2h2v2h-2zM360.6 856.8h2v2h-2zM361.1 860.6h2v2h-2zM361.5 858.4h2v2h-2zM362 855.6h2v2h-2zM363.6 869.1h2v2h-2zM363.7 865.6h2v2h-2zM363.9 867.7h2v2h-2zM410.6 876.3h2v2h-2zM409.9 870.3h2v2h-2zM410.8 863h2v2h-2zM411.5 879.9h2v2h-2zM411.5 873.6h2v2h-2zM410.8 883.9h2v2h-2zM412.2 883.6h2v2h-2zM412 878h2v2h-2zM413.9 876.8h2v2h-2zM413.2 861.9h2v2h-2zM415.4 858.4h2v2h-2zM414.8 869.3h2v2h-2zM416.2 860.7h2v2h-2zM417 862.9h2v2h-2zM417 859.7h2v2h-2zM417.9 846h2v2h-2zM420.2 856.2h2v2h-2zM420.4 851.2h2v2h-2zM421.7 860.8h2v2h-2zM421 857.4h2v2h-2zM421.8 845.3h2v2h-2zM421.9 863.1h2v2h-2zM422.9 861.1h2v2h-2zM422.8 866.5h2v2h-2zM421.9 849.5h2v2h-2zM422.4 865.7h2v2h-2zM423.1 878.9h2v2h-2zM423.4 869.5h2v2h-2zM423.7 879.6h2v2h-2zM423.1 869.5h2v2h-2zM423.4 855.6h2v2h-2zM423.7 877.3h2v2h-2zM424.5 874.1h2v2h-2zM424.4 881.2h2v2h-2zM425.4 872.7h2v2h-2zM425.4 874.2h2v2h-2zM425.5 872.7h2v2h-2zM425.7 869.9h2v2h-2zM427.1 865.2h2v2h-2zM427.3 866.9h2v2h-2zM427.7 871.9h2v2h-2zM428.4 878.5h2v2h-2zM428.1 878.2h2v2h-2zM429.2 870.1h2v2h-2zM470.7 868.2h2v2h-2zM471.7 845.7h2v2h-2zM470.8 861h2v2h-2zM472.2 865.8h2v2h-2zM473.4 865.6h2v2h-2zM473.9 854.5h2v2h-2zM474.7 864h2v2h-2zM473.9 865.9h2v2h-2zM474.2 846h2v2h-2zM474.4 862.9h2v2h-2zM474.7 864.3h2v2h-2zM475.7 852.2h2v2h-2zM475.7 858.4h2v2h-2zM476.1 845.5h2v2h-2zM476.2 860.9h2v2h-2zM476.5 861.9h2v2h-2zM475.8 856.4h2v2h-2zM477.4 855.6h2v2h-2zM477.1 829.5h2v2h-2zM477.7 853.6h2v2h-2zM477.7 857.5h2v2h-2zM478.9 849.2h2v2h-2zM480.8 832.3h2v2h-2zM480.7 830.3h2v2h-2zM481.5 842.1h2v2h-2zM482.3 851.6h2v2h-2zM483.2 857.4h2v2h-2zM483.3 839.2h2v2h-2zM486.6 866h2v2h-2zM486.1 879.8h2v2h-2zM520.6 886.3h2v2h-2zM519.9 863.3h2v2h-2zM520.6 877.5h2v2h-2zM521.4 873.7h2v2h-2zM521.9 858.3h2v2h-2zM522.4 860.3h2v2h-2zM521.9 870.7h2v2h-2zM522.7 864.8h2v2h-2zM521.8 864.1h2v2h-2zM522.1 864.9h2v2h-2zM524.3 863.5h2v2h-2zM524.3 859.3h2v2h-2zM523.9 862.1h2v2h-2zM525.2 846.8h2v2h-2zM526.5 838.6h2v2h-2zM525.9 856.7h2v2h-2zM526.6 856.7h2v2h-2zM527.2 857.3h2v2h-2zM526.7 851.6h2v2h-2zM526.6 857.9h2v2h-2zM528 842h2v2h-2zM528.6 862.8h2v2h-2zM529.1 847.8h2v2h-2zM529.7 860.9h2v2h-2zM529.5 843.3h2v2h-2zM529.5 857.4h2v2h-2zM530.6 866.5h2v2h-2zM530.8 861.7h2v2h-2zM529.7 869.7h2v2h-2zM531.1 870.5h2v2h-2zM531.7 845.8h2v2h-2zM530.9 873.4h2v2h-2zM532 869h2v2h-2zM531.9 876.7h2v2h-2zM532.2 871.3h2v2h-2zM532 871.8h2v2h-2zM532.7 875.2h2v2h-2zM532.4 871.4h2v2h-2zM533.7 865.4h2v2h-2zM533.3 866.9h2v2h-2zM533.5 853.1h2v2h-2zM534.5 871.3h2v2h-2zM534.4 854.8h2v2h-2zM569 866.2h2v2h-2zM569.9 870.4h2v2h-2zM569.9 864h2v2h-2zM569.2 879.9h2v2h-2zM570.8 883.5h2v2h-2zM571.1 880.5h2v2h-2zM571.3 880.5h2v2h-2zM572.4 866.3h2v2h-2zM573.9 868.7h2v2h-2zM573.6 877.5h2v2h-2zM575 877.2h2v2h-2zM574.7 872.9h2v2h-2zM576.1 851.4h2v2h-2zM575.3 867h2v2h-2zM576.1 852.3h2v2h-2zM575.9 866.4h2v2h-2zM576.9 864.4h2v2h-2zM578.2 872.5h2v2h-2zM578.8 875.6h2v2h-2zM578.7 864.1h2v2h-2zM579.3 864.6h2v2h-2zM579.5 861h2v2h-2zM581.3 862.2h2v2h-2zM580.5 844.2h2v2h-2zM581.9 872.8h2v2h-2zM582 864.2h2v2h-2zM582.1 866.9h2v2h-2zM581.5 866.7h2v2h-2zM608.6 864.6h2v2h-2zM609.2 885.9h2v2h-2zM609.5 876.9h2v2h-2zM609.1 886.4h2v2h-2zM609.8 881.6h2v2h-2zM609.2 884.4h2v2h-2zM609.5 876.5h2v2h-2zM610.6 875.6h2v2h-2zM611.1 852.9h2v2h-2zM611.3 874.7h2v2h-2zM611.2 875.9h2v2h-2zM612.7 870h2v2h-2zM612.2 856.7h2v2h-2zM613.1 863.7h2v2h-2zM614.2 859h2v2h-2zM613.4 856h2v2h-2zM615.1 842.7h2v2h-2zM614.7 847.6h2v2h-2zM615.1 828.1h2v2h-2zM615 847.1h2v2h-2zM614.3 834.4h2v2h-2zM614.2 837.5h2v2h-2zM615.9 829.5h2v2h-2zM616.4 815.8h2v2h-2zM617.1 835.7h2v2h-2zM617.3 816.1h2v2h-2zM617.9 825.3h2v2h-2zM618.2 818h2v2h-2zM640.8 866.2h2v2h-2zM641 863.6h2v2h-2zM642.1 863.8h2v2h-2zM645 855.5h2v2h-2zM644.6 860.3h2v2h-2zM644.6 843.1h2v2h-2zM644.5 858.6h2v2h-2zM646 846.5h2v2h-2zM645.3 859h2v2h-2zM647.9 840.9h2v2h-2zM647 838.5h2v2h-2zM647.5 843h2v2h-2zM647 847.7h2v2h-2zM647.8 847.2h2v2h-2zM648.6 863.6h2v2h-2zM648.5 857.8h2v2h-2zM648.5 827.7h2v2h-2zM649.8 865h2v2h-2zM649.7 861.8h2v2h-2zM649.9 867.2h2v2h-2zM649.5 859.1h2v2h-2zM648.9 847.1h2v2h-2zM650 845.5h2v2h-2zM650.3 864.5h2v2h-2zM650.8 863.6h2v2h-2zM650.4 851.9h2v2h-2zM651 861.3h2v2h-2zM651.9 859.4h2v2h-2zM651.3 856.6h2v2h-2z" fill="#00008f"/>
<path d="M122.3 867.7h2v2h-2zM122.4 849.8h2v2h-2zM123.2 838.3h2v2h-2zM123.4 826.4h2v2h-2zM123.3 860.8h2v2h-2zM124.6 863.2h2v2h-2zM124.7 859.8h2v2h-2zM126.3 850.6h2v2h-2zM127.7 855.3h2v2h-2zM127.7 855.5h2v2h-2zM128.8 855.7h2v2h-2zM128.9 865.5h2v2h-2zM129.8 847.5h2v2h-2zM129.2 867.7h2v2h-2zM130.2 862.3h2v2h-2zM130.7 871.7h2v2h-2zM130 867.2h2v2h-2zM131 865.7h2v2h-2zM132.5 846.8h2v2h-2zM132.2 860.3h2v2h-2zM132.9 858h2v2h-2zM133.2 868.1h2v2h-2zM133 855h2v2h-2zM133.9 875.5h2v2h-2zM134.9 867.1h2v2h-2zM134.8 863.3h2v2h-2zM134.5 873.5h2v2h-2zM134.4 872.3h2v2h-2zM135.5 872h2v2h-2zM135.3 871.5h2v2h-2zM135.5 877.8h2v2h-2zM135.5 864.7h2v2h-2zM136.4 846.2h2v2h-2zM136.6 869.5h2v2h-2zM135.8 870h2v2h-2zM136.8 862.4h2v2h-2zM137.8 857.3h2v2h-2zM137.8 859.7h2v2h-2zM137.5 853.4h2v2h-2zM138 856.6h2v2h-2zM138.9 841.8h2v2h-2zM138.9 856.1h2v2h-2zM139.4 852h2v2h-2zM140.9 854.9h2v2h-2zM140.6 844.9h2v2h-2zM140.4 842.2h2v2h-2zM141.4 813.9h2v2h-2zM141.3 849.9h2v2h-2zM142.4 849.3h2v2h-2zM143.7 843.6h2v2h-2zM142.8 863.3h2v2h-2zM143.7 859.1h2v2h-2zM143 830.7h2v2h-2zM144.1 862.9h2v2h-2zM144.6 849.3h2v2h-2zM144.7 868.3h2v2h-2zM145.9 858.1h2v2h-2zM145.6 866.9h2v2h-2zM145.4 852.5h2v2h-2zM146.8 857.3h2v2h-2zM146.4 872.1h2v2h-2zM146.7 866.9h2v2h-2zM147.6 868.8h2v2h-2zM147.5 848.1h2v2h-2zM148.5 879.5h2v2h-2zM148.9 850.2h2v2h-2zM149.4 859.5h2v2h-2zM149.9 869.6h2v2h-2zM149.9 877.4h2v2h-2zM150 874.9h2v2h-2zM150.8 879.3h2v2h-2zM151.2 858.6h2v2h-2zM151.7 877.6h2v2h-2zM208.5 853.4h2v2h-2zM207.8 860.2h2v2h-2zM209.8 854.1h2v2h-2zM208.8 838.6h2v2h-2zM208.7 862.1h2v2h-2zM209 859.4h2v2h-2zM209.5 854.3h2v2h-2zM208.8 850.1h2v2h-2zM210.1 860.7h2v2h-2zM210.2 843.5h2v2h-2zM210.3 828.3h2v2h-2zM211.5 857.7h2v2h-2zM211.6 868.8h2v2h-2zM211.6 863.5h2v2h-2zM212.8 826.3h2v2h-2zM211.8 848.2h2v2h-2zM212.1 851.4h2v2h-2zM212.7 845.3h2v2h-2zM211.9 833.8h2v2h-2zM213.6 870.9h2v2h-2zM213.4 875.7h2v2h-2zM212.7 875.2h2v2h-2zM213.4 878.1h2v2h-2zM213.4 845.9h2v2h-2zM212.7 863.2h2v2h-2zM214.6 883.7h2v2h-2zM213.9 885.6h2v2h-2zM214.4 862h2v2h-2zM213.7 887.4h2v2h-2zM214.8 887.9h2v2h-2zM214.1 874.4h2v2h-2zM214.9 890.5h2v2h-2zM215.4 891.2h2v2h-2zM215.4 861.5h2v2h-2zM215.8 878.6h2v2h-2zM216.8 890.2h2v2h-2zM217.3 896h2v2h-2zM218.4 890.9h2v2h-2zM218 894.9h2v2h-2zM218.4 885.7h2v2h-2zM218.6 882.2h2v2h-2zM218.7 865.6h2v2h-2zM220.6 866.6h2v2h-2zM220.4 885.4h2v2h-2zM221.8 887.4h2v2h-2zM220.9 886.8h2v2h-2zM222.1 873.7h2v2h-2zM222.8 882.2h2v2h-2zM222.9 856.4h2v2h-2zM224.6 867h2v2h-2zM223.7 861.1h2v2h-2zM225.6 847.2h2v2h-2zM224.8 841.4h2v2h-2zM224.8 848h2v2h-2zM225.5 826.3h2v2h-2zM226.6 866.2h2v2h-2zM225.9 855h2v2h-2zM227.3 861.3h2v2h-2zM227.2 877.4h2v2h-2zM229.7 876.2h2v2h-2zM228.7 871.5h2v2h-2zM230.7 866.5h2v2h-2zM229.7 878.8h2v2h-2zM230.3 866.9h2v2h-2zM233.2 869.7h2v2h-2zM233.2 865.4h2v2h-2zM233.1 869.7h2v2h-2zM233.4 844.1h2v2h-2zM232.9 859h2v2h-2zM233.8 866h2v2h-2zM234.7 874.6h2v2h-2zM235.2 871.8h2v2h-2zM289.7 871.1h2v2h-2zM289.9 877.6h2v2h-2zM289.5 860.1h2v2h-2zM290.2 874.9h2v2h-2zM290.8 875.5h2v2h-2zM291.5 881h2v2h-2zM291.4 886.8h2v2h-2zM292.4 871.1h2v2h-2zM292.6 876.9h2v2h-2zM293.6 868.2h2v2h-2zM293.8 855.5h2v2h-2zM294.6 884.5h2v2h-2zM295.4 885.4h2v2h-2zM294.8 865.9h2v2h-2zM294.9 878.2h2v2h-2zM295.2 880.5h2v2h-2zM296 876.3h2v2h-2zM295.3 883.4h2v2h-2zM296.6 883.7h2v2h-2zM297.9 876.1h2v2h-2zM297.9 874.8h2v2h-2zM298.2 859.5h2v2h-2zM299.7 881.5h2v2h-2zM299.6 888.8h2v2h-2zM299.9 869.5h2v2h-2zM299.9 886.7h2v2h-2zM302.1 871.1h2v2h-2zM302 881.2h2v2h-2zM303.3 867.4h2v2h-2zM304.1 878h2v2h-2zM304 857.1h2v2h-2zM305.3 869.9h2v2h-2zM305.6 863.3h2v2h-2zM306.1 875.8h2v2h-2zM305.4 881.6h2v2h-2zM307.2 878.9h2v2h-2zM306.9 884.4h2v2h-2zM307.2 885.8h2v2h-2zM306.7 875.3h2v2h-2zM306.6 869.1h2v2h-2zM308 880.4h2v2h-2zM308.4 882.5h2v2h-2zM309.9 873.5h2v2h-2zM310.4 874.6h2v2h-2zM311.4 863.9h2v2h-2zM312.1 884.9h2v2h-2zM312.9 878.2h2v2h-2zM313 875.2h2v2h-2zM314.4 878.4h2v2h-2zM314 857.8h2v2h-2zM313.7 877.6h2v2h-2zM314.3 870.1h2v2h-2zM315 858.2h2v2h-2zM316.2 875.5h2v2h-2zM315.8 871.8h2v2h-2zM315.6 868.3h2v2h-2zM365.3 836.6h2v2h-2zM365.4 865.8h2v2h-2zM365.4 842.4h2v2h-2zM365.6 866.8h2v2h-2zM366 857.4h2v2h-2zM367.1 867.4h2v2h-2zM366.9 876.8h2v2h-2zM366.3 844.4h2v2h-2zM367.6 852.5h2v2h-2zM367.1 872.4h2v2h-2zM367.8 867.9h2v2h-2zM368.1 871h2v2h-2zM368.5 874.8h2v2h-2zM369.9 886.6h2v2h-2zM369.4 878.8h2v2h-2zM369.2 874.8h2v2h-2zM371 881.9h2v2h-2zM371.6 878.1h2v2h-2zM371.4 879.4h2v2h-2zM371.1 881.5h2v2h-2zM372.7 871.7h2v2h-2zM373.6 880h2v2h-2zM374.1 870.4h2v2h-2zM374.5 860h2v2h-2zM374.5 871.8h2v2h-2zM376 862.7h2v2h-2zM377.1 856.3h2v2h-2zM376 867h2v2h-2zM377.3 883.2h2v2h-2zM378 881h2v2h-2zM378 884.1h2v2h-2zM380.1 873.3h2v2h-2zM379.9 884.3h2v2h-2zM379.7 858h2v2h-2zM380.9 878.1h2v2h-2zM380 866.3h2v2h-2zM381.6 869.6h2v2h-2zM382.8 877.2h2v2h-2zM382.2 863.6h2v2h-2zM383.2 878.2h2v2h-2zM383 874.3h2v2h-2zM384.9 869.9h2v2h-2zM385.1 870.8h2v2h-2zM384.5 857.8h2v2h-2zM385.6 871.1h2v2h-2zM385.1 855.4h2v2h-2zM387.1 874.3h2v2h-2zM386.4 870.8h2v2h-2zM388 870.6h2v2h-2zM388 848.5h2v2h-2zM387.4 857.3h2v2h-2zM388.4 874.4h2v2h-2zM388.1 874.6h2v2h-2zM388.4 877.6h2v2h-2zM389.1 872.7h2v2h-2zM430.8 863.4h2v2h-2zM432.3 850.2h2v2h-2zM433.3 883.2h2v2h-2zM432.8 858.2h2v2h-2zM432.4 883.7h2v2h-2zM433.6 857h2v2h-2zM435.2 888.3h2v2h-2zM435.6 883h2v2h-2zM436.3 882.4h2v2h-2zM435.8 874.6h2v2h-2zM436.1 888.6h2v2h-2zM437 876h2v2h-2zM437.8 872h2v2h-2zM437.3 865.7h2v2h-2zM438.1 854.4h2v2h-2zM438.3 859.3h2v2h-2zM439 872.6h2v2h-2zM439.2 867.6h2v2h-2zM440.2 867.4h2v2h-2zM439.7 870.5h2v2h-2zM440.6 858.7h2v2h-2zM440.6 851.6h2v2h-2zM442 872.9h2v2h-2zM443.1 865.3h2v2h-2zM443.4 864.9h2v2h-2zM444.2 865.4h2v2h-2zM443.5 865.5h2v2h-2zM445.3 865.7h2v2h-2zM444.2 872.3h2v2h-2zM444.4 871.7h2v2h-2zM445 873.9h2v2h-2zM445.1 864.5h2v2h-2zM444.8 855.9h2v2h-2zM445.6 873h2v2h-2zM445.7 872.5h2v2h-2zM447 869.9h2v2h-2zM448.2 864.8h2v2h-2zM487.3 885.3h2v2h-2zM487.7 883.8h2v2h-2zM488.5 877.6h2v2h-2zM487.9 867.1h2v2h-2zM487.9 871.1h2v2h-2zM487.9 864h2v2h-2zM489.6 887.8h2v2h-2zM489.2 886.7h2v2h-2zM490.9 876.5h2v2h-2zM490.9 864.4h2v2h-2zM490.8 880.6h2v2h-2zM490.7 863.4h2v2h-2zM493 858.6h2v2h-2zM494.7 867.1h2v2h-2zM493.7 843.4h2v2h-2zM494.6 880.9h2v2h-2zM496.5 871.8h2v2h-2zM497.5 869.8h2v2h-2zM497.7 874.9h2v2h-2zM497.4 867.3h2v2h-2zM497.6 877.7h2v2h-2zM497.7 872.5h2v2h-2zM497.1 870.6h2v2h-2zM497.6 851.5h2v2h-2zM497.7 856.2h2v2h-2zM498.5 857.4h2v2h-2zM498.6 858.9h2v2h-2zM499.5 866.3h2v2h-2zM498.6 876.1h2v2h-2zM498.9 861h2v2h-2zM500.2 870.9h2v2h-2zM499.7 865.5h2v2h-2zM500.6 861.3h2v2h-2zM500.8 872.3h2v2h-2zM501.6 878h2v2h-2zM502.1 865.4h2v2h-2zM501.8 879.8h2v2h-2zM503.3 847.3h2v2h-2zM502.8 862.7h2v2h-2zM503 864.1h2v2h-2zM503.3 858h2v2h-2zM503.7 863.3h2v2h-2zM537.6 844.9h2v2h-2zM537.9 853.7h2v2h-2zM539.4 817.8h2v2h-2zM541.1 866.3h2v2h-2zM540.7 843.3h2v2h-2zM542.6 864.7h2v2h-2zM541.9 853.9h2v2h-2zM543.4 851.8h2v2h-2zM542.9 862.2h2v2h-2zM543.1 869.4h2v2h-2zM542.8 869.3h2v2h-2zM543.5 869.9h2v2h-2zM543.9 861.3h2v2h-2zM545.1 847.6h2v2h-2zM545.5 851.2h2v2h-2zM547.1 850.6h2v2h-2zM547.3 870.5h2v2h-2zM546.8 865.2h2v2h-2zM548 873.4h2v2h-2zM547.6 875.4h2v2h-2zM548.9 852.4h2v2h-2zM550.5 865h2v2h-2zM550.2 868.2h2v2h-2zM551.1 862.7h2v2h-2zM583 853.3h2v2h-2zM582 854.3h2v2h-2zM583.1 880h2v2h-2zM583.6 879.9h2v2h-2zM583.1 884.1h2v2h-2zM584.4 878.8h2v2h-2zM585.1 868h2v2h-2zM585.8 868h2v2h-2zM587 857.1h2v2h-2zM588.7 845.6h2v2h-2zM588.4 846.6h2v2h-2zM588.7 854.4h2v2h-2zM589 845.5h2v2h-2zM590.8 830.1h2v2h-2zM590.5 827.2h2v2h-2zM590.9 851.2h2v2h-2zM591 857.8h2v2h-2zM590.7 855h2v2h-2zM590.9 861.1h2v2h-2zM591.8 844.1h2v2h-2zM592.2 863.4h2v2h-2zM592.5 861.9h2v2h-2zM593 853.8h2v2h-2zM592.5 870.9h2v2h-2zM593.6 857.2h2v2h-2zM593.4 873.3h2v2h-2zM618.1 843.5h2v2h-2zM618.2 829.2h2v2h-2zM619.1 878h2v2h-2zM619.8 877.2h2v2h-2zM620 878.7h2v2h-2zM620.8 873.2h2v2h-2zM621.3 846.9h2v2h-2zM622.1 860.9h2v2h-2zM622.1 871.3h2v2h-2zM622.5 872.3h2v2h-2zM623.1 869.3h2v2h-2zM622.7 868.8h2v2h-2zM623.1 867.9h2v2h-2zM622.6 840.7h2v2h-2zM623 866.1h2v2h-2zM623.3 857.2h2v2h-2zM625 866.6h2v2h-2zM625.9 864.4h2v2h-2zM627.1 875.9h2v2h-2zM626.5 858.6h2v2h-2zM626.4 857.9h2v2h-2zM627.8 856.1h2v2h-2zM627.2 875.7h2v2h-2zM627.5 870.8h2v2h-2zM628.9 874h2v2h-2zM629.3 863.6h2v2h-2zM629.8 851.4h2v2h-2zM651.9 871.8h2v2h-2zM652.1 863.6h2v2h-2zM652.3 874.2h2v2h-2zM653.1 873.6h2v2h-2zM653.3 881h2v2h-2zM653.2 878.4h2v2h-2zM653.5 874h2v2h-2zM653.8 874.2h2v2h-2zM654.9 878.5h2v2h-2zM655.1 874.6h2v2h-2zM655.4 851.4h2v2h-2zM655.5 866.9h2v2h-2zM658.2 854.3h2v2h-2zM658.6 857.3h2v2h-2zM659.3 855.9h2v2h-2zM661.2 857.6h2v2h-2zM660.8 855h2v2h-2zM661.3 849.1h2v2h-2zM662.3 849.5h2v2h-2zM662.1 854.5h2v2h-2zM662.4 852.7h2v2h-2zM662.6 863.4h2v2h-2zM662.4 862.4h2v2h-2zM662.3 847.3h2v2h-2zM663.1 843h2v2h-2zM663.2 857.3h2v2h-2zM664.1 870.5h2v2h-2zM664.1 866.4h2v2h-2zM664.7 858h2v2h-2zM665 862.9h2v2h-2zM664.8 848.7h2v2h-2zM665.2 865.4h2v2h-2zM665.2 871h2v2h-2zM665.9 869.8h2v2h-2zM665.3 865.4h2v2h-2z" fill="#8e7457"/>
<path d="M152.3 875.9h2v2h-2zM151.6 863.5h2v2h-2zM152 877.4h2v2h-2zM153.4 872.8h2v2h-2zM153.4 871.5h2v2h-2zM152.4 871.4h2v2h-2zM154.2 864.1h2v2h-2zM154.7 861.3h2v2h-2zM154.8 831.8h2v2h-2zM154.9 844.7h2v2h-2zM155.8 863.6h2v2h-2zM157.2 867h2v2h-2zM157.2 866.6h2v2h-2zM157.5 856.2h2v2h-2zM157.2 868.3h2v2h-2zM157.5 868.3h2v2h-2zM159.2 857h2v2h-2zM159.3 866.4h2v2h-2zM159.3 857.7h2v2h-2zM159.2 868.5h2v2h-2zM159.9 858.8h2v2h-2zM159.5 872.9h2v2h-2zM160.5 878.5h2v2h-2zM161.3 865.4h2v2h-2zM160.4 847.2h2v2h-2zM161.6 873.6h2v2h-2zM162.4 879.4h2v2h-2zM163 856.2h2v2h-2zM162.5 849.8h2v2h-2zM162.7 871.5h2v2h-2zM163.4 866.6h2v2h-2zM164 881.9h2v2h-2zM164.1 855.6h2v2h-2zM165.7 866.8h2v2h-2zM167.2 882.7h2v2h-2zM167.7 878.3h2v2h-2zM168.2 864.3h2v2h-2zM168.8 877h2v2h-2zM169.5 883.1h2v2h-2zM170 875.3h2v2h-2zM169.7 863h2v2h-2zM170.4 856.6h2v2h-2zM171 887.6h2v2h-2zM171.4 864.9h2v2h-2zM171.4 874.1h2v2h-2zM172 850.1h2v2h-2zM171.3 879.6h2v2h-2zM173.1 879.8h2v2h-2zM172.7 878.3h2v2h-2zM172.4 867.8h2v2h-2zM173.5 873.4h2v2h-2zM174.9 875.7h2v2h-2zM174.3 869.3h2v2h-2zM175.1 869.7h2v2h-2zM176.1 865.3h2v2h-2zM175.6 883h2v2h-2zM176.8 888.8h2v2h-2zM176.6 888.9h2v2h-2zM176.7 868.2h2v2h-2zM176.4 872.9h2v2h-2zM178.4 879.6h2v2h-2zM177.8 885.3h2v2h-2zM178 889h2v2h-2zM178.3 879.4h2v2h-2zM178.9 853.3h2v2h-2zM179 870.2h2v2h-2zM179.2 879.1h2v2h-2zM180 880.6h2v2h-2zM180.4 881.5h2v2h-2zM180.3 871.8h2v2h-2zM236.5 862.6h2v2h-2zM235.7 843.6h2v2h-2zM236.8 856.5h2v2h-2zM238.5 866.7h2v2h-2zM237.8 871.1h2v2h-2zM237.6 878.7h2v2h-2zM239.5 857h2v2h-2zM239.6 855.2h2v2h-2zM239.9 866.4h2v2h-2zM240.4 862h2v2h-2zM241.3 852.1h2v2h-2zM240.4 861.5h2v2h-2zM241.6 865.1h2v2h-2zM242.5 864.1h2v2h-2zM242.3 867.2h2v2h-2zM242.6 860.6h2v2h-2zM243.1 868.3h2v2h-2zM242.7 862.6h2v2h-2zM243.3 854.9h2v2h-2zM243.9 871.1h2v2h-2zM244.1 856.8h2v2h-2zM243.3 853h2v2h-2zM245.4 862.5h2v2h-2zM244.7 873.2h2v2h-2zM245.4 853.8h2v2h-2zM246.8 873.3h2v2h-2zM246.7 877.2h2v2h-2zM247.3 842.6h2v2h-2zM247.7 875.5h2v2h-2zM249.4 854.9h2v2h-2zM251 872.5h2v2h-2zM251.8 875.5h2v2h-2zM251.7 877.5h2v2h-2zM251.9 866.5h2v2h-2zM251.9 859h2v2h-2zM252.7 847.3h2v2h-2zM254.8 856.5h2v2h-2zM254.7 862.7h2v2h-2zM257.4 854h2v2h-2zM258 876.5h2v2h-2zM258.4 872.5h2v2h-2zM258.5 869.5h2v2h-2zM259.1 861.6h2v2h-2zM261 868.6h2v2h-2zM261.2 843.2h2v2h-2zM260.9 875.3h2v2h-2zM261.3 875.6h2v2h-2zM261.4 878.4h2v2h-2zM263.3 873.2h2v2h-2zM262.7 857h2v2h-2zM262.8 870.2h2v2h-2zM262.8 876.1h2v2h-2zM315.9 869.3h2v2h-2zM315.9 875.5h2v2h-2zM317 847.6h2v2h-2zM316.5 869h2v2h-2zM316.4 874.6h2v2h-2zM316.6 860.1h2v2h-2zM318.1 850.9h2v2h-2zM317.5 859.7h2v2h-2zM318 868.3h2v2h-2zM318.5 855.4h2v2h-2zM320.2 868.9h2v2h-2zM320.1 869.1h2v2h-2zM319.5 859.3h2v2h-2zM320.6 866.3h2v2h-2zM320.6 865.1h2v2h-2zM322.1 873.3h2v2h-2zM322.1 861.4h2v2h-2zM323.5 864.7h2v2h-2zM324 866.5h2v2h-2zM323.8 874.2h2v2h-2zM324.4 873.9h2v2h-2zM324.7 878.6h2v2h-2zM326 871.6h2v2h-2zM327.2 878.2h2v2h-2zM327.3 871.1h2v2h-2zM327.3 883.4h2v2h-2zM328.3 885h2v2h-2zM328.1 881h2v2h-2zM327.6 873.5h2v2h-2zM328.2 878.9h2v2h-2zM329.4 873.2h2v2h-2zM329.1 870.2h2v2h-2zM329.4 871.1h2v2h-2zM329.7 867.5h2v2h-2zM331.3 878h2v2h-2zM330.7 871.1h2v2h-2zM332 860.1h2v2h-2zM333.5 852.2h2v2h-2zM333.8 872.4h2v2h-2zM333.9 871h2v2h-2zM334.4 869.8h2v2h-2zM336.5 852.9h2v2h-2zM335.8 873.7h2v2h-2zM336.5 874.6h2v2h-2zM337.1 852.1h2v2h-2zM337.3 867.3h2v2h-2zM336.8 872.1h2v2h-2zM338.2 857.5h2v2h-2zM338.8 885h2v2h-2zM339.6 873h2v2h-2zM339.6 881.5h2v2h-2zM339.8 880h2v2h-2zM388.7 866.5h2v2h-2zM389.8 873.2h2v2h-2zM389.4 872.3h2v2h-2zM390.7 864.5h2v2h-2zM392.1 853.2h2v2h-2zM391.6 865.9h2v2h-2zM393.7 867.4h2v2h-2zM393.9 869.6h2v2h-2zM394.6 867.9h2v2h-2zM394.7 854.8h2v2h-2zM394.2 868.7h2v2h-2zM395.2 868.6h2v2h-2zM395.9 860.9h2v2h-2zM395.5 863.8h2v2h-2zM396.7 857h2v2h-2zM396.4 853.7h2v2h-2zM397 863.3h2v2h-2zM397.2 866.7h2v2h-2zM397.5 863h2v2h-2zM399.1 873h2v2h-2zM398.6 872.4h2v2h-2zM399.7 870.1h2v2h-2zM399.8 872.7h2v2h-2zM400.6 832.9h2v2h-2zM400.5 859.5h2v2h-2zM400.9 863.3h2v2h-2zM400.8 862h2v2h-2zM401.1 859.1h2v2h-2zM401.3 862.1h2v2h-2zM401.2 863h2v2h-2zM402.7 868.9h2v2h-2zM404.1 853.4h2v2h-2zM404.6 867.3h2v2h-2zM404.5 878.5h2v2h-2zM404.8 867.9h2v2h-2zM406 876.2h2v2h-2zM406.2 872.8h2v2h-2zM407.8 853.5h2v2h-2zM408.2 872.4h2v2h-2zM407.8 862.7h2v2h-2zM408.9 879.3h2v2h-2zM408.9 877.6h2v2h-2zM408.6 874.7h2v2h-2zM409.6 855.9h2v2h-2zM409.4 858.6h2v2h-2zM448.6 876.2h2v2h-2zM448.3 866.5h2v2h-2zM450 873.2h2v2h-2zM449.5 862h2v2h-2zM450.8 865.7h2v2h-2zM450.3 875.2h2v2h-2zM450.6 859.5h2v2h-2zM450.9 847.9h2v2h-2zM451.8 847.2h2v2h-2zM452.2 871.3h2v2h-2zM452.5 840.1h2v2h-2zM453.3 874.4h2v2h-2zM453.8 843.1h2v2h-2zM455.2 862.6h2v2h-2zM454.5 861.4h2v2h-2zM454.3 851.2h2v2h-2zM455.2 847.8h2v2h-2zM455.6 841.3h2v2h-2zM456.2 856.6h2v2h-2zM457.1 859h2v2h-2zM456.2 849.8h2v2h-2zM456.4 839.2h2v2h-2zM458.2 853.4h2v2h-2zM461 863.2h2v2h-2zM460.7 863.5h2v2h-2zM460.8 859.9h2v2h-2zM462.2 845.7h2v2h-2zM462.2 867.9h2v2h-2zM462.8 870.6h2v2h-2zM462.2 870h2v2h-2zM463.4 863.5h2v2h-2zM463.7 859.7h2v2h-2zM464.3 862h2v2h-2zM464.7 871.9h2v2h-2zM466.8 885.5h2v2h-2zM466.9 879h2v2h-2zM467.4 885.5h2v2h-2zM503.7 879.6h2v2h-2zM504.6 873.5h2v2h-2zM503.5 884.3h2v2h-2zM505.2 873.7h2v2h-2zM505.2 865.4h2v2h-2zM505.2 872.1h2v2h-2zM505.6 859.4h2v2h-2zM506.2 879.7h2v2h-2zM506.5 867.3h2v2h-2zM507.6 863.8h2v2h-2zM506.5 874.4h2v2h-2zM508.5 876.1h2v2h-2zM508.1 874.6h2v2h-2zM508.7 858.7h2v2h-2zM511 839.3h2v2h-2zM510.7 869.5h2v2h-2zM510.8 868.9h2v2h-2zM510.7 840.7h2v2h-2zM512.5 877.9h2v2h-2zM511.8 876.1h2v2h-2zM513.5 870.3h2v2h-2zM512.6 863.9h2v2h-2zM515.7 865.3h2v2h-2zM515 869.5h2v2h-2zM515.4 873.2h2v2h-2zM517 882.6h2v2h-2zM517 882.1h2v2h-2zM516.7 882.5h2v2h-2zM517.6 860.2h2v2h-2zM516.7 872.3h2v2h-2zM518 865.3h2v2h-2zM519.6 848.7h2v2h-2zM519.6 853.3h2v2h-2zM520.6 863.4h2v2h-2zM551.5 864.4h2v2h-2zM552.2 861.3h2v2h-2zM552 872.7h2v2h-2zM553.3 865.5h2v2h-2zM553.4 870.3h2v2h-2zM552.5 868h2v2h-2zM553.3 870.9h2v2h-2zM553.4 871.7h2v2h-2zM553.7 852.3h2v2h-2zM554.1 862.7h2v2h-2zM553.7 855.7h2v2h-2zM554.1 867.7h2v2h-2zM553.7 842h2v2h-2zM555.6 868h2v2h-2zM555.6 865.6h2v2h-2zM555.8 838.9h2v2h-2zM555.6 867h2v2h-2zM557.4 861.3h2v2h-2zM557 865.7h2v2h-2zM558.4 874.7h2v2h-2zM557.9 867.8h2v2h-2zM558.9 855.2h2v2h-2zM559.5 858.3h2v2h-2zM560.1 855.6h2v2h-2zM560.6 870.4h2v2h-2zM559.8 872.5h2v2h-2zM561.2 870h2v2h-2zM562.2 854h2v2h-2zM562.1 840.5h2v2h-2zM562.3 847.5h2v2h-2zM563.9 859.6h2v2h-2zM564.1 847.7h2v2h-2zM565.3 877h2v2h-2zM564.8 855.3h2v2h-2zM566.5 846.8h2v2h-2zM565.9 842.7h2v2h-2zM565.7 859.1h2v2h-2zM565.7 846.9h2v2h-2zM567.3 867.2h2v2h-2zM567 856.1h2v2h-2zM567.2 864.9h2v2h-2zM567.5 872.4h2v2h-2zM594.4 883h2v2h-2zM594.1 873.9h2v2h-2zM594.2 858.7h2v2h-2zM596.1 876h2v2h-2zM597.9 859.5h2v2h-2zM598.4 859.4h2v2h-2zM599.7 863.4h2v2h-2zM599.4 864.4h2v2h-2zM600.9 858.1h2v2h-2zM600.7 875.1h2v2h-2zM601.3 870.8h2v2h-2zM601 854.7h2v2h-2zM602.6 861.1h2v2h-2zM602 873.9h2v2h-2zM604.4 869.5h2v2h-2zM603.8 862.6h2v2h-2zM604.4 853.7h2v2h-2zM604.8 865.2h2v2h-2zM605.9 841.4h2v2h-2zM606.1 854.8h2v2h-2zM606.5 840.2h2v2h-2zM607 867.1h2v2h-2zM607.8 869.7h2v2h-2zM608.4 871.5h2v2h-2zM608.2 857.4h2v2h-2zM630.1 869h2v2h-2zM629.9 840.1h2v2h-2zM631.1 868.5h2v2h-2zM631.8 875.1h2v2h-2zM631.9 873.9h2v2h-2zM631.6 866.3h2v2h-2zM632.3 862.8h2v2h-2zM632.6 872.8h2v2h-2zM633.2 872.9h2v2h-2zM632.7 870.8h2v2h-2zM632.3 864.8h2v2h-2zM633.7 844.8h2v2h-2zM633.3 839h2v2h-2zM634.4 857.6h2v2h-2zM635.7 867.5h2v2h-2zM636.2 864.7h2v2h-2zM636.1 864.8h2v2h-2zM636.3 865.7h2v2h-2zM636.4 855.7h2v2h-2zM636.3 867.5h2v2h-2zM638.2 862.3h2v2h-2zM638.2 872.4h2v2h-2zM639.2 847.8h2v2h-2zM639.9 859.1h2v2h-2z" fill="#008300"/>
<path d="M85.3 809.9h2.6v2.6h-2.6zM85.3 812.1h2.6v2.6h-2.6zM85.3 827.4h2.6v2.6h-2.6zM85.6 831h2.6v2.6h-2.6zM85.6 838.3h2.6v2.6h-2.6zM85.9 845.6h2.6v2.6h-2.6zM86.3 852.9h2.6v2.6h-2.6zM96.6 836.9h2.6v2.6h-2.6zM93.6 844.2h2.6v2.6h-2.6zM96.6 850h2.6v2.6h-2.6zM96.6 852.9h2.6v2.6h-2.6zM106.8 815h2.6v2.6h-2.6zM106.8 836.9h2.6v2.6h-2.6zM116.3 848.6h2.6v2.6h-2.6zM106.1 857.3h2.6v2.6h-2.6zM109 860.2h2.6v2.6h-2.6zM110.4 856.6h2.6v2.6h-2.6zM102.4 867.5h2.6v2.6h-2.6zM116.3 860.2h2.6v2.6h-2.6zM118.5 864.6h2.6v2.6h-2.6zM179.8 827.4h2.6v2.6h-2.6zM179.8 855.9h2.6v2.6h-2.6zM189.3 798.9h2.6v2.6h-2.6zM203.1 798.6h2.6v2.6h-2.6zM188.5 827.4h2.6v2.6h-2.6zM189.3 831.8h2.6v2.6h-2.6zM188.5 843.4h2.6v2.6h-2.6zM192.2 843.4h2.6v2.6h-2.6zM203.1 823.7h2.6v2.6h-2.6zM203.1 831.8h2.6v2.6h-2.6zM203.9 840.5h2.6v2.6h-2.6zM200.9 844.9h2.6v2.6h-2.6zM197.3 897.5h2.6v2.6h-2.6zM198.8 905.5h2.6v2.6h-2.6zM277.6 819.4h2.6v2.6h-2.6zM279.1 844.9h2.6v2.6h-2.6zM281.2 850h2.6v2.6h-2.6zM264.5 853.7h2.6v2.6h-2.6zM264.5 858.8h2.6v2.6h-2.6zM271 871.9h2.6v2.6h-2.6zM288.2 839.1h2.6v2.6h-2.6zM287.8 848.6h2.6v2.6h-2.6zM283.4 844.2h2.6v2.6h-2.6zM362.4 795.3h2.6v2.6h-2.6zM362.4 800.4h2.6v2.6h-2.6zM362.4 814.2h2.6v2.6h-2.6zM362.4 820.1h2.6v2.6h-2.6zM362.4 824.5h2.6v2.6h-2.6zM362.4 831.8h2.6v2.6h-2.6zM362.3 839.1h2.6v2.6h-2.6zM362 844.2h2.6v2.6h-2.6zM362.1 850h2.6v2.6h-2.6zM353.5 824.5h2.6v2.6h-2.6zM342.6 826.9h2.6v2.6h-2.6zM342.6 834h2.6v2.6h-2.6zM342.6 839.8h2.6v2.6h-2.6zM342.6 844.2h2.6v2.6h-2.6zM342.6 851.5h2.6v2.6h-2.6zM353.5 842.7h2.6v2.6h-2.6zM353.5 849.3h2.6v2.6h-2.6zM353.5 854.4h2.6v2.6h-2.6zM353.5 860.2h2.6v2.6h-2.6zM353.5 863.9h2.6v2.6h-2.6zM350.6 867.5h2.6v2.6h-2.6zM341.1 856.6h2.6v2.6h-2.6zM420.7 834h2.6v2.6h-2.6zM418.5 836.9h2.6v2.6h-2.6zM417.7 843.4h2.6v2.6h-2.6zM419.2 850h2.6v2.6h-2.6zM411.2 853.7h2.6v2.6h-2.6zM414.8 854.4h2.6v2.6h-2.6zM420.7 857.3h2.6v2.6h-2.6zM410.4 861.7h2.6v2.6h-2.6zM426.5 864.6h2.6v2.6h-2.6zM481.2 805.5h2.6v2.6h-2.6zM478.3 816.4h2.6v2.6h-2.6zM478.3 824.5h2.6v2.6h-2.6zM478.3 831h2.6v2.6h-2.6zM478.3 836.1h2.6v2.6h-2.6zM479.8 842h2.6v2.6h-2.6zM479.1 847.1h2.6v2.6h-2.6zM479.8 852.9h2.6v2.6h-2.6zM485.6 826.7h2.6v2.6h-2.6zM485.6 847.1h2.6v2.6h-2.6zM483.4 855.9h2.6v2.6h-2.6zM524.6 801.1h2.6v2.6h-2.6zM526.5 818.6h2.6v2.6h-2.6zM525.8 832.5h2.6v2.6h-2.6zM530.1 835.1h2.6v2.6h-2.6zM525 841.3h2.6v2.6h-2.6zM524.3 850h2.6v2.6h-2.6zM525 855.9h2.6v2.6h-2.6zM566.6 839.1h2.6v2.6h-2.6zM566.6 848.6h2.6v2.6h-2.6zM567.4 857.3h2.6v2.6h-2.6zM569.6 839.1h2.6v2.6h-2.6zM576.1 832.5h2.6v2.6h-2.6zM576.1 844.9h2.6v2.6h-2.6zM575.4 855.9h2.6v2.6h-2.6zM578.3 869h2.6v2.6h-2.6zM570.3 857.3h2.6v2.6h-2.6zM608.4 819.5h2.6v2.6h-2.6zM607.6 835.2h2.6v2.6h-2.6zM607.6 844.1h2.6v2.6h-2.6zM617.2 766.2h2.6v2.6h-2.6zM617.2 779h2.6v2.6h-2.6zM617.2 791.9h2.6v2.6h-2.6zM617.2 798.3h2.6v2.6h-2.6zM617.2 804.7h2.6v2.6h-2.6zM617.2 817.6h2.6v2.6h-2.6zM617.2 820.8h2.6v2.6h-2.6zM617.2 824h2.6v2.6h-2.6zM616.8 827.2h2.6v2.6h-2.6zM616.4 830.4h2.6v2.6h-2.6zM615.6 835.2h2.6v2.6h-2.6zM614 840h2.6v2.6h-2.6zM614 851.3h2.6v2.6h-2.6zM613.2 859.3h2.6v2.6h-2.6zM639.2 846.1h2.6v2.6h-2.6zM639.2 853.7h2.6v2.6h-2.6zM646.1 840.5h2.6v2.6h-2.6zM649.4 844.9h2.6v2.6h-2.6zM646.9 853.7h2.6v2.6h-2.6zM649.4 854.5h2.6v2.6h-2.6zM361.5 784h2.6v2.6h-2.6z" fill="#000066"/>
<path d="M124.3 821.5h2.6v2.6h-2.6zM125 825.9h2.6v2.6h-2.6zM125.8 831.8h2.6v2.6h-2.6zM126.5 836.9h2.6v2.6h-2.6zM125 839.1h2.6v2.6h-2.6zM130.9 836.1h2.6v2.6h-2.6zM134.5 845.6h2.6v2.6h-2.6zM138.9 846.4h2.6v2.6h-2.6zM146.2 840.5h2.6v2.6h-2.6zM146.2 844.2h2.6v2.6h-2.6zM146.9 855.9h2.6v2.6h-2.6zM122.1 847.1h2.6v2.6h-2.6zM122.8 855.1h2.6v2.6h-2.6zM208.2 848.6h2.6v2.6h-2.6zM224.3 801.8h2.6v2.6h-2.6zM225 806.9h2.6v2.6h-2.6zM233.1 811.8h2.6v2.6h-2.6zM230.9 816.4h2.6v2.6h-2.6zM232.3 822.3h2.6v2.6h-2.6zM209.7 821.5h2.6v2.6h-2.6zM224.3 819.4h2.6v2.6h-2.6zM230.9 828.1h2.6v2.6h-2.6zM233.1 834h2.6v2.6h-2.6zM225 839.8h2.6v2.6h-2.6zM209.7 841.3h2.6v2.6h-2.6zM233.1 841.3h2.6v2.6h-2.6zM225 844.9h2.6v2.6h-2.6zM233.1 845.6h2.6v2.6h-2.6zM219.2 873.4h2.6v2.6h-2.6zM224.3 857.3h2.6v2.6h-2.6zM230.9 855.1h2.6v2.6h-2.6zM233.8 855.1h2.6v2.6h-2.6zM288.5 857.3h2.6v2.6h-2.6zM288.5 864.6h2.6v2.6h-2.6zM305.3 825.9h2.6v2.6h-2.6zM299.5 851.5h2.6v2.6h-2.6zM299.5 855.9h2.6v2.6h-2.6zM313.4 848.6h2.6v2.6h-2.6zM313.4 855.1h2.6v2.6h-2.6zM313.4 861h2.6v2.6h-2.6zM303.1 872.6h2.6v2.6h-2.6zM297.3 874.1h2.6v2.6h-2.6zM306.1 871.9h2.6v2.6h-2.6zM292.2 879.9h2.6v2.6h-2.6zM373.9 844.2h2.6v2.6h-2.6zM373.9 851.5h2.6v2.6h-2.6zM373.9 855.1h2.6v2.6h-2.6zM380.5 861.7h2.6v2.6h-2.6zM366.6 867.5h2.6v2.6h-2.6zM384.9 811.3h2.6v2.6h-2.6zM384.9 824.5h2.6v2.6h-2.6zM384.9 832.5h2.6v2.6h-2.6zM384.9 842.7h2.6v2.6h-2.6zM384.9 851.5h2.6v2.6h-2.6zM384.9 863.2h2.6v2.6h-2.6zM430.1 805.9h2.6v2.6h-2.6zM438.6 818.9h2.6v2.6h-2.6zM440.8 830h2.6v2.6h-2.6zM430.1 837.6h2.6v2.6h-2.6zM438.2 839.1h2.6v2.6h-2.6zM438.2 844.2h2.6v2.6h-2.6zM438.2 848.6h2.6v2.6h-2.6zM430.1 852.9h2.6v2.6h-2.6zM444 852.9h2.6v2.6h-2.6zM433.1 861.7h2.6v2.6h-2.6zM438.9 863.2h2.6v2.6h-2.6zM444 864.6h2.6v2.6h-2.6zM488.5 851.5h2.6v2.6h-2.6zM488.5 860.2h2.6v2.6h-2.6zM494.1 825.9h2.6v2.6h-2.6zM494.1 836.9h2.6v2.6h-2.6zM490 840.5h2.6v2.6h-2.6zM490 844.2h2.6v2.6h-2.6zM490.7 850h2.6v2.6h-2.6zM489.3 855.9h2.6v2.6h-2.6zM497.3 864.6h2.6v2.6h-2.6zM533.8 846.4h2.6v2.6h-2.6zM537 789.9h2.6v2.6h-2.6zM537 799.2h2.6v2.6h-2.6zM541.8 799.2h2.6v2.6h-2.6zM550.6 809.9h2.6v2.6h-2.6zM537 815.7h2.6v2.6h-2.6zM550.6 828.4h2.6v2.6h-2.6zM537 829.6h2.6v2.6h-2.6zM537 836.1h2.6v2.6h-2.6zM550.6 833.2h2.6v2.6h-2.6zM550.6 837.6h2.6v2.6h-2.6zM539.6 841.3h2.6v2.6h-2.6zM541.8 844.2h2.6v2.6h-2.6zM550.6 852.9h2.6v2.6h-2.6zM592.3 781.4h2.6v2.6h-2.6zM592.3 805.5h2.6v2.6h-2.6zM586.7 834.4h2.6v2.6h-2.6zM590.7 843.3h2.6v2.6h-2.6zM585.1 851.3h2.6v2.6h-2.6zM624.8 828h2.6v2.6h-2.6zM624.8 836.8h2.6v2.6h-2.6zM625.3 841.6h2.6v2.6h-2.6zM625.3 849.7h2.6v2.6h-2.6zM658.2 835.5h2.6v2.6h-2.6zM660.6 835.5h2.6v2.6h-2.6zM656.6 845.2h2.6v2.6h-2.6zM660.6 842.9h2.6v2.6h-2.6zM657.4 853.7h2.6v2.6h-2.6zM536.9 785.9h2.6v2.6h-2.6z" fill="#75624a"/>
<path d="M157.9 825.9h2.6v2.6h-2.6zM154.2 837.6h2.6v2.6h-2.6zM154.2 848.6h2.6v2.6h-2.6zM158.6 851.5h2.6v2.6h-2.6zM154.2 852.9h2.6v2.6h-2.6zM167.4 844.9h2.6v2.6h-2.6zM170.3 844.9h2.6v2.6h-2.6zM162.3 855.9h2.6v2.6h-2.6zM163.7 860.2h2.6v2.6h-2.6zM170.3 861.7h2.6v2.6h-2.6zM174.7 820.8h2.6v2.6h-2.6zM174.4 828.1h2.6v2.6h-2.6zM179.1 840.5h2.6v2.6h-2.6zM179.1 851.5h2.6v2.6h-2.6zM257.9 798.2h2.6v2.6h-2.6zM257.9 828.4h2.6v2.6h-2.6zM253.5 833.2h2.6v2.6h-2.6zM238.9 839.1h2.6v2.6h-2.6zM244 840.5h2.6v2.6h-2.6zM249.1 842.7h2.6v2.6h-2.6zM257.9 835.4h2.6v2.6h-2.6zM258.6 846.4h2.6v2.6h-2.6zM238.9 847.1h2.6v2.6h-2.6zM238.9 852.9h2.6v2.6h-2.6zM245.5 851.5h2.6v2.6h-2.6zM258.6 855.9h2.6v2.6h-2.6zM246.9 858.8h2.6v2.6h-2.6zM253.5 860.2h2.6v2.6h-2.6zM318.2 831h2.6v2.6h-2.6zM318.2 835.4h2.6v2.6h-2.6zM318.2 839.1h2.6v2.6h-2.6zM320.9 844.9h2.6v2.6h-2.6zM317.7 849.3h2.6v2.6h-2.6zM335.5 836.9h2.6v2.6h-2.6zM337.9 850.7h2.6v2.6h-2.6zM329.4 854.4h2.6v2.6h-2.6zM329.4 857.3h2.6v2.6h-2.6zM335.5 861h2.6v2.6h-2.6zM317.7 857.3h2.6v2.6h-2.6zM319.2 861.7h2.6v2.6h-2.6zM388.5 852.9h2.6v2.6h-2.6zM394.4 821.5h2.6v2.6h-2.6zM392.9 826.7h2.6v2.6h-2.6zM390.7 834h2.6v2.6h-2.6zM400.2 834h2.6v2.6h-2.6zM392.9 841.3h2.6v2.6h-2.6zM393.6 847.1h2.6v2.6h-2.6zM401.7 847.1h2.6v2.6h-2.6zM398.8 852.9h2.6v2.6h-2.6zM392.2 858.8h2.6v2.6h-2.6zM401.7 860.2h2.6v2.6h-2.6zM409 867.5h2.6v2.6h-2.6zM409 808.1h2.6v2.6h-2.6zM449.1 837.6h2.6v2.6h-2.6zM454.7 827.4h2.6v2.6h-2.6zM462.3 835.4h2.6v2.6h-2.6zM453.9 839.8h2.6v2.6h-2.6zM461.5 841.3h2.6v2.6h-2.6zM454.2 845.6h2.6v2.6h-2.6zM461.5 847.1h2.6v2.6h-2.6zM454.2 851.5h2.6v2.6h-2.6zM466.6 858h2.6v2.6h-2.6zM504.6 866.1h2.6v2.6h-2.6zM507.8 822.3h2.6v2.6h-2.6zM509 831h2.6v2.6h-2.6zM509.7 844.2h2.6v2.6h-2.6zM506.1 848.6h2.6v2.6h-2.6zM509.7 855.9h2.6v2.6h-2.6zM511.9 862.4h2.6v2.6h-2.6zM517.7 852.9h2.6v2.6h-2.6zM517.7 865.3h2.6v2.6h-2.6zM551.3 858.8h2.6v2.6h-2.6zM556.4 855.1h2.6v2.6h-2.6zM555.7 859.5h2.6v2.6h-2.6zM562.3 862.4h2.6v2.6h-2.6zM593.1 830.4h2.6v2.6h-2.6zM597.2 831.2h2.6v2.6h-2.6zM603.6 813.1h2.6v2.6h-2.6zM598.8 850.5h2.6v2.6h-2.6zM598.8 863.3h2.6v2.6h-2.6zM630.1 836.8h2.6v2.6h-2.6zM630.1 840.8h2.6v2.6h-2.6zM630.1 853.7h2.6v2.6h-2.6zM635.7 864.1h2.6v2.6h-2.6zM550.8 785.9h2.6v2.6h-2.6z" fill="#1a661a"/>
<path d="M617 714h4v4h-4zM617 740h4v4h-4zM617 742.5h4v4h-4zM617 757h4v4h-4z" fill="#c41c80"/>
<path d="M618 715h2v2h-2zM618 741h2v2h-2zM618 743.5h2v2h-2zM618 758h2v2h-2z" fill="#8a1058"/>
<path d="M104.1 969.3v2.5M137.6 969.3v2.5M167.2 969.3v2.5M195.4 969.3v2.5M223.1 969.3v2.5M250.8 969.3v2.5M277.8 969.3v2.5M303.9 969.3v2.5M329.1 969.3v2.5M353.4 969.3v2.5M377.6 969.3v2.5M400.5 969.3v2.5M421 969.3v2.5M440.2 969.3v2.5M459.5 969.3v2.5M478.7 969.3v2.5M496.6 969.3v2.5M513.1 969.3v2.5M528.6 969.3v2.5M544.5 969.3v2.5M560.9 969.3v2.5M576.1 969.3v2.5M589.4 969.3v2.5M602.5 969.3v2.5M614.6 969.3v2.5M625.1 969.3v2.5M636.1 969.3v2.5M647.1 969.3v2.5M659.8 969.3v2.5" stroke="#99a" stroke-width="0.8" fill="none"/>
<path d="M70.5 1022.1V1310.9" stroke="#8c8c8c" stroke-width="1.2" fill="none"/>
<path d="M65.5 1310.9H69.5M65.5 1238.7H69.5M65.5 1166.5H69.5M65.5 1094.3H69.5M65.5 1022.1H69.5" stroke="#8c8c8c" stroke-width="1.1" fill="none"/>
<path d="M69.5 1130.5H682" stroke="#a4a4a4" stroke-width="1.2" fill="none"/>
<path d="M85.8 1311.6V1224H86.8V1233H87.8V1225.8H88.8V1233.2H89.8V1237.9H90.8V1241.1H91.8V1238.2H92.8V1234.2H93.8V1232.5H94.8V1232.5H95.8V1236.2H96.8V1233.2H97.8V1232.2H98.8V1240.2H99.8V1238.9H100.8V1232.3H101.8V1230.6H102.8V1223.6H103.8V1226.2H104.8V1226.1H105.8V1220.3H106.8V1223.7H107.8V1223.5H108.8V1230H109.8V1223.7H110.8V1236.4H111.8V1234.6H112.8V1237.4H113.8V1236H114.8V1245.8H115.8V1241.5H116.8V1244H117.8V1238.3H118.8V1233.4H119.8V1221.7H120.8V1231.9H121.8V1230.8H122.1V1311.6ZM181.1 1311.6V1230.9H182.1V1215.4H183.1V1220.6H184.1V1219.5H185.1V1224.8H186.1V1222.7H187.1V1227.4H188.1V1229.1H189.1V1227.7H190.1V1227.1H191.1V1228.4H192.1V1227.4H193.1V1231.7H194.1V1234.1H195.1V1236.3H196.1V1238.3H197.1V1238.9H198.1V1236.5H199.1V1238.9H200.1V1232.3H201.1V1234.9H202.1V1230.2H203.1V1234H204.1V1231.9H205.1V1229.7H206.1V1227.1H207.1V1227.1H208.1V1232H208.6V1311.6ZM263.9 1311.6V1233.8H264.9V1232.1H265.9V1229H266.9V1222H267.9V1229.2H268.9V1222.6H269.9V1219H270.9V1231.8H271.9V1233.9H272.9V1232.4H273.9V1237.9H274.9V1239.2H275.9V1235.2H276.9V1235.3H277.9V1233.7H278.9V1223.4H279.9V1232.7H280.9V1230.8H281.9V1230.9H282.9V1224H283.9V1232H284.9V1232.6H285.9V1230.5H286.9V1222.5H287.9V1227.4H288.9V1225.7H289.8V1311.6ZM340 1311.6V1228.5H341V1175H342V1147.7H343V1156.8H344V1187.8H345V1202.1H346V1218.2H347V1223.2H348V1227H349V1228.7H350V1211H351V1209.8H352V1207.9H353V1178.9H354V1198.7H355V1217H356V1212H357V1206.2H358V1204.5H359V1208.3H360V1213.3H361V1211.9H362V1213.3H363V1221.1H364V1221.1H364.2V1311.6ZM409.7 1311.6V1249.1H410.7V1245.6H411.7V1246.9H412.7V1243.1H413.7V1228.9H414.7V1228.3H415.7V1231.9H416.7V1228.7H417.7V1236.2H418.7V1230.3H419.7V1228.6H420.7V1230.7H421.7V1232.5H422.7V1234H423.7V1230.7H424.7V1237.6H425.7V1237.3H426.7V1234.2H427.7V1231.3H428.7V1238.1H429V1311.6ZM467.4 1311.6V1238.5H468.4V1238.9H469.4V1228H470.4V1213.8H471.4V1204.6H472.4V1202H473.4V1201.5H474.4V1197.5H475.4V1193.1H476.4V1193.8H477.4V1193.2H478.4V1193.3H479.4V1194.5H480.4V1197.1H481.4V1192.8H482.4V1203.4H483.4V1209.1H484.4V1222H485.4V1226H486.1V1311.6ZM519 1311.6V1244.2H520V1230.1H521V1234H522V1234.6H523V1231.5H524V1228.6H525V1225.4H526V1215H527V1226.6H528V1228.3H529V1225.8H530V1225.1H531V1233.2H532V1233.5H533V1233.1H533.8V1311.6ZM566.3 1311.6V1240.1H567.3V1224.8H568.3V1225.9H569.3V1219.2H570.3V1225.7H571.3V1228.5H572.3V1222.3H573.3V1226.1H574.3V1219.8H575.3V1222.4H576.3V1221.9H577.3V1219H578.3V1222.4H579.3V1218.3H580.3V1221H581V1311.6ZM607 1311.6V1229H608V1248.4H609V1249.1H610V1243H611V1242.8H612V1234.4H613V1234.7H614V1232.1H615V1229.2H616V1229.1H616.9V1311.6ZM638.7 1311.6V1206H639.7V1215H640.7V1214.6H641.7V1215.8H642.7V1218.5H643.7V1219.9H644.7V1218.1H645.7V1214.9H646.7V1218.6H647.7V1228.9H648.7V1229.6H649.7V1231H649.9V1311.6Z" fill="#00008f"/>
<path d="M122.1 1311.6V1234.5H123.1V1234.1H124.1V1231.9H125.1V1229.2H126.1V1220.4H127.1V1218.7H128.1V1225.8H129.1V1226.1H130.1V1215.6H131.1V1222H132.1V1224.3H133.1V1220.2H134.1V1227.6H135.1V1223.3H136.1V1212.9H137.1V1220H138.1V1221.8H139.1V1223.6H140.1V1220.7H141.1V1227.2H142.1V1226.6H143.1V1229.3H144.1V1228.6H145.1V1221.9H146.1V1226.5H147.1V1223.1H148.1V1223.8H149.1V1222.3H150.1V1219.3H151.1V1224.8H152.1V1228.6H152.5V1311.6ZM208.6 1311.6V1231.2H209.6V1222.4H210.6V1232.7H211.6V1234.7H212.6V1237.7H213.6V1237.3H214.6V1240.8H215.6V1238.5H216.6V1232.7H217.6V1238.9H218.6V1240.3H219.6V1242.2H220.6V1240.2H221.6V1239.1H222.6V1230H223.6V1226.5H224.6V1233.3H225.6V1232.1H226.6V1228.9H227.6V1225.5H228.6V1225.6H229.6V1227.3H230.6V1226.4H231.6V1225.8H232.6V1227.5H233.6V1226H234.6V1223.5H235.6V1221.4H236.2V1311.6ZM289.8 1311.6V1230.3H290.8V1232H291.8V1237.1H292.8V1239.8H293.8V1243.8H294.8V1245.6H295.8V1243.8H296.8V1241.4H297.8V1233.1H298.8V1237.9H299.8V1230.1H300.8V1239H301.8V1216.6H302.8V1229H303.8V1231.8H304.8V1230.5H305.8V1226.5H306.8V1230.1H307.8V1229.9H308.8V1219.7H309.8V1234.5H310.8V1229.3H311.8V1235.8H312.8V1234.1H313.8V1236.2H314.8V1242.1H315.8V1243.3H315.8V1311.6ZM364.2 1311.6V1221H365.2V1215.8H366.2V1214.3H367.2V1215.2H368.2V1217.6H369.2V1215.4H370.2V1218.1H371.2V1220.4H372.2V1221.7H373.2V1219.1H374.2V1218.7H375.2V1214.8H376.2V1213.6H377.2V1221.3H378.2V1222.5H379.2V1215.4H380.2V1213.6H381.2V1210.8H382.2V1214.8H383.2V1206.2H384.2V1219.3H385.2V1217.9H386.2V1206.8H387.2V1222.6H388.1V1311.6ZM429 1311.6V1231.7H430V1234H431V1235H432V1238.9H433V1241.7H434V1242.6H435V1243H436V1243.6H437V1229.5H438V1239.7H439V1239H440V1236.8H441V1237.2H442V1230.6H443V1235.5H444V1231.6H445V1236.5H446V1234.8H447V1240.1H447.9V1311.6ZM486.1 1311.6V1233H487.1V1243.3H488.1V1248H489.1V1234.2H490.1V1232.2H491.1V1238.4H492.1V1239.3H493.1V1239.8H494.1V1240.3H495.1V1236.8H496.1V1236.7H497.1V1228.9H498.1V1235.4H499.1V1229H500.1V1242.8H501.1V1238.5H502.1V1241.1H503V1311.6ZM533.8 1311.6V1229.5H534.8V1237.1H535.8V1240.4H536.8V1230H537.8V1233.2H538.8V1241.5H539.8V1244.5H540.8V1246.7H541.8V1249.2H542.8V1249.3H543.8V1240.4H544.8V1237.3H545.8V1232.4H546.8V1202.2H547.8V1214.7H548.8V1204.7H549.8V1210.6H550.7V1311.6ZM581 1311.6V1231H582V1229.8H583V1234H584V1238.1H585V1241.5H586V1241.7H587V1237.8H588V1238.8H589V1235.3H590V1227.7H591V1226.7H592V1236H592.8V1311.6ZM616.9 1311.6V1231.3H617.9V1228.9H618.9V1229H619.9V1226.9H620.9V1229.8H621.9V1229.4H622.9V1231.8H623.9V1232.9H624.9V1231.1H625.9V1222.9H626.9V1226H627.9V1215.9H627.9V1311.6ZM649.9 1311.6V1221.3H650.9V1240.8H651.9V1249.5H652.9V1248.3H653.9V1245H654.9V1243.6H655.9V1237.3H656.9V1236.7H657.9V1233.6H658.9V1232H659.9V1235.2H660.9V1233.3H661.9V1240.5H662.9V1248.1H663.9V1311.6Z" fill="#8e7457"/>
<path d="M152.5 1311.6V1231.8H153.5V1228.1H154.5V1225.1H155.5V1221.2H156.5V1220.6H157.5V1223.7H158.5V1214H159.5V1207.9H160.5V1219.6H161.5V1217.3H162.5V1213.2H163.5V1216.4H164.5V1211.2H165.5V1221.3H166.5V1218.2H167.5V1223.2H168.5V1220.6H169.5V1226.4H170.5V1224.1H171.5V1228.4H172.5V1228.1H173.5V1227.2H174.5V1223.8H175.5V1220.4H176.5V1225.1H177.5V1207.2H178.5V1222.6H179.5V1231.7H180.5V1234H181.1V1311.6ZM236.2 1311.6V1225.1H237.2V1218.3H238.2V1223.2H239.2V1217.5H240.2V1226.3H241.2V1228.2H242.2V1230.8H243.2V1237.1H244.2V1241.4H245.2V1240.6H246.2V1245.1H247.2V1245.7H248.2V1240H249.2V1239H250.2V1237.4H251.2V1232.7H252.2V1230.4H253.2V1229.6H254.2V1224.5H255.2V1229.1H256.2V1226.1H257.2V1231.4H258.2V1232.3H259.2V1225.9H260.2V1235.9H261.2V1235H262.2V1242.1H263.2V1239.5H263.9V1311.6ZM315.8 1311.6V1241.2H316.8V1244H317.8V1237.1H318.8V1231.2H319.8V1229.2H320.8V1231.7H321.8V1219.1H322.8V1233.3H323.8V1233.8H324.8V1231.6H325.8V1229.7H326.8V1242.2H327.8V1242.9H328.8V1240.9H329.8V1248.3H330.8V1243.8H331.8V1231.9H332.8V1234.8H333.8V1238.4H334.8V1235.7H335.8V1234.7H336.8V1230.2H337.8V1233.7H338.8V1226H339.8V1233.1H340V1311.6ZM388.1 1311.6V1228H389.1V1229.3H390.1V1224.2H391.1V1219.4H392.1V1224.7H393.1V1225.4H394.1V1226.8H395.1V1231.7H396.1V1237.8H397.1V1241.1H398.1V1243.8H399.1V1242.4H400.1V1243.9H401.1V1246.5H402.1V1240.1H403.1V1248.8H404.1V1250.9H405.1V1251.1H406.1V1247.4H407.1V1236.1H408.1V1247.4H409.1V1246.6H409.7V1311.6ZM447.9 1311.6V1237H448.9V1218.7H449.9V1219.5H450.9V1223.9H451.9V1225.6H452.9V1224.8H453.9V1231.8H454.9V1231.3H455.9V1233.3H456.9V1236.9H457.9V1225.3H458.9V1242.8H459.9V1238.3H460.9V1249.4H461.9V1247.3H462.9V1248.7H463.9V1245.4H464.9V1241.6H465.9V1225.9H466.9V1245.6H467.4V1311.6ZM503 1311.6V1237.9H504V1229.4H505V1215.7H506V1219.1H507V1214.7H508V1214.4H509V1211.4H510V1216H511V1215H512V1219.3H513V1212.8H514V1216.2H515V1228.4H516V1230.7H517V1235.4H518V1241.9H519V1311.6ZM550.7 1311.6V1230.6H551.7V1239.9H552.7V1236.7H553.7V1231.3H554.7V1232.2H555.7V1220H556.7V1230H557.7V1228.5H558.7V1228.1H559.7V1223.3H560.7V1225.2H561.7V1228.3H562.7V1226.5H563.7V1225.2H564.7V1239H565.7V1236.6H566.3V1311.6ZM592.8 1311.6V1234.7H593.8V1238.2H594.8V1237.4H595.8V1237.6H596.8V1234.3H597.8V1233.1H598.8V1230.4H599.8V1228.8H600.8V1226.1H601.8V1231.1H602.8V1227.4H603.8V1222.2H604.8V1217.8H605.8V1217.5H606.8V1220.6H607V1311.6ZM627.9 1311.6V1214.1H628.9V1229.4H629.9V1221.2H630.9V1225.2H631.9V1224H632.9V1222.3H633.9V1222.2H634.9V1215.8H635.9V1220H636.9V1217.8H637.9V1220.5H638.7V1311.6Z" fill="#008300"/>
<path d="M86.7 1245.4h1.4v1.6h-1.4zM86.9 1249.3h1.4v1.6h-1.4zM90 1245.9h1.4v1.6h-1.4zM91.1 1258.7h1.4v1.6h-1.4zM93.8 1253.4h1.4v1.6h-1.4zM93.9 1240.5h1.4v1.6h-1.4zM94.9 1238.4h1.4v1.6h-1.4zM94.7 1239h1.4v1.6h-1.4zM96.9 1258.8h1.4v1.6h-1.4zM98.8 1241.9h1.4v1.6h-1.4zM100 1256.1h1.4v1.6h-1.4zM99.7 1245.7h1.4v1.6h-1.4zM100.9 1244.2h1.4v1.6h-1.4zM101.9 1236.7h1.4v1.6h-1.4zM103.9 1251.2h1.4v1.6h-1.4zM105.8 1229.7h1.4v1.6h-1.4zM108.6 1249h1.4v1.6h-1.4zM108.6 1232.8h1.4v1.6h-1.4zM110.1 1235.4h1.4v1.6h-1.4zM110.8 1240.7h1.4v1.6h-1.4zM110.6 1244.2h1.4v1.6h-1.4zM111.8 1246.4h1.4v1.6h-1.4zM112.8 1239.5h1.4v1.6h-1.4zM112.8 1240.8h1.4v1.6h-1.4zM113.8 1247.5h1.4v1.6h-1.4zM113.8 1264.2h1.4v1.6h-1.4zM113.9 1254.2h1.4v1.6h-1.4zM114.7 1259.9h1.4v1.6h-1.4zM114.6 1249.3h1.4v1.6h-1.4zM116.1 1250.1h1.4v1.6h-1.4zM116.9 1257.2h1.4v1.6h-1.4zM117.7 1246.1h1.4v1.6h-1.4zM118.6 1236.5h1.4v1.6h-1.4zM118.7 1235.1h1.4v1.6h-1.4zM119.8 1225.4h1.4v1.6h-1.4zM121.6 1234.8h1.4v1.6h-1.4zM123.1 1247.5h1.4v1.6h-1.4zM123.4 1247.3h1.4v1.6h-1.4zM124 1237.8h1.4v1.6h-1.4zM125.1 1246.2h1.4v1.6h-1.4zM125.9 1241.9h1.4v1.6h-1.4zM126.3 1221.7h1.4v1.6h-1.4zM126.4 1237.9h1.4v1.6h-1.4zM126.9 1221.9h1.4v1.6h-1.4zM131.3 1231.6h1.4v1.6h-1.4zM131 1224.6h1.4v1.6h-1.4zM132.3 1246.7h1.4v1.6h-1.4zM131.9 1225.9h1.4v1.6h-1.4zM133.2 1230.4h1.4v1.6h-1.4zM133.2 1227.6h1.4v1.6h-1.4zM136.2 1218.7h1.4v1.6h-1.4zM137.4 1235.9h1.4v1.6h-1.4zM138.3 1226.4h1.4v1.6h-1.4zM140.3 1246.6h1.4v1.6h-1.4zM141.4 1236h1.4v1.6h-1.4zM142.2 1237.7h1.4v1.6h-1.4zM142.3 1238.1h1.4v1.6h-1.4zM143.4 1234.7h1.4v1.6h-1.4zM144.2 1231.9h1.4v1.6h-1.4zM144.4 1237.8h1.4v1.6h-1.4zM146 1239h1.4v1.6h-1.4zM146.3 1247h1.4v1.6h-1.4zM145.9 1229h1.4v1.6h-1.4zM147 1240h1.4v1.6h-1.4zM149.2 1229.5h1.4v1.6h-1.4zM149 1237.5h1.4v1.6h-1.4zM151.1 1236.5h1.4v1.6h-1.4zM152.2 1240.6h1.4v1.6h-1.4zM152.3 1233.6h1.4v1.6h-1.4zM152.3 1239.9h1.4v1.6h-1.4zM154.7 1237.5h1.4v1.6h-1.4zM154.8 1238.8h1.4v1.6h-1.4zM155.6 1229.6h1.4v1.6h-1.4zM155.5 1227.1h1.4v1.6h-1.4zM156.7 1226.9h1.4v1.6h-1.4zM157.6 1231.2h1.4v1.6h-1.4zM159.7 1217.5h1.4v1.6h-1.4zM160.8 1238.2h1.4v1.6h-1.4zM163.8 1237.4h1.4v1.6h-1.4zM164.5 1213h1.4v1.6h-1.4zM165.5 1235h1.4v1.6h-1.4zM165.2 1222.3h1.4v1.6h-1.4zM167.4 1227.6h1.4v1.6h-1.4zM167.3 1233.1h1.4v1.6h-1.4zM167.5 1241.1h1.4v1.6h-1.4zM169.4 1238h1.4v1.6h-1.4zM171.8 1234.8h1.4v1.6h-1.4zM171.4 1233.9h1.4v1.6h-1.4zM172.7 1240.3h1.4v1.6h-1.4zM173.7 1250.2h1.4v1.6h-1.4zM173.5 1237.3h1.4v1.6h-1.4zM176.7 1234.8h1.4v1.6h-1.4zM176.8 1229.5h1.4v1.6h-1.4zM176.4 1242.9h1.4v1.6h-1.4zM177.8 1226.1h1.4v1.6h-1.4zM178.4 1247.2h1.4v1.6h-1.4zM178.7 1231.6h1.4v1.6h-1.4zM179.5 1233.8h1.4v1.6h-1.4zM180.8 1242.4h1.4v1.6h-1.4zM182 1230.1h1.4v1.6h-1.4zM182 1243.2h1.4v1.6h-1.4zM184 1221.8h1.4v1.6h-1.4zM184.3 1227.4h1.4v1.6h-1.4zM186.2 1248.9h1.4v1.6h-1.4zM187.2 1235.7h1.4v1.6h-1.4zM187.2 1230.6h1.4v1.6h-1.4zM188.3 1236.1h1.4v1.6h-1.4zM191 1230.3h1.4v1.6h-1.4zM192.9 1238.1h1.4v1.6h-1.4zM192.9 1232.8h1.4v1.6h-1.4zM194.3 1237.9h1.4v1.6h-1.4zM195.2 1245.7h1.4v1.6h-1.4zM195.9 1251.5h1.4v1.6h-1.4zM199.9 1243.1h1.4v1.6h-1.4zM201.1 1238.5h1.4v1.6h-1.4zM202.1 1252.7h1.4v1.6h-1.4zM204.4 1247.1h1.4v1.6h-1.4zM204.1 1239.6h1.4v1.6h-1.4zM204 1246h1.4v1.6h-1.4zM205.4 1237.7h1.4v1.6h-1.4zM205.3 1235.6h1.4v1.6h-1.4zM206.4 1231.1h1.4v1.6h-1.4zM206.3 1228.9h1.4v1.6h-1.4zM206.2 1243.8h1.4v1.6h-1.4zM206.3 1230.3h1.4v1.6h-1.4zM206.3 1238.2h1.4v1.6h-1.4zM206 1254.8h1.4v1.6h-1.4zM207 1247.4h1.4v1.6h-1.4zM207.1 1229.6h1.4v1.6h-1.4zM207.1 1231.4h1.4v1.6h-1.4zM208.4 1234.3h1.4v1.6h-1.4zM208.9 1233.9h1.4v1.6h-1.4zM208.9 1250.9h1.4v1.6h-1.4zM211.9 1241.9h1.4v1.6h-1.4zM213.5 1247.9h1.4v1.6h-1.4zM213.7 1239.2h1.4v1.6h-1.4zM214.6 1245h1.4v1.6h-1.4zM215.9 1241h1.4v1.6h-1.4zM218.5 1243.3h1.4v1.6h-1.4zM218.7 1253.2h1.4v1.6h-1.4zM222.9 1248.4h1.4v1.6h-1.4zM224.8 1242.2h1.4v1.6h-1.4zM224.7 1242.1h1.4v1.6h-1.4zM226.5 1232.8h1.4v1.6h-1.4zM226.8 1236.7h1.4v1.6h-1.4zM229.5 1244.5h1.4v1.6h-1.4zM229.5 1228.3h1.4v1.6h-1.4zM230.8 1233.1h1.4v1.6h-1.4zM231.7 1239.8h1.4v1.6h-1.4zM234.5 1229.6h1.4v1.6h-1.4zM234.5 1225.8h1.4v1.6h-1.4zM235.9 1223.1h1.4v1.6h-1.4zM238.1 1228.3h1.4v1.6h-1.4zM237.9 1225.1h1.4v1.6h-1.4zM238.1 1244.4h1.4v1.6h-1.4zM239.4 1224h1.4v1.6h-1.4zM239.3 1220.9h1.4v1.6h-1.4zM238.9 1235.5h1.4v1.6h-1.4zM240.2 1240.1h1.4v1.6h-1.4zM241.1 1240.1h1.4v1.6h-1.4zM243.1 1240.2h1.4v1.6h-1.4zM244.1 1247.5h1.4v1.6h-1.4zM244.1 1255.2h1.4v1.6h-1.4zM248.1 1242.8h1.4v1.6h-1.4zM248.4 1246.7h1.4v1.6h-1.4zM252.3 1241.8h1.4v1.6h-1.4zM253 1251.3h1.4v1.6h-1.4zM255.4 1235.8h1.4v1.6h-1.4zM255.3 1234.3h1.4v1.6h-1.4zM256.1 1238.8h1.4v1.6h-1.4zM256.4 1228.7h1.4v1.6h-1.4zM255.9 1235.5h1.4v1.6h-1.4zM258 1241.9h1.4v1.6h-1.4zM259.1 1234.9h1.4v1.6h-1.4zM259.9 1239.2h1.4v1.6h-1.4zM261.4 1238.3h1.4v1.6h-1.4zM262.9 1262.2h1.4v1.6h-1.4zM263.2 1244h1.4v1.6h-1.4zM265 1237.8h1.4v1.6h-1.4zM266.1 1242.5h1.4v1.6h-1.4zM268 1235.1h1.4v1.6h-1.4zM270.1 1227.7h1.4v1.6h-1.4zM271.2 1246h1.4v1.6h-1.4zM270.7 1235.9h1.4v1.6h-1.4zM272.9 1251h1.4v1.6h-1.4zM273.6 1250.4h1.4v1.6h-1.4zM275.6 1263h1.4v1.6h-1.4zM276.9 1252.7h1.4v1.6h-1.4zM276.9 1237.6h1.4v1.6h-1.4zM279 1227.5h1.4v1.6h-1.4zM283.7 1235.2h1.4v1.6h-1.4zM284 1243.5h1.4v1.6h-1.4zM287 1234.1h1.4v1.6h-1.4zM289.2 1231.7h1.4v1.6h-1.4zM288.8 1241.3h1.4v1.6h-1.4zM292.7 1248.3h1.4v1.6h-1.4zM293.7 1248.7h1.4v1.6h-1.4zM293.8 1263.4h1.4v1.6h-1.4zM294.8 1256.1h1.4v1.6h-1.4zM295 1252.8h1.4v1.6h-1.4zM294.8 1260.1h1.4v1.6h-1.4zM296.8 1248h1.4v1.6h-1.4zM296.5 1246.8h1.4v1.6h-1.4zM296.8 1248.2h1.4v1.6h-1.4zM301.6 1219.5h1.4v1.6h-1.4zM304.9 1241.4h1.4v1.6h-1.4zM305.7 1234.1h1.4v1.6h-1.4zM306 1243.9h1.4v1.6h-1.4zM306.8 1236.5h1.4v1.6h-1.4zM311 1248.2h1.4v1.6h-1.4zM311.9 1241.8h1.4v1.6h-1.4zM312.8 1237.1h1.4v1.6h-1.4zM312.7 1250.2h1.4v1.6h-1.4zM314.1 1239h1.4v1.6h-1.4zM314.7 1270.4h1.4v1.6h-1.4zM314.9 1254.6h1.4v1.6h-1.4zM315.8 1242.7h1.4v1.6h-1.4zM315.9 1247.4h1.4v1.6h-1.4zM317 1257.2h1.4v1.6h-1.4zM317.8 1245h1.4v1.6h-1.4zM318.7 1239.3h1.4v1.6h-1.4zM320.6 1238.2h1.4v1.6h-1.4zM326.1 1246.2h1.4v1.6h-1.4zM329 1242.5h1.4v1.6h-1.4zM328.9 1249.2h1.4v1.6h-1.4zM330 1260.4h1.4v1.6h-1.4zM329.6 1252.8h1.4v1.6h-1.4zM332.5 1247.6h1.4v1.6h-1.4zM332.9 1237.9h1.4v1.6h-1.4zM333.8 1239.7h1.4v1.6h-1.4zM335.6 1245.7h1.4v1.6h-1.4zM337.8 1249.7h1.4v1.6h-1.4zM338.8 1237h1.4v1.6h-1.4zM338.9 1235.1h1.4v1.6h-1.4zM338.7 1235.9h1.4v1.6h-1.4zM339.8 1249.6h1.4v1.6h-1.4zM339.8 1243.9h1.4v1.6h-1.4zM341 1177.4h1.4v1.6h-1.4zM340.9 1187.1h1.4v1.6h-1.4zM341 1190.9h1.4v1.6h-1.4zM342 1150.1h1.4v1.6h-1.4zM342.1 1155.2h1.4v1.6h-1.4zM342.3 1150.1h1.4v1.6h-1.4zM343.9 1192.9h1.4v1.6h-1.4zM344.1 1198.5h1.4v1.6h-1.4zM344.1 1188.9h1.4v1.6h-1.4zM344 1202.4h1.4v1.6h-1.4zM346 1227.8h1.4v1.6h-1.4zM345.7 1220.7h1.4v1.6h-1.4zM345.8 1219.5h1.4v1.6h-1.4zM346.9 1244.8h1.4v1.6h-1.4zM348.2 1233.9h1.4v1.6h-1.4zM348.2 1233.8h1.4v1.6h-1.4zM347.8 1231h1.4v1.6h-1.4zM347.8 1229.7h1.4v1.6h-1.4zM347.8 1236.1h1.4v1.6h-1.4zM350.1 1216.3h1.4v1.6h-1.4zM351.3 1232.3h1.4v1.6h-1.4zM352.9 1184.2h1.4v1.6h-1.4zM353 1186.2h1.4v1.6h-1.4zM353.2 1183.5h1.4v1.6h-1.4zM355.2 1222.8h1.4v1.6h-1.4zM355.3 1226.4h1.4v1.6h-1.4zM355 1218.2h1.4v1.6h-1.4zM354.8 1231.2h1.4v1.6h-1.4zM355.3 1222.1h1.4v1.6h-1.4zM356.9 1232h1.4v1.6h-1.4zM358.8 1224.7h1.4v1.6h-1.4zM360.2 1216.3h1.4v1.6h-1.4zM360.3 1237h1.4v1.6h-1.4zM360.8 1218.3h1.4v1.6h-1.4zM361.9 1214.5h1.4v1.6h-1.4zM363.2 1230.1h1.4v1.6h-1.4zM362.9 1225.6h1.4v1.6h-1.4zM365.4 1233.7h1.4v1.6h-1.4zM366.2 1221.5h1.4v1.6h-1.4zM367.4 1227.5h1.4v1.6h-1.4zM368.1 1221h1.4v1.6h-1.4zM372.4 1231.6h1.4v1.6h-1.4zM374.2 1231.7h1.4v1.6h-1.4zM375.1 1224.3h1.4v1.6h-1.4zM374.9 1242.8h1.4v1.6h-1.4zM376.1 1226.7h1.4v1.6h-1.4zM376 1224.7h1.4v1.6h-1.4zM378.2 1226.7h1.4v1.6h-1.4zM379.3 1223.9h1.4v1.6h-1.4zM380.9 1216.9h1.4v1.6h-1.4zM381 1224.7h1.4v1.6h-1.4zM382.4 1229.1h1.4v1.6h-1.4zM383.4 1220.9h1.4v1.6h-1.4zM383.1 1216.4h1.4v1.6h-1.4zM383.2 1207.2h1.4v1.6h-1.4zM384 1231.2h1.4v1.6h-1.4zM383.9 1237.2h1.4v1.6h-1.4zM385 1229.6h1.4v1.6h-1.4zM385.1 1232.9h1.4v1.6h-1.4zM386.3 1219.5h1.4v1.6h-1.4zM386.2 1210.3h1.4v1.6h-1.4zM386 1232.5h1.4v1.6h-1.4zM386.9 1237.1h1.4v1.6h-1.4zM388.1 1230.4h1.4v1.6h-1.4zM388.1 1243.3h1.4v1.6h-1.4zM390.1 1244.5h1.4v1.6h-1.4zM390.9 1222.9h1.4v1.6h-1.4zM390.8 1233.3h1.4v1.6h-1.4zM392.3 1234.1h1.4v1.6h-1.4zM392.9 1226.5h1.4v1.6h-1.4zM396.2 1240.8h1.4v1.6h-1.4zM397.3 1244.9h1.4v1.6h-1.4zM398.4 1256.3h1.4v1.6h-1.4zM401.2 1253.8h1.4v1.6h-1.4zM400.9 1262.4h1.4v1.6h-1.4zM401.9 1242.2h1.4v1.6h-1.4zM402 1254.3h1.4v1.6h-1.4zM403 1259.4h1.4v1.6h-1.4zM403.1 1251.6h1.4v1.6h-1.4zM403.3 1251.5h1.4v1.6h-1.4zM403.8 1261.6h1.4v1.6h-1.4zM405.3 1255.6h1.4v1.6h-1.4zM405.9 1251.7h1.4v1.6h-1.4zM406.3 1251h1.4v1.6h-1.4zM407 1242.1h1.4v1.6h-1.4zM407.2 1239.2h1.4v1.6h-1.4zM409.1 1267.6h1.4v1.6h-1.4zM411.4 1251.6h1.4v1.6h-1.4zM411.4 1248.9h1.4v1.6h-1.4zM412.4 1252.7h1.4v1.6h-1.4zM413.6 1246.5h1.4v1.6h-1.4zM413.9 1245.5h1.4v1.6h-1.4zM417.5 1249.4h1.4v1.6h-1.4zM417.5 1238.8h1.4v1.6h-1.4zM418.7 1236.5h1.4v1.6h-1.4zM419.8 1236h1.4v1.6h-1.4zM419.8 1238.2h1.4v1.6h-1.4zM420.7 1256.9h1.4v1.6h-1.4zM421.8 1241.1h1.4v1.6h-1.4zM421.5 1233.7h1.4v1.6h-1.4zM423.9 1241.6h1.4v1.6h-1.4zM425.7 1241.8h1.4v1.6h-1.4zM427.4 1237.6h1.4v1.6h-1.4zM428.7 1243.8h1.4v1.6h-1.4zM429.1 1239h1.4v1.6h-1.4zM429.9 1235.2h1.4v1.6h-1.4zM430.7 1237h1.4v1.6h-1.4zM431 1246.5h1.4v1.6h-1.4zM432 1245.2h1.4v1.6h-1.4zM434.8 1250.2h1.4v1.6h-1.4zM435.8 1254.8h1.4v1.6h-1.4zM437 1246.8h1.4v1.6h-1.4zM438 1255.2h1.4v1.6h-1.4zM439.9 1242.3h1.4v1.6h-1.4zM441.8 1249.7h1.4v1.6h-1.4zM443 1260h1.4v1.6h-1.4zM446 1257.9h1.4v1.6h-1.4zM448.9 1240.8h1.4v1.6h-1.4zM449.1 1222.6h1.4v1.6h-1.4zM449.6 1234.5h1.4v1.6h-1.4zM450.8 1241.8h1.4v1.6h-1.4zM451.9 1237.5h1.4v1.6h-1.4zM452.9 1230.8h1.4v1.6h-1.4zM453.9 1238.2h1.4v1.6h-1.4zM454.1 1256.2h1.4v1.6h-1.4zM454 1236.3h1.4v1.6h-1.4zM454.8 1244.9h1.4v1.6h-1.4zM455.8 1244.6h1.4v1.6h-1.4zM456.2 1237.9h1.4v1.6h-1.4zM457.7 1231.7h1.4v1.6h-1.4zM458.1 1234.2h1.4v1.6h-1.4zM458.9 1251.7h1.4v1.6h-1.4zM458.8 1254.5h1.4v1.6h-1.4zM461.6 1270.8h1.4v1.6h-1.4zM463.1 1253h1.4v1.6h-1.4zM463.9 1248.4h1.4v1.6h-1.4zM463.7 1259.8h1.4v1.6h-1.4zM464.8 1260h1.4v1.6h-1.4zM466.2 1229.6h1.4v1.6h-1.4zM465.8 1229.8h1.4v1.6h-1.4zM466.1 1230.9h1.4v1.6h-1.4zM466.7 1250.8h1.4v1.6h-1.4zM466.9 1266.3h1.4v1.6h-1.4zM467.6 1255.4h1.4v1.6h-1.4zM467.5 1244.2h1.4v1.6h-1.4zM469.6 1238.9h1.4v1.6h-1.4zM470.2 1227.2h1.4v1.6h-1.4zM471.2 1208.8h1.4v1.6h-1.4zM472.1 1222h1.4v1.6h-1.4zM476.5 1204.3h1.4v1.6h-1.4zM478.4 1194.8h1.4v1.6h-1.4zM478.4 1209.9h1.4v1.6h-1.4zM478.1 1217.4h1.4v1.6h-1.4zM478.4 1198.1h1.4v1.6h-1.4zM479.3 1221.3h1.4v1.6h-1.4zM480.4 1209.1h1.4v1.6h-1.4zM481.2 1195.4h1.4v1.6h-1.4zM482.1 1206.1h1.4v1.6h-1.4zM482.4 1218.4h1.4v1.6h-1.4zM485.2 1227h1.4v1.6h-1.4zM487 1253.5h1.4v1.6h-1.4zM493 1242.8h1.4v1.6h-1.4zM494.1 1244.1h1.4v1.6h-1.4zM494.9 1259.6h1.4v1.6h-1.4zM495.2 1238.2h1.4v1.6h-1.4zM495.3 1239.6h1.4v1.6h-1.4zM498.2 1240.2h1.4v1.6h-1.4zM500.3 1248.6h1.4v1.6h-1.4zM500 1264.1h1.4v1.6h-1.4zM500.9 1256h1.4v1.6h-1.4zM501.8 1257.5h1.4v1.6h-1.4zM502 1242.2h1.4v1.6h-1.4zM502 1264.4h1.4v1.6h-1.4zM503.3 1246.5h1.4v1.6h-1.4zM502.9 1266.3h1.4v1.6h-1.4zM502.8 1241.5h1.4v1.6h-1.4zM504.2 1234.4h1.4v1.6h-1.4zM504.7 1219.9h1.4v1.6h-1.4zM506.1 1223.3h1.4v1.6h-1.4zM506 1221.5h1.4v1.6h-1.4zM508.1 1233.4h1.4v1.6h-1.4zM509 1235.7h1.4v1.6h-1.4zM508.8 1217h1.4v1.6h-1.4zM510.2 1220.6h1.4v1.6h-1.4zM510.2 1229.5h1.4v1.6h-1.4zM511.1 1222.7h1.4v1.6h-1.4zM512.1 1234.7h1.4v1.6h-1.4zM512.7 1240.2h1.4v1.6h-1.4zM512.7 1219.1h1.4v1.6h-1.4zM515.1 1231.6h1.4v1.6h-1.4zM515.1 1244.4h1.4v1.6h-1.4zM514.7 1242.5h1.4v1.6h-1.4zM516.1 1238.4h1.4v1.6h-1.4zM517.8 1269.3h1.4v1.6h-1.4zM519.1 1262.7h1.4v1.6h-1.4zM519.9 1241.8h1.4v1.6h-1.4zM520.2 1251.9h1.4v1.6h-1.4zM521.9 1246.1h1.4v1.6h-1.4zM522 1238h1.4v1.6h-1.4zM524.1 1235.5h1.4v1.6h-1.4zM523.9 1236.6h1.4v1.6h-1.4zM528.3 1236.1h1.4v1.6h-1.4zM528.2 1252.9h1.4v1.6h-1.4zM530.2 1234.9h1.4v1.6h-1.4zM530.2 1235h1.4v1.6h-1.4zM537.9 1250.7h1.4v1.6h-1.4zM538.6 1246.3h1.4v1.6h-1.4zM540.9 1249.6h1.4v1.6h-1.4zM541.9 1266.1h1.4v1.6h-1.4zM543.8 1252h1.4v1.6h-1.4zM548.7 1210.6h1.4v1.6h-1.4zM548.9 1214.6h1.4v1.6h-1.4zM550.1 1224.8h1.4v1.6h-1.4zM549.5 1212.7h1.4v1.6h-1.4zM549.9 1216.2h1.4v1.6h-1.4zM550.8 1243.4h1.4v1.6h-1.4zM553.8 1242.9h1.4v1.6h-1.4zM553.7 1237.1h1.4v1.6h-1.4zM555.7 1232.1h1.4v1.6h-1.4zM556.4 1243.6h1.4v1.6h-1.4zM556.6 1231.9h1.4v1.6h-1.4zM557.4 1232.7h1.4v1.6h-1.4zM557.5 1231.5h1.4v1.6h-1.4zM558.8 1243h1.4v1.6h-1.4zM560.5 1234.7h1.4v1.6h-1.4zM560.5 1227.9h1.4v1.6h-1.4zM563.5 1233.6h1.4v1.6h-1.4zM564.8 1242.2h1.4v1.6h-1.4zM564.9 1247.6h1.4v1.6h-1.4zM565 1245h1.4v1.6h-1.4zM565.5 1252.5h1.4v1.6h-1.4zM566 1247.7h1.4v1.6h-1.4zM567.3 1231.4h1.4v1.6h-1.4zM568.1 1253.1h1.4v1.6h-1.4zM569.5 1224.7h1.4v1.6h-1.4zM571.1 1229.5h1.4v1.6h-1.4zM573.2 1254.1h1.4v1.6h-1.4zM573.1 1228h1.4v1.6h-1.4zM574 1221.5h1.4v1.6h-1.4zM574.1 1223.2h1.4v1.6h-1.4zM575.5 1240h1.4v1.6h-1.4zM576.1 1223.4h1.4v1.6h-1.4zM576.2 1229.4h1.4v1.6h-1.4zM576.1 1234.9h1.4v1.6h-1.4zM580.2 1224h1.4v1.6h-1.4zM580.7 1236h1.4v1.6h-1.4zM581.1 1234.1h1.4v1.6h-1.4zM582.8 1241.8h1.4v1.6h-1.4zM583 1241.9h1.4v1.6h-1.4zM582.8 1239.4h1.4v1.6h-1.4zM583.9 1239.2h1.4v1.6h-1.4zM583.9 1241.2h1.4v1.6h-1.4zM586 1266.2h1.4v1.6h-1.4zM585.9 1248.5h1.4v1.6h-1.4zM585.9 1257.1h1.4v1.6h-1.4zM588.1 1243h1.4v1.6h-1.4zM589.2 1253.6h1.4v1.6h-1.4zM589.1 1236.9h1.4v1.6h-1.4zM591.8 1239.8h1.4v1.6h-1.4zM595.8 1242.3h1.4v1.6h-1.4zM595.8 1240.7h1.4v1.6h-1.4zM596.6 1243.3h1.4v1.6h-1.4zM599 1238.3h1.4v1.6h-1.4zM599.9 1230.9h1.4v1.6h-1.4zM600.6 1253.1h1.4v1.6h-1.4zM601 1231.8h1.4v1.6h-1.4zM603.7 1230.4h1.4v1.6h-1.4zM603.6 1225.8h1.4v1.6h-1.4zM603.7 1246.4h1.4v1.6h-1.4zM604.9 1225.2h1.4v1.6h-1.4zM605 1227.5h1.4v1.6h-1.4zM606 1219.9h1.4v1.6h-1.4zM607.1 1236.8h1.4v1.6h-1.4zM608.9 1267.2h1.4v1.6h-1.4zM614.2 1250.3h1.4v1.6h-1.4zM614.2 1233.2h1.4v1.6h-1.4zM615 1231.2h1.4v1.6h-1.4zM616.2 1248.6h1.4v1.6h-1.4zM615.9 1230.9h1.4v1.6h-1.4zM617.1 1242.9h1.4v1.6h-1.4zM618.1 1233.9h1.4v1.6h-1.4zM618.8 1234.3h1.4v1.6h-1.4zM621 1240.5h1.4v1.6h-1.4zM621.2 1237.3h1.4v1.6h-1.4zM620.7 1236.9h1.4v1.6h-1.4zM620.9 1252.8h1.4v1.6h-1.4zM620.7 1240.7h1.4v1.6h-1.4zM621.6 1234h1.4v1.6h-1.4zM622.2 1245h1.4v1.6h-1.4zM623.1 1247.3h1.4v1.6h-1.4zM622.9 1233.6h1.4v1.6h-1.4zM622.8 1237.2h1.4v1.6h-1.4zM622.8 1251.8h1.4v1.6h-1.4zM623.8 1243.8h1.4v1.6h-1.4zM624.9 1235.4h1.4v1.6h-1.4zM628.2 1239.2h1.4v1.6h-1.4zM627.7 1223.8h1.4v1.6h-1.4zM628.9 1238.6h1.4v1.6h-1.4zM630.2 1229.5h1.4v1.6h-1.4zM632.1 1245.7h1.4v1.6h-1.4zM633.2 1230.4h1.4v1.6h-1.4zM634.9 1239h1.4v1.6h-1.4zM637.9 1224.1h1.4v1.6h-1.4zM637.8 1241.8h1.4v1.6h-1.4zM638.1 1246.8h1.4v1.6h-1.4zM640.9 1220.7h1.4v1.6h-1.4zM640.6 1216.4h1.4v1.6h-1.4zM640.8 1225.3h1.4v1.6h-1.4zM641.9 1231h1.4v1.6h-1.4zM641.6 1217.3h1.4v1.6h-1.4zM642.8 1219.6h1.4v1.6h-1.4zM644.5 1220.3h1.4v1.6h-1.4zM645.4 1228.1h1.4v1.6h-1.4zM646.7 1237.9h1.4v1.6h-1.4zM647.9 1244h1.4v1.6h-1.4zM647.4 1231.8h1.4v1.6h-1.4zM648.7 1240.8h1.4v1.6h-1.4zM648.5 1234.8h1.4v1.6h-1.4zM649.8 1255.6h1.4v1.6h-1.4zM649.9 1237.1h1.4v1.6h-1.4zM651 1249.3h1.4v1.6h-1.4zM651.8 1260.4h1.4v1.6h-1.4zM651.9 1258.7h1.4v1.6h-1.4zM652.9 1253.6h1.4v1.6h-1.4zM653.6 1260.1h1.4v1.6h-1.4zM656.8 1244.1h1.4v1.6h-1.4zM657.7 1250.8h1.4v1.6h-1.4zM658 1235.6h1.4v1.6h-1.4zM659.1 1237h1.4v1.6h-1.4zM659.2 1248.7h1.4v1.6h-1.4zM660 1238h1.4v1.6h-1.4zM661.1 1240.2h1.4v1.6h-1.4zM661.7 1242.3h1.4v1.6h-1.4zM662 1248.4h1.4v1.6h-1.4zM662.8 1250.3h1.4v1.6h-1.4zM662.9 1256.1h1.4v1.6h-1.4z" fill="#fff"/>
<path d="M85.9 1220.1h2v2h-2zM86.5 1222.4h2v2h-2zM87.1 1227.5h2v2h-2zM86.4 1222.5h2v2h-2zM88.1 1212.4h2v2h-2zM88.7 1229.1h2v2h-2zM88.3 1231.1h2v2h-2zM89.3 1227.6h2v2h-2zM91.2 1238.6h2v2h-2zM90.6 1229.1h2v2h-2zM90.5 1225.6h2v2h-2zM91.1 1232h2v2h-2zM90.8 1227.5h2v2h-2zM91.7 1229.9h2v2h-2zM91.8 1232.5h2v2h-2zM93 1227.5h2v2h-2zM92.9 1219.8h2v2h-2zM92.2 1229.5h2v2h-2zM94.1 1228.6h2v2h-2zM95.2 1224.1h2v2h-2zM94.5 1211.6h2v2h-2zM95.8 1209.2h2v2h-2zM96.7 1228.3h2v2h-2zM96.3 1230.1h2v2h-2zM97.6 1229.4h2v2h-2zM98.1 1215.9h2v2h-2zM98.2 1204.3h2v2h-2zM98.9 1237.9h2v2h-2zM98.7 1234.1h2v2h-2zM100.4 1225.1h2v2h-2zM100.1 1228.4h2v2h-2zM99.7 1232.3h2v2h-2zM100.4 1227.8h2v2h-2zM100.2 1230.2h2v2h-2zM101.3 1210.6h2v2h-2zM101.3 1218.8h2v2h-2zM101.3 1222.4h2v2h-2zM101.9 1207.9h2v2h-2zM102.9 1216.8h2v2h-2zM104.7 1216.8h2v2h-2zM104.3 1222.1h2v2h-2zM105.2 1218.4h2v2h-2zM105.1 1206.5h2v2h-2zM105.5 1214.4h2v2h-2zM105.2 1202.5h2v2h-2zM107.2 1218.7h2v2h-2zM106.5 1219h2v2h-2zM108 1200.8h2v2h-2zM107.4 1212.3h2v2h-2zM108.7 1225.1h2v2h-2zM109.3 1217.3h2v2h-2zM109.3 1191.4h2v2h-2zM109.2 1206h2v2h-2zM111.2 1229.6h2v2h-2zM111.2 1225.8h2v2h-2zM111.5 1219.1h2v2h-2zM111.4 1227.9h2v2h-2zM113.3 1218.5h2v2h-2zM113.6 1227.1h2v2h-2zM114.5 1243.6h2v2h-2zM115.3 1240.1h2v2h-2zM115.6 1235h2v2h-2zM117.8 1229.4h2v2h-2zM117.3 1228h2v2h-2zM117.3 1232.2h2v2h-2zM120.1 1218h2v2h-2zM120.2 1219.8h2v2h-2zM120.3 1212.3h2v2h-2zM119.7 1203.5h2v2h-2zM120.5 1203.7h2v2h-2zM180.9 1225.6h2v2h-2zM181.9 1210.2h2v2h-2zM183.3 1197h2v2h-2zM184.3 1206.9h2v2h-2zM184 1211.2h2v2h-2zM184.5 1218h2v2h-2zM184 1197.3h2v2h-2zM185.5 1221.4h2v2h-2zM185.2 1199.3h2v2h-2zM186.3 1210.2h2v2h-2zM185.8 1194.4h2v2h-2zM185.8 1213.5h2v2h-2zM185.8 1220.5h2v2h-2zM187.5 1220.4h2v2h-2zM188.3 1209.5h2v2h-2zM188.5 1208.7h2v2h-2zM189.1 1213.8h2v2h-2zM189 1223.2h2v2h-2zM189.3 1220.6h2v2h-2zM190.2 1224.6h2v2h-2zM190.8 1213.4h2v2h-2zM192.3 1221.6h2v2h-2zM192.2 1223.8h2v2h-2zM193.5 1227.8h2v2h-2zM194.5 1203.9h2v2h-2zM194.7 1233h2v2h-2zM194.5 1229.7h2v2h-2zM196.1 1235.6h2v2h-2zM197 1225.5h2v2h-2zM196.7 1225.2h2v2h-2zM197.1 1210.4h2v2h-2zM198 1233.3h2v2h-2zM198.2 1229.4h2v2h-2zM198.2 1220.2h2v2h-2zM199.7 1226.3h2v2h-2zM200.7 1213.9h2v2h-2zM201.5 1226.2h2v2h-2zM201.6 1216.6h2v2h-2zM203.2 1229.1h2v2h-2zM203 1215.7h2v2h-2zM203.7 1223.7h2v2h-2zM204.7 1218.9h2v2h-2zM204.7 1225.8h2v2h-2zM206.5 1210.4h2v2h-2zM205.7 1224.6h2v2h-2zM206.1 1221.9h2v2h-2zM205.8 1223h2v2h-2zM206.9 1212.5h2v2h-2zM208.6 1229.9h2v2h-2zM208.7 1230.1h2v2h-2zM208.3 1215.8h2v2h-2zM264.1 1226h2v2h-2zM265.3 1228h2v2h-2zM266.1 1224.8h2v2h-2zM266.5 1207.6h2v2h-2zM267.2 1201.7h2v2h-2zM267.9 1220.1h2v2h-2zM268.3 1226h2v2h-2zM268.4 1207.5h2v2h-2zM268.4 1221.1h2v2h-2zM270.4 1199.4h2v2h-2zM271.3 1209.1h2v2h-2zM272.1 1199.2h2v2h-2zM272.3 1222h2v2h-2zM271.8 1215.6h2v2h-2zM273.3 1215.4h2v2h-2zM274.4 1227.4h2v2h-2zM274.3 1237.5h2v2h-2zM275.3 1231h2v2h-2zM276.4 1210.3h2v2h-2zM275.4 1223h2v2h-2zM276.4 1219.3h2v2h-2zM276 1231.3h2v2h-2zM278.2 1204.6h2v2h-2zM278 1220.9h2v2h-2zM279.1 1208.1h2v2h-2zM280 1229.1h2v2h-2zM280 1230.1h2v2h-2zM280.5 1226.1h2v2h-2zM281.1 1226.7h2v2h-2zM282 1227.9h2v2h-2zM281.5 1219.2h2v2h-2zM282.9 1202.4h2v2h-2zM282.5 1218.1h2v2h-2zM283.6 1229.5h2v2h-2zM284 1228.2h2v2h-2zM285.1 1220.6h2v2h-2zM285.1 1217h2v2h-2zM285.3 1228.8h2v2h-2zM284.6 1230.5h2v2h-2zM286.5 1228.8h2v2h-2zM286.9 1203.9h2v2h-2zM286.8 1216.3h2v2h-2zM287.3 1205.2h2v2h-2zM288.3 1197h2v2h-2zM288.8 1223.5h2v2h-2zM288.4 1213.8h2v2h-2zM289.3 1204.8h2v2h-2zM288.4 1212.7h2v2h-2zM339.5 1219.1h2v2h-2zM342.6 1139.7h2v2h-2zM342.2 1140.2h2v2h-2zM342.6 1140.4h2v2h-2zM343.2 1149.8h2v2h-2zM344.4 1162.6h2v2h-2zM344.6 1158.2h2v2h-2zM344.8 1188.5h2v2h-2zM345.1 1186.1h2v2h-2zM345.7 1211.4h2v2h-2zM345.5 1215.9h2v2h-2zM346.4 1214.4h2v2h-2zM347.2 1197.9h2v2h-2zM346.8 1208.5h2v2h-2zM348.2 1209.3h2v2h-2zM348.6 1211.1h2v2h-2zM348.8 1214.4h2v2h-2zM350.5 1176.5h2v2h-2zM349.7 1203.7h2v2h-2zM349.8 1180.6h2v2h-2zM353.6 1167.9h2v2h-2zM353.5 1182.8h2v2h-2zM354.1 1197h2v2h-2zM353.7 1194.9h2v2h-2zM353.7 1190.8h2v2h-2zM354.8 1206.3h2v2h-2zM356.1 1209.8h2v2h-2zM355.7 1197.2h2v2h-2zM356 1208.8h2v2h-2zM356.6 1190.2h2v2h-2zM356.8 1194.9h2v2h-2zM358.2 1197.6h2v2h-2zM357.8 1189.5h2v2h-2zM358.4 1176.7h2v2h-2zM358.6 1206.6h2v2h-2zM358.6 1194.4h2v2h-2zM359.1 1187.2h2v2h-2zM360.2 1178.7h2v2h-2zM361.3 1199.7h2v2h-2zM361.5 1198.3h2v2h-2zM361.1 1178.8h2v2h-2zM362.4 1191.4h2v2h-2zM361.7 1197.7h2v2h-2zM363.1 1196.2h2v2h-2zM363.9 1214.4h2v2h-2zM409.7 1247.6h2v2h-2zM410.6 1230.9h2v2h-2zM411.5 1215h2v2h-2zM411.3 1236.4h2v2h-2zM411.6 1242.5h2v2h-2zM412.6 1238h2v2h-2zM412.9 1236.1h2v2h-2zM413 1235h2v2h-2zM412.2 1212.8h2v2h-2zM412.2 1224.7h2v2h-2zM413.2 1201.4h2v2h-2zM415 1214.4h2v2h-2zM415.5 1208.2h2v2h-2zM415.4 1227.2h2v2h-2zM416.4 1221.3h2v2h-2zM418.5 1202.8h2v2h-2zM418.9 1227h2v2h-2zM418.3 1227.3h2v2h-2zM418.4 1223.4h2v2h-2zM419.9 1220.1h2v2h-2zM421.5 1217.4h2v2h-2zM421.6 1224h2v2h-2zM423.1 1209.3h2v2h-2zM422.8 1214h2v2h-2zM424.2 1227.4h2v2h-2zM423.7 1221.1h2v2h-2zM423.7 1205.6h2v2h-2zM424.9 1235.3h2v2h-2zM425.9 1221.6h2v2h-2zM426.4 1229.5h2v2h-2zM426.4 1229.7h2v2h-2zM428.2 1225.3h2v2h-2zM428.1 1207.3h2v2h-2zM429 1232.5h2v2h-2zM467.6 1235.4h2v2h-2zM468.8 1236.5h2v2h-2zM469.9 1199.2h2v2h-2zM470.2 1194.7h2v2h-2zM470.8 1210.5h2v2h-2zM470.9 1200.8h2v2h-2zM472.5 1190.7h2v2h-2zM472.2 1188.7h2v2h-2zM472.5 1199.2h2v2h-2zM472.9 1199.6h2v2h-2zM473.6 1195.8h2v2h-2zM475.6 1160.4h2v2h-2zM476.2 1192.3h2v2h-2zM477.5 1177.7h2v2h-2zM477.4 1174.4h2v2h-2zM477 1181.7h2v2h-2zM478.3 1182.1h2v2h-2zM478.1 1186.2h2v2h-2zM477.8 1180.9h2v2h-2zM478.7 1188h2v2h-2zM479.6 1185h2v2h-2zM479.4 1192.6h2v2h-2zM479.9 1194.1h2v2h-2zM480.2 1178.2h2v2h-2zM480.3 1186.2h2v2h-2zM479.9 1174.9h2v2h-2zM480.9 1190.5h2v2h-2zM481.6 1190.3h2v2h-2zM481.8 1189.7h2v2h-2zM481.9 1191.8h2v2h-2zM482.2 1198.1h2v2h-2zM484.3 1220.2h2v2h-2zM484.2 1218.3h2v2h-2zM485.8 1207.8h2v2h-2zM485.3 1219.4h2v2h-2zM518.8 1239.5h2v2h-2zM519.2 1241.8h2v2h-2zM520.3 1213.9h2v2h-2zM520.5 1223.2h2v2h-2zM521 1232h2v2h-2zM521.3 1228.2h2v2h-2zM522.5 1217.1h2v2h-2zM525 1223.1h2v2h-2zM524.6 1221.3h2v2h-2zM524.5 1210.3h2v2h-2zM525.4 1199.6h2v2h-2zM526 1208.8h2v2h-2zM525.9 1208.3h2v2h-2zM525.7 1204.1h2v2h-2zM526.9 1206.3h2v2h-2zM527.4 1222.5h2v2h-2zM527.6 1226.1h2v2h-2zM529.2 1215.5h2v2h-2zM529.5 1217.9h2v2h-2zM530.5 1231h2v2h-2zM530.7 1216.5h2v2h-2zM532.2 1227.3h2v2h-2zM532.4 1206.5h2v2h-2zM533.5 1213.6h2v2h-2zM565.7 1234.9h2v2h-2zM566.2 1237.2h2v2h-2zM568.3 1220.1h2v2h-2zM568.9 1217.9h2v2h-2zM568.7 1189.8h2v2h-2zM569.1 1207.3h2v2h-2zM570.5 1208.1h2v2h-2zM570 1211.2h2v2h-2zM570.5 1219.6h2v2h-2zM570.7 1210.5h2v2h-2zM569.7 1222.2h2v2h-2zM570.2 1211.9h2v2h-2zM571.9 1216.2h2v2h-2zM572.2 1219.7h2v2h-2zM572 1217.6h2v2h-2zM573 1214.6h2v2h-2zM573.8 1218.1h2v2h-2zM573.9 1222.6h2v2h-2zM572.7 1218.7h2v2h-2zM574.8 1217.9h2v2h-2zM574.7 1214.9h2v2h-2zM575.7 1218.1h2v2h-2zM575.1 1219.2h2v2h-2zM575 1219.8h2v2h-2zM575.3 1213.5h2v2h-2zM575.6 1212.9h2v2h-2zM576.3 1199.6h2v2h-2zM576.8 1212.3h2v2h-2zM578.8 1216.5h2v2h-2zM579.2 1186.9h2v2h-2zM579.5 1214.5h2v2h-2zM580.8 1214.4h2v2h-2zM606.8 1212.8h2v2h-2zM606.6 1204.9h2v2h-2zM607.4 1246.5h2v2h-2zM608.1 1234.8h2v2h-2zM609 1225.9h2v2h-2zM609.6 1247.2h2v2h-2zM609.6 1247h2v2h-2zM609.8 1234.8h2v2h-2zM609.8 1233.3h2v2h-2zM610.3 1233.3h2v2h-2zM609.6 1240.2h2v2h-2zM610.6 1233.7h2v2h-2zM611.1 1226h2v2h-2zM611.4 1232.6h2v2h-2zM612 1231.8h2v2h-2zM613.3 1225.2h2v2h-2zM613.4 1224.4h2v2h-2zM613.6 1216.2h2v2h-2zM616.5 1219.6h2v2h-2zM616.2 1198.7h2v2h-2zM638.4 1204.5h2v2h-2zM638.3 1198.1h2v2h-2zM639.7 1179.1h2v2h-2zM641.1 1208.1h2v2h-2zM641 1208.8h2v2h-2zM640.4 1194.8h2v2h-2zM640.6 1197.2h2v2h-2zM641.3 1211.1h2v2h-2zM641.3 1203.5h2v2h-2zM642.2 1200.9h2v2h-2zM644.3 1214.7h2v2h-2zM644.7 1208.9h2v2h-2zM645.5 1210.2h2v2h-2zM646.1 1206.3h2v2h-2zM646.9 1212.1h2v2h-2zM647.1 1226.4h2v2h-2zM648.2 1208.3h2v2h-2zM649.2 1228h2v2h-2zM648.4 1223.4h2v2h-2zM648.8 1215h2v2h-2zM649.4 1222.8h2v2h-2zM649.6 1221.6h2v2h-2z" fill="#00008f"/>
<path d="M123 1230.5h2v2h-2zM123.1 1211.8h2v2h-2zM123.9 1223.2h2v2h-2zM125.1 1226.2h2v2h-2zM125.1 1219.3h2v2h-2zM125.7 1195.6h2v2h-2zM125.9 1215.9h2v2h-2zM127.3 1208.2h2v2h-2zM127.4 1195.9h2v2h-2zM126.6 1203.7h2v2h-2zM127.8 1216.9h2v2h-2zM128.7 1218.7h2v2h-2zM128.5 1214.9h2v2h-2zM128.3 1204.2h2v2h-2zM129.6 1209.4h2v2h-2zM130.4 1194.9h2v2h-2zM129.7 1214h2v2h-2zM131.2 1211.7h2v2h-2zM130.7 1217h2v2h-2zM132.1 1189.9h2v2h-2zM132.2 1220.4h2v2h-2zM131.6 1212.9h2v2h-2zM133.6 1218.2h2v2h-2zM132.7 1213.2h2v2h-2zM132.6 1208.5h2v2h-2zM133.7 1211.4h2v2h-2zM134.1 1219.3h2v2h-2zM133.6 1225h2v2h-2zM134.8 1218.5h2v2h-2zM135.6 1193.6h2v2h-2zM136.7 1209h2v2h-2zM137.1 1213.7h2v2h-2zM136.7 1206.3h2v2h-2zM137.6 1213.8h2v2h-2zM138.6 1219.7h2v2h-2zM138 1196.6h2v2h-2zM138.8 1220.2h2v2h-2zM138.8 1216h2v2h-2zM139.2 1220.2h2v2h-2zM140.4 1211.5h2v2h-2zM140.5 1207.6h2v2h-2zM140.8 1217h2v2h-2zM141.3 1216.8h2v2h-2zM141 1194.9h2v2h-2zM141.7 1218.9h2v2h-2zM142.6 1204.4h2v2h-2zM142.6 1217.4h2v2h-2zM142.8 1220.6h2v2h-2zM143.4 1226.7h2v2h-2zM144.9 1209.5h2v2h-2zM145.6 1219h2v2h-2zM145.9 1222.7h2v2h-2zM146.6 1215.8h2v2h-2zM147.6 1206.2h2v2h-2zM147.5 1214.8h2v2h-2zM147.8 1220.9h2v2h-2zM148.7 1221.5h2v2h-2zM149.7 1213.8h2v2h-2zM148.9 1203.9h2v2h-2zM150.1 1212.9h2v2h-2zM151.2 1220.9h2v2h-2zM150.9 1223h2v2h-2zM151.8 1224.5h2v2h-2zM152.2 1222.9h2v2h-2zM209.1 1226.7h2v2h-2zM208.4 1225.3h2v2h-2zM208.4 1219.5h2v2h-2zM210.2 1215h2v2h-2zM209.2 1213.3h2v2h-2zM209.6 1216.7h2v2h-2zM210.4 1227.7h2v2h-2zM210.1 1227.1h2v2h-2zM211.2 1224.6h2v2h-2zM211.9 1224.3h2v2h-2zM212.1 1231.2h2v2h-2zM213.6 1229.4h2v2h-2zM214.6 1214.6h2v2h-2zM215.7 1228h2v2h-2zM215.2 1236.6h2v2h-2zM216.1 1234.9h2v2h-2zM216.8 1217.9h2v2h-2zM217.1 1225.3h2v2h-2zM218.4 1237.1h2v2h-2zM222.3 1224h2v2h-2zM222.8 1225.4h2v2h-2zM222.2 1222.9h2v2h-2zM224.3 1228.5h2v2h-2zM224.6 1207.8h2v2h-2zM224.7 1207.7h2v2h-2zM226 1225.5h2v2h-2zM225.5 1221.4h2v2h-2zM227.2 1222.3h2v2h-2zM226.4 1227h2v2h-2zM226.2 1227.1h2v2h-2zM226.7 1227.2h2v2h-2zM226.5 1219.7h2v2h-2zM227.2 1200.7h2v2h-2zM229.1 1223.4h2v2h-2zM230.3 1211.6h2v2h-2zM231.1 1215h2v2h-2zM232.6 1226h2v2h-2zM232.2 1224.1h2v2h-2zM232.1 1216.5h2v2h-2zM232.6 1214h2v2h-2zM234.2 1223.7h2v2h-2zM233.4 1208.6h2v2h-2zM235.2 1208.3h2v2h-2zM235.8 1209.9h2v2h-2zM289.8 1218.4h2v2h-2zM289.3 1218.9h2v2h-2zM289.4 1222.9h2v2h-2zM289.9 1218h2v2h-2zM289.8 1225.5h2v2h-2zM290.1 1226.6h2v2h-2zM291.3 1230.2h2v2h-2zM292.1 1224.5h2v2h-2zM292.2 1209.8h2v2h-2zM292.9 1207.2h2v2h-2zM292.3 1236.4h2v2h-2zM293.8 1230.2h2v2h-2zM294.6 1216.1h2v2h-2zM295.9 1233.1h2v2h-2zM296.2 1232.3h2v2h-2zM295.4 1240.1h2v2h-2zM297.2 1235.4h2v2h-2zM296.3 1230.6h2v2h-2zM298.8 1230.3h2v2h-2zM298.5 1236.2h2v2h-2zM298.7 1232.2h2v2h-2zM298.4 1229.8h2v2h-2zM298.9 1219.7h2v2h-2zM300.4 1234.8h2v2h-2zM302.7 1218.6h2v2h-2zM302.7 1223.3h2v2h-2zM302.8 1219.5h2v2h-2zM302.3 1219.6h2v2h-2zM304.3 1229.3h2v2h-2zM304.2 1228.1h2v2h-2zM305 1220.1h2v2h-2zM305.5 1222.9h2v2h-2zM306.9 1226.6h2v2h-2zM306.7 1193.9h2v2h-2zM307.9 1214.5h2v2h-2zM309.3 1215.1h2v2h-2zM308.5 1214.8h2v2h-2zM309.3 1209.5h2v2h-2zM309.1 1214.8h2v2h-2zM308.7 1218.1h2v2h-2zM308.6 1210.5h2v2h-2zM310.3 1217.6h2v2h-2zM310.8 1222h2v2h-2zM312.2 1231.1h2v2h-2zM312.6 1231.2h2v2h-2zM312.2 1226.4h2v2h-2zM313.6 1214.4h2v2h-2zM313.5 1227.5h2v2h-2zM314.2 1210.2h2v2h-2zM314.3 1238.2h2v2h-2zM314.4 1232.3h2v2h-2zM314.6 1209.6h2v2h-2zM314.8 1211.5h2v2h-2zM314.3 1237.8h2v2h-2zM315.3 1237.1h2v2h-2zM315.7 1239h2v2h-2zM363.9 1215.8h2v2h-2zM364.2 1201h2v2h-2zM364.7 1214.6h2v2h-2zM365.6 1211.9h2v2h-2zM367.5 1196.7h2v2h-2zM367.7 1213.5h2v2h-2zM368.5 1208.9h2v2h-2zM368.4 1192.4h2v2h-2zM369.4 1208.2h2v2h-2zM369.6 1206.7h2v2h-2zM369.8 1196.3h2v2h-2zM370.1 1197.8h2v2h-2zM371.6 1203.4h2v2h-2zM372.6 1205.1h2v2h-2zM372.2 1214.3h2v2h-2zM373.5 1215.2h2v2h-2zM373.8 1212.1h2v2h-2zM373.9 1215.4h2v2h-2zM374.8 1194.2h2v2h-2zM375.7 1184.2h2v2h-2zM375.7 1201.7h2v2h-2zM376.7 1180.1h2v2h-2zM376.9 1207.9h2v2h-2zM376.7 1210.1h2v2h-2zM377 1216.9h2v2h-2zM377.1 1215.6h2v2h-2zM376.9 1218.5h2v2h-2zM379.5 1208.2h2v2h-2zM379.2 1209.8h2v2h-2zM380.2 1203.6h2v2h-2zM379.9 1202.2h2v2h-2zM380 1194.4h2v2h-2zM380.5 1208.8h2v2h-2zM380.8 1197.5h2v2h-2zM380.9 1198.9h2v2h-2zM380.8 1204.8h2v2h-2zM381.8 1212.6h2v2h-2zM382.4 1205.1h2v2h-2zM381.7 1198.6h2v2h-2zM382.5 1190.2h2v2h-2zM384.6 1210.8h2v2h-2zM384.3 1207.1h2v2h-2zM385.2 1202.7h2v2h-2zM386.1 1199.6h2v2h-2zM386.4 1176.2h2v2h-2zM385.6 1200.1h2v2h-2zM386.9 1216.9h2v2h-2zM428.5 1221.5h2v2h-2zM429.2 1219.7h2v2h-2zM429.5 1225.5h2v2h-2zM429.6 1219.4h2v2h-2zM430.4 1217.6h2v2h-2zM430.7 1218.5h2v2h-2zM430.9 1229.2h2v2h-2zM431.6 1228.6h2v2h-2zM431.7 1229h2v2h-2zM432.6 1239.2h2v2h-2zM432.9 1230.9h2v2h-2zM434.2 1224.6h2v2h-2zM434.2 1224.8h2v2h-2zM433.7 1212.1h2v2h-2zM433.6 1223.3h2v2h-2zM435.8 1232.6h2v2h-2zM435.6 1237.2h2v2h-2zM436.5 1220.8h2v2h-2zM438.6 1229.3h2v2h-2zM437.6 1226.6h2v2h-2zM440.3 1233.1h2v2h-2zM441.2 1230.1h2v2h-2zM441.2 1211.4h2v2h-2zM440.9 1233.5h2v2h-2zM442.5 1219.6h2v2h-2zM443.6 1211.6h2v2h-2zM445.4 1214.9h2v2h-2zM444.8 1216.3h2v2h-2zM444.5 1229.5h2v2h-2zM486.6 1221.1h2v2h-2zM487.8 1214.7h2v2h-2zM488.4 1234.4h2v2h-2zM487.8 1241.6h2v2h-2zM489.6 1225.6h2v2h-2zM488.8 1226h2v2h-2zM488.9 1230.1h2v2h-2zM491.4 1224.9h2v2h-2zM491 1225h2v2h-2zM490.8 1232h2v2h-2zM490.6 1232.4h2v2h-2zM491.7 1234.7h2v2h-2zM492.4 1236.2h2v2h-2zM492.7 1232.5h2v2h-2zM494.5 1235.4h2v2h-2zM494.9 1230.3h2v2h-2zM494.7 1209.5h2v2h-2zM496.1 1229.5h2v2h-2zM495.8 1218.8h2v2h-2zM497.3 1223.1h2v2h-2zM497.4 1214h2v2h-2zM497.2 1221h2v2h-2zM497.7 1232.7h2v2h-2zM500.6 1239.6h2v2h-2zM499.6 1235.6h2v2h-2zM501.7 1238.3h2v2h-2zM502.3 1234.2h2v2h-2zM502.5 1220.1h2v2h-2zM535.1 1217.1h2v2h-2zM534.9 1222.2h2v2h-2zM534.6 1214.2h2v2h-2zM534.4 1231.6h2v2h-2zM536.4 1231.1h2v2h-2zM535.5 1231.2h2v2h-2zM536.6 1201.4h2v2h-2zM536.4 1219h2v2h-2zM537.2 1227.5h2v2h-2zM537.3 1230.5h2v2h-2zM538.3 1228.6h2v2h-2zM538.8 1231.9h2v2h-2zM539.3 1224.5h2v2h-2zM539.3 1238.6h2v2h-2zM539.6 1228.4h2v2h-2zM540.5 1234.7h2v2h-2zM542.4 1240.7h2v2h-2zM542.2 1239.1h2v2h-2zM542 1246.8h2v2h-2zM542.2 1243.9h2v2h-2zM542.7 1236.4h2v2h-2zM544.2 1232.3h2v2h-2zM543.3 1233.6h2v2h-2zM544.8 1210.5h2v2h-2zM546.3 1222.9h2v2h-2zM545.5 1226.7h2v2h-2zM547.3 1200.1h2v2h-2zM547.8 1209.6h2v2h-2zM548.1 1207.6h2v2h-2zM548.4 1188.8h2v2h-2zM580.9 1227.8h2v2h-2zM582.3 1215.1h2v2h-2zM582 1221.1h2v2h-2zM582.1 1219.2h2v2h-2zM581.6 1220.7h2v2h-2zM582.5 1218.1h2v2h-2zM583.4 1222.7h2v2h-2zM583.1 1227h2v2h-2zM584.3 1236.4h2v2h-2zM583.8 1213.2h2v2h-2zM584.6 1224.2h2v2h-2zM584.4 1236.2h2v2h-2zM584.8 1226.1h2v2h-2zM585.4 1229.9h2v2h-2zM585.4 1238.6h2v2h-2zM585.4 1229.5h2v2h-2zM585.5 1237.9h2v2h-2zM586.2 1234.8h2v2h-2zM586.9 1230.7h2v2h-2zM587.5 1210.6h2v2h-2zM586.6 1234.4h2v2h-2zM586.5 1207.7h2v2h-2zM588.1 1228.7h2v2h-2zM587.5 1204.1h2v2h-2zM588.8 1232.1h2v2h-2zM590.3 1226h2v2h-2zM591.5 1221.7h2v2h-2zM591.1 1212.9h2v2h-2zM590.4 1218.8h2v2h-2zM590.9 1212.4h2v2h-2zM591 1220h2v2h-2zM617 1219.1h2v2h-2zM617.4 1200.7h2v2h-2zM618.5 1225.1h2v2h-2zM619 1197h2v2h-2zM619 1224.6h2v2h-2zM618.6 1226.6h2v2h-2zM619.2 1225.4h2v2h-2zM620.5 1220.3h2v2h-2zM620.4 1205.2h2v2h-2zM620.5 1212.5h2v2h-2zM621.2 1227.7h2v2h-2zM621.4 1202.8h2v2h-2zM620.7 1218.3h2v2h-2zM622 1223.1h2v2h-2zM622.1 1210.3h2v2h-2zM623.5 1229.7h2v2h-2zM624 1229.8h2v2h-2zM624.3 1228.1h2v2h-2zM623.4 1210h2v2h-2zM626.3 1210.4h2v2h-2zM626.5 1205.6h2v2h-2zM625.5 1212.7h2v2h-2zM625.9 1186.6h2v2h-2zM625.7 1221.1h2v2h-2zM626.5 1214.3h2v2h-2zM626.7 1217h2v2h-2zM627.5 1198.5h2v2h-2zM628 1203.3h2v2h-2zM627.7 1209.1h2v2h-2zM649.7 1214.9h2v2h-2zM651.1 1216.3h2v2h-2zM651 1233.2h2v2h-2zM652.5 1246.3h2v2h-2zM651.8 1232.8h2v2h-2zM652.6 1236.7h2v2h-2zM652.4 1246.4h2v2h-2zM654.7 1229.8h2v2h-2zM655.1 1235.1h2v2h-2zM655.4 1222.6h2v2h-2zM656.3 1223.9h2v2h-2zM655.7 1230.4h2v2h-2zM655.6 1233.4h2v2h-2zM656.5 1233.9h2v2h-2zM657.3 1230.7h2v2h-2zM657.3 1223.7h2v2h-2zM658.1 1225.3h2v2h-2zM658 1230.6h2v2h-2zM658.3 1210h2v2h-2zM659.2 1209.6h2v2h-2zM660.3 1206.9h2v2h-2zM660.1 1222.5h2v2h-2zM659.7 1230.7h2v2h-2zM660.5 1230.6h2v2h-2zM660.4 1231h2v2h-2zM661.4 1231.6h2v2h-2z" fill="#8e7457"/>
<path d="M152.9 1215.6h2v2h-2zM152.8 1224.9h2v2h-2zM152.2 1229h2v2h-2zM153.5 1219h2v2h-2zM153 1194.7h2v2h-2zM155.5 1214.5h2v2h-2zM157.1 1208.8h2v2h-2zM158.1 1209h2v2h-2zM159 1189.2h2v2h-2zM158.7 1211h2v2h-2zM158.4 1206.4h2v2h-2zM159.5 1199.2h2v2h-2zM159 1175.4h2v2h-2zM159.9 1187.1h2v2h-2zM159.7 1192.4h2v2h-2zM161 1218.1h2v2h-2zM160.4 1211.3h2v2h-2zM162.7 1200.8h2v2h-2zM163.7 1201.8h2v2h-2zM163.7 1210.3h2v2h-2zM164.3 1207.6h2v2h-2zM164.9 1207.7h2v2h-2zM164.5 1206.9h2v2h-2zM165.9 1215.7h2v2h-2zM167.9 1212.6h2v2h-2zM168.7 1187.6h2v2h-2zM168.3 1208.1h2v2h-2zM170.1 1222.4h2v2h-2zM171.1 1221.2h2v2h-2zM170.3 1213h2v2h-2zM170.9 1201.8h2v2h-2zM171 1223.5h2v2h-2zM171.2 1222.6h2v2h-2zM171.6 1220.4h2v2h-2zM172.8 1224.2h2v2h-2zM172.3 1224.3h2v2h-2zM173.3 1223.7h2v2h-2zM175 1221.8h2v2h-2zM175.4 1205.9h2v2h-2zM175 1218.8h2v2h-2zM177 1213.1h2v2h-2zM176.8 1223.6h2v2h-2zM177.7 1193.3h2v2h-2zM178 1203.7h2v2h-2zM178 1203.9h2v2h-2zM178.3 1206.4h2v2h-2zM178.1 1218.9h2v2h-2zM178.7 1205.5h2v2h-2zM178.1 1219.6h2v2h-2zM180.9 1226h2v2h-2zM180.1 1222.9h2v2h-2zM180.4 1229.8h2v2h-2zM180.1 1231.4h2v2h-2zM181 1231h2v2h-2zM236.4 1208.2h2v2h-2zM236.3 1210.1h2v2h-2zM237.3 1208.4h2v2h-2zM237.4 1215h2v2h-2zM238.2 1197.3h2v2h-2zM238.8 1206.2h2v2h-2zM239.3 1192.4h2v2h-2zM239 1204.8h2v2h-2zM240.2 1220.8h2v2h-2zM239.6 1212.8h2v2h-2zM239.7 1215.7h2v2h-2zM242.6 1223.5h2v2h-2zM243.9 1235.4h2v2h-2zM244.5 1230.7h2v2h-2zM244.5 1224.3h2v2h-2zM243.8 1236.4h2v2h-2zM243.7 1226.3h2v2h-2zM243.7 1234.2h2v2h-2zM245.7 1224.4h2v2h-2zM245.6 1210.8h2v2h-2zM245.2 1229.8h2v2h-2zM246.6 1231.3h2v2h-2zM246.8 1230.3h2v2h-2zM247.1 1231.7h2v2h-2zM248.1 1229.9h2v2h-2zM249.9 1230.9h2v2h-2zM249.7 1221.5h2v2h-2zM249.6 1204h2v2h-2zM251.1 1220.7h2v2h-2zM251 1221.6h2v2h-2zM251 1215.8h2v2h-2zM251.2 1230h2v2h-2zM252.7 1224.1h2v2h-2zM252 1220.7h2v2h-2zM252.7 1222.6h2v2h-2zM252.6 1193.4h2v2h-2zM253.5 1228h2v2h-2zM253.4 1226.4h2v2h-2zM253.5 1219.3h2v2h-2zM254.2 1210.9h2v2h-2zM253.6 1209.4h2v2h-2zM255.7 1221.2h2v2h-2zM256.7 1223.3h2v2h-2zM257.7 1223.1h2v2h-2zM256.6 1222.5h2v2h-2zM258.6 1217.7h2v2h-2zM258 1230.7h2v2h-2zM258.7 1222.6h2v2h-2zM259.4 1217.9h2v2h-2zM258.7 1214.1h2v2h-2zM259.7 1225.4h2v2h-2zM260.3 1229.4h2v2h-2zM261 1229.9h2v2h-2zM261 1217.1h2v2h-2zM261.5 1228.6h2v2h-2zM261.1 1225.5h2v2h-2zM262.5 1225.5h2v2h-2zM262.7 1235.7h2v2h-2zM262 1232.2h2v2h-2zM261.7 1214.6h2v2h-2zM262.1 1238.3h2v2h-2zM262 1232h2v2h-2zM263.1 1236.2h2v2h-2zM316.7 1237.4h2v2h-2zM317.8 1210.2h2v2h-2zM318 1226.7h2v2h-2zM318.1 1229.3h2v2h-2zM318.2 1196h2v2h-2zM320.3 1219.5h2v2h-2zM320.8 1223.2h2v2h-2zM321.6 1216.8h2v2h-2zM322.4 1231.2h2v2h-2zM322.6 1226.5h2v2h-2zM323.8 1214.7h2v2h-2zM323.8 1209.1h2v2h-2zM325.1 1221.7h2v2h-2zM324.7 1215h2v2h-2zM325.4 1226.7h2v2h-2zM324.7 1229.7h2v2h-2zM326.4 1215.7h2v2h-2zM327.3 1224.2h2v2h-2zM327.6 1226.8h2v2h-2zM328 1233.9h2v2h-2zM328.4 1235.8h2v2h-2zM329.8 1237.2h2v2h-2zM330.2 1245.1h2v2h-2zM330.7 1240.8h2v2h-2zM331 1214.8h2v2h-2zM331.8 1228h2v2h-2zM331.4 1217.9h2v2h-2zM331.3 1220.1h2v2h-2zM333.3 1215.5h2v2h-2zM333 1230.4h2v2h-2zM333.8 1218.3h2v2h-2zM333.3 1235.5h2v2h-2zM337.1 1215.7h2v2h-2zM338.3 1227.4h2v2h-2zM338.1 1230.2h2v2h-2zM338.9 1217.9h2v2h-2zM387.7 1218.5h2v2h-2zM388.1 1220.2h2v2h-2zM390.1 1215.1h2v2h-2zM390.5 1200.1h2v2h-2zM390.5 1200.8h2v2h-2zM391 1210.9h2v2h-2zM392.7 1200.8h2v2h-2zM394.5 1217.1h2v2h-2zM393.7 1217h2v2h-2zM393.6 1214.7h2v2h-2zM394 1223.4h2v2h-2zM393.5 1223.4h2v2h-2zM394.6 1210.1h2v2h-2zM394.6 1214.7h2v2h-2zM396.6 1229.3h2v2h-2zM395.7 1229.5h2v2h-2zM395.7 1225h2v2h-2zM396.7 1235.4h2v2h-2zM397.3 1235.2h2v2h-2zM397.5 1237h2v2h-2zM397.4 1225.8h2v2h-2zM398.4 1220.6h2v2h-2zM398.5 1228.8h2v2h-2zM399.3 1235.8h2v2h-2zM399 1237.5h2v2h-2zM399.7 1236.2h2v2h-2zM400.7 1235.3h2v2h-2zM400.6 1235.4h2v2h-2zM402.7 1233.8h2v2h-2zM404.6 1241.3h2v2h-2zM404.6 1246.7h2v2h-2zM404.9 1247h2v2h-2zM405.2 1244.1h2v2h-2zM404.6 1222.9h2v2h-2zM405.5 1247.9h2v2h-2zM404.8 1220.5h2v2h-2zM407.6 1230.3h2v2h-2zM407.2 1230.8h2v2h-2zM407.5 1232.6h2v2h-2zM408.7 1232.9h2v2h-2zM408.1 1245.1h2v2h-2zM408.3 1233.6h2v2h-2zM408.7 1235.6h2v2h-2zM447.5 1229.1h2v2h-2zM448.9 1216.6h2v2h-2zM448.9 1209.5h2v2h-2zM449.1 1207.9h2v2h-2zM449.2 1210.4h2v2h-2zM448.8 1200h2v2h-2zM449.5 1198.3h2v2h-2zM449.4 1205.2h2v2h-2zM450.4 1215.7h2v2h-2zM449.3 1215.2h2v2h-2zM450.8 1218.4h2v2h-2zM452.8 1222.2h2v2h-2zM452.5 1201.4h2v2h-2zM453.1 1216.6h2v2h-2zM453.8 1224.5h2v2h-2zM454.8 1214.7h2v2h-2zM455.8 1208.1h2v2h-2zM457.5 1223.2h2v2h-2zM458.1 1223.2h2v2h-2zM457.5 1223.3h2v2h-2zM458.3 1215.4h2v2h-2zM457.4 1223h2v2h-2zM458.4 1220.3h2v2h-2zM459.6 1213.3h2v2h-2zM459.4 1235.9h2v2h-2zM460.1 1236h2v2h-2zM460.1 1235.3h2v2h-2zM461.2 1241.6h2v2h-2zM461.8 1240.5h2v2h-2zM462.2 1243.9h2v2h-2zM462.4 1217.7h2v2h-2zM464 1239h2v2h-2zM463.6 1243.2h2v2h-2zM464.7 1227.9h2v2h-2zM464.4 1225.9h2v2h-2zM465.6 1199.5h2v2h-2zM466.4 1228.2h2v2h-2zM467.2 1224h2v2h-2zM503.2 1229.6h2v2h-2zM502.8 1224.8h2v2h-2zM502.7 1227.9h2v2h-2zM502.7 1236.1h2v2h-2zM503.9 1225.1h2v2h-2zM504.2 1219.8h2v2h-2zM503.6 1218h2v2h-2zM505.1 1204.6h2v2h-2zM506 1216.9h2v2h-2zM505.8 1212.1h2v2h-2zM507.5 1195.9h2v2h-2zM508.4 1207.2h2v2h-2zM508.4 1205.4h2v2h-2zM509.2 1199.6h2v2h-2zM510.4 1211.7h2v2h-2zM509.5 1206.8h2v2h-2zM510.4 1209.6h2v2h-2zM511.2 1212.6h2v2h-2zM510.9 1211.1h2v2h-2zM511 1212.1h2v2h-2zM511.9 1208.6h2v2h-2zM512 1203.9h2v2h-2zM511.6 1209.2h2v2h-2zM514.1 1214.4h2v2h-2zM513.8 1214.6h2v2h-2zM514.9 1217.8h2v2h-2zM516.2 1228.5h2v2h-2zM517 1233.4h2v2h-2zM516.8 1233.8h2v2h-2zM516.5 1226.3h2v2h-2zM518 1237.6h2v2h-2zM517.6 1237.8h2v2h-2zM517.8 1228.4h2v2h-2zM552.2 1232.4h2v2h-2zM551.2 1235.9h2v2h-2zM551.9 1229.6h2v2h-2zM551.3 1233.8h2v2h-2zM552.8 1225.5h2v2h-2zM553.3 1232.5h2v2h-2zM552.2 1231.8h2v2h-2zM552.8 1207.6h2v2h-2zM553.1 1228h2v2h-2zM555.1 1220.2h2v2h-2zM554.5 1226.5h2v2h-2zM555.5 1216h2v2h-2zM556.1 1218.2h2v2h-2zM556 1204.9h2v2h-2zM557 1208.3h2v2h-2zM556.9 1222.1h2v2h-2zM557 1226.1h2v2h-2zM557.9 1219.1h2v2h-2zM559 1218h2v2h-2zM560.2 1221.6h2v2h-2zM559.6 1212.4h2v2h-2zM559.8 1206.8h2v2h-2zM560.1 1223.7h2v2h-2zM560.9 1215.2h2v2h-2zM561.1 1218.9h2v2h-2zM560.4 1217.8h2v2h-2zM561.3 1219.2h2v2h-2zM564.1 1209.2h2v2h-2zM564.6 1236.3h2v2h-2zM564.8 1230.6h2v2h-2zM564.6 1229.5h2v2h-2zM566 1233.7h2v2h-2zM566.2 1232.4h2v2h-2zM593 1219h2v2h-2zM593.7 1222.5h2v2h-2zM593.5 1232.7h2v2h-2zM594.2 1230.5h2v2h-2zM594.6 1232.2h2v2h-2zM595.6 1218.2h2v2h-2zM596 1233.4h2v2h-2zM596.8 1232.1h2v2h-2zM596.2 1224.8h2v2h-2zM598.2 1208h2v2h-2zM597.3 1226.7h2v2h-2zM598.9 1226.7h2v2h-2zM598.4 1199.4h2v2h-2zM600.1 1211.8h2v2h-2zM601 1222h2v2h-2zM601.4 1211.6h2v2h-2zM601 1221.6h2v2h-2zM600.5 1220.2h2v2h-2zM600.9 1197.8h2v2h-2zM600.9 1219.6h2v2h-2zM601.8 1220.8h2v2h-2zM602.3 1229.4h2v2h-2zM603.2 1218h2v2h-2zM604.4 1213.2h2v2h-2zM606.4 1210.4h2v2h-2zM606.7 1213.7h2v2h-2zM627.6 1203.6h2v2h-2zM628.4 1207.1h2v2h-2zM628.3 1202.5h2v2h-2zM628.5 1216.9h2v2h-2zM628.4 1204.9h2v2h-2zM628.6 1223h2v2h-2zM629.5 1218.8h2v2h-2zM631.3 1213h2v2h-2zM632.5 1201.9h2v2h-2zM632.5 1219.6h2v2h-2zM633.5 1216.5h2v2h-2zM632.6 1214.9h2v2h-2zM633.2 1215.9h2v2h-2zM633.1 1198h2v2h-2zM633 1198.9h2v2h-2zM634.2 1214.3h2v2h-2zM633.9 1212.1h2v2h-2zM634.5 1204.1h2v2h-2zM634.5 1219.6h2v2h-2zM634.1 1214.3h2v2h-2zM635.3 1208.1h2v2h-2zM635.3 1214.1h2v2h-2zM638.5 1217.1h2v2h-2z" fill="#008300"/>
<path d="M103.9 1140.7h2.6v2.6h-2.6zM112.6 1169.6h2.6v2.6h-2.6zM112.6 1187.1h2.6v2.6h-2.6zM117.7 1191.5h2.6v2.6h-2.6zM85.6 1201.7h2.6v2.6h-2.6zM92.9 1201h2.6v2.6h-2.6zM105.3 1201.7h2.6v2.6h-2.6zM112.6 1204.6h2.6v2.6h-2.6zM117.7 1204.3h2.6v2.6h-2.6zM85.6 1210.5h2.6v2.6h-2.6zM106.1 1208.3h2.6v2.6h-2.6zM112.6 1216.3h2.6v2.6h-2.6zM92.9 1221.4h2.6v2.6h-2.6zM85.6 1217.8h2.6v2.6h-2.6zM185.6 1176.9h2.6v2.6h-2.6zM206.1 1180.5h2.6v2.6h-2.6zM184.5 1195.1h2.6v2.6h-2.6zM192.2 1200.2h2.6v2.6h-2.6zM205.3 1199.9h2.6v2.6h-2.6zM205.3 1203.9h2.6v2.6h-2.6zM200.2 1209h2.6v2.6h-2.6zM200.2 1212.6h2.6v2.6h-2.6zM205.3 1209h2.6v2.6h-2.6zM205.3 1220.7h2.6v2.6h-2.6zM192.2 1206.1h2.6v2.6h-2.6zM184.5 1204.6h2.6v2.6h-2.6zM264.7 1184.2h2.6v2.6h-2.6zM264.7 1190h2.6v2.6h-2.6zM276.9 1199.9h2.6v2.6h-2.6zM271 1203.9h2.6v2.6h-2.6zM265.2 1212.6h2.6v2.6h-2.6zM280.5 1212.6h2.6v2.6h-2.6zM264.5 1222.1h2.6v2.6h-2.6zM280.5 1221.4h2.6v2.6h-2.6zM288.2 1200.9h2.6v2.6h-2.6zM287.8 1218.4h2.6v2.6h-2.6zM283.4 1211.8h2.6v2.6h-2.6zM341.1 1133h2.6v2.6h-2.6zM341.1 1136.7h2.6v2.6h-2.6zM341.4 1140.3h2.6v2.6h-2.6zM362 1151h2.6v2.6h-2.6zM357.2 1161.8h2.6v2.6h-2.6zM350.6 1170.2h2.6v2.6h-2.6zM357.2 1171h2.6v2.6h-2.6zM361.5 1174.6h2.6v2.6h-2.6zM357.2 1180.5h2.6v2.6h-2.6zM352.8 1174.6h2.6v2.6h-2.6zM362.3 1186.3h2.6v2.6h-2.6zM362.3 1195.1h2.6v2.6h-2.6zM350.6 1186.3h2.6v2.6h-2.6zM351.3 1192.1h2.6v2.6h-2.6zM358.6 1200.9h2.6v2.6h-2.6zM409 1234.5h2.6v2.6h-2.6zM419.9 1184.5h2.6v2.6h-2.6zM419.9 1206.8h2.6v2.6h-2.6zM419.9 1211.9h2.6v2.6h-2.6zM419.9 1217.8h2.6v2.6h-2.6zM419.2 1222.1h2.6v2.6h-2.6zM414.1 1229.1h2.6v2.6h-2.6zM425 1229.4h2.6v2.6h-2.6zM415.5 1239.6h2.6v2.6h-2.6zM425 1236h2.6v2.6h-2.6zM476.7 1130.2h2.6v2.6h-2.6zM479.5 1147.8h2.6v2.6h-2.6zM479.5 1159.6h2.6v2.6h-2.6zM475 1165.4h2.6v2.6h-2.6zM479.5 1177.2h2.6v2.6h-2.6zM474.2 1188.9h2.6v2.6h-2.6zM478.7 1188.9h2.6v2.6h-2.6zM483.7 1225h2.6v2.6h-2.6zM530.7 1177.2h2.6v2.6h-2.6zM524 1189.4h2.6v2.6h-2.6zM530.7 1200.1h2.6v2.6h-2.6zM524.8 1204.8h2.6v2.6h-2.6zM530.7 1209.9h2.6v2.6h-2.6zM520.6 1215.7h2.6v2.6h-2.6zM529.9 1219.1h2.6v2.6h-2.6zM578.7 1155h2.6v2.6h-2.6zM578.7 1179.8h2.6v2.6h-2.6zM578.7 1189.6h2.6v2.6h-2.6zM574.3 1192.9h2.6v2.6h-2.6zM578.7 1198.4h2.6v2.6h-2.6zM575.4 1207.2h2.6v2.6h-2.6zM578.7 1214.8h2.6v2.6h-2.6zM567.7 1217h2.6v2.6h-2.6zM613.1 1191.2h2.6v2.6h-2.6zM613.7 1205h2.6v2.6h-2.6zM646.6 1212.6h2.6v2.6h-2.6zM642.2 1217h2.6v2.6h-2.6z" fill="#000066"/>
<path d="M121.4 1216.3h2.6v2.6h-2.6zM128 1172.5h2.6v2.6h-2.6zM130.1 1179.8h2.6v2.6h-2.6zM136 1188.6h2.6v2.6h-2.6zM138.2 1190.7h2.6v2.6h-2.6zM149.1 1190.7h2.6v2.6h-2.6zM149.1 1195.1h2.6v2.6h-2.6zM125 1195.1h2.6v2.6h-2.6zM130.1 1192.9h2.6v2.6h-2.6zM130.1 1195.1h2.6v2.6h-2.6zM144 1200.2h2.6v2.6h-2.6zM125 1199.5h2.6v2.6h-2.6zM125 1204.6h2.6v2.6h-2.6zM133.8 1202.4h2.6v2.6h-2.6zM138.2 1204.6h2.6v2.6h-2.6zM144 1209h2.6v2.6h-2.6zM138.2 1210.5h2.6v2.6h-2.6zM130.1 1214.8h2.6v2.6h-2.6zM209.7 1183.9h2.6v2.6h-2.6zM212.6 1184.2h2.6v2.6h-2.6zM208.7 1191.2h2.6v2.6h-2.6zM225 1183.4h2.6v2.6h-2.6zM228 1187.1h2.6v2.6h-2.6zM209.7 1203.2h2.6v2.6h-2.6zM209 1208.3h2.6v2.6h-2.6zM209.7 1213.4h2.6v2.6h-2.6zM225 1206.8h2.6v2.6h-2.6zM222.1 1213.4h2.6v2.6h-2.6zM215.5 1219.9h2.6v2.6h-2.6zM288.5 1211.1h2.6v2.6h-2.6zM290.7 1195.8h2.6v2.6h-2.6zM310.1 1194.8h2.6v2.6h-2.6zM305.3 1207.5h2.6v2.6h-2.6zM304.6 1215.5h2.6v2.6h-2.6zM304.6 1219.9h2.6v2.6h-2.6zM296.6 1222.8h2.6v2.6h-2.6zM309.7 1222.8h2.6v2.6h-2.6zM309.7 1227.2h2.6v2.6h-2.6zM312.6 1233.7h2.6v2.6h-2.6zM363 1208.2h2.6v2.6h-2.6zM385.6 1193.7h2.6v2.6h-2.6zM384.9 1201h2.6v2.6h-2.6zM384.2 1207.5h2.6v2.6h-2.6zM384.2 1213.4h2.6v2.6h-2.6zM429.1 1160.5h2.6v2.6h-2.6zM429.1 1171.3h2.6v2.6h-2.6zM429.1 1185.9h2.6v2.6h-2.6zM429.1 1195.9h2.6v2.6h-2.6zM429.1 1203.2h2.6v2.6h-2.6zM429.1 1210.5h2.6v2.6h-2.6zM429.1 1214.8h2.6v2.6h-2.6zM440.8 1216h2.6v2.6h-2.6zM433.1 1223.6h2.6v2.6h-2.6zM443.3 1223.6h2.6v2.6h-2.6zM438.2 1229.4h2.6v2.6h-2.6zM486.3 1203.2h2.6v2.6h-2.6zM487.9 1206.5h2.6v2.6h-2.6zM485.4 1218.3h2.6v2.6h-2.6zM487.9 1203.2h2.6v2.6h-2.6zM497.2 1219.1h2.6v2.6h-2.6zM501.3 1216.6h2.6v2.6h-2.6zM495.5 1224.1h2.6v2.6h-2.6zM534.9 1220.3h2.6v2.6h-2.6zM536 1225.8h2.6v2.6h-2.6zM549.1 1197.3h2.6v2.6h-2.6zM590.9 1155.3h2.6v2.6h-2.6zM590.1 1198.4h2.6v2.6h-2.6zM585.3 1208.2h2.6v2.6h-2.6zM590.1 1214.8h2.6v2.6h-2.6zM615.9 1214.8h2.6v2.6h-2.6zM625.3 1142.6h2.6v2.6h-2.6zM625.3 1167.7h2.6v2.6h-2.6zM625.5 1191.2h2.6v2.6h-2.6zM622.5 1200.6h2.6v2.6h-2.6zM626 1209.3h2.6v2.6h-2.6zM657.9 1168.2h2.6v2.6h-2.6zM657.9 1184.6h2.6v2.6h-2.6zM657.9 1197.3h2.6v2.6h-2.6zM657.5 1210.4h2.6v2.6h-2.6z" fill="#75624a"/>
<path d="M160.1 1182.7h2.6v2.6h-2.6zM167.1 1183.4h2.6v2.6h-2.6zM160.1 1186.4h2.6v2.6h-2.6zM160.1 1191.5h2.6v2.6h-2.6zM160.1 1196.6h2.6v2.6h-2.6zM162.3 1201h2.6v2.6h-2.6zM167.4 1203.9h2.6v2.6h-2.6zM178.3 1199.5h2.6v2.6h-2.6zM175.4 1209.7h2.6v2.6h-2.6zM179.8 1203.9h2.6v2.6h-2.6zM163 1208.3h2.6v2.6h-2.6zM235.3 1188.3h2.6v2.6h-2.6zM236 1198.8h2.6v2.6h-2.6zM236 1200.2h2.6v2.6h-2.6zM256.4 1143.3h2.6v2.6h-2.6zM238.9 1177.2h2.6v2.6h-2.6zM255.7 1203.4h2.6v2.6h-2.6zM241.1 1205.3h2.6v2.6h-2.6zM250.6 1211.2h2.6v2.6h-2.6zM257.2 1212.6h2.6v2.6h-2.6zM244 1217.8h2.6v2.6h-2.6zM249.9 1222.1h2.6v2.6h-2.6zM256.4 1208.3h2.6v2.6h-2.6zM325 1208.9h2.6v2.6h-2.6zM330.9 1207.5h2.6v2.6h-2.6zM330.9 1211.8h2.6v2.6h-2.6zM333.8 1215.5h2.6v2.6h-2.6zM325 1216.9h2.6v2.6h-2.6zM321.4 1222.8h2.6v2.6h-2.6zM333.1 1222.8h2.6v2.6h-2.6zM317.7 1228.6h2.6v2.6h-2.6zM390.7 1182h2.6v2.6h-2.6zM391.5 1190h2.6v2.6h-2.6zM392.2 1198h2.6v2.6h-2.6zM390.7 1201.7h2.6v2.6h-2.6zM403.9 1198.5h2.6v2.6h-2.6zM390.7 1207.5h2.6v2.6h-2.6zM391.5 1214.8h2.6v2.6h-2.6zM398.8 1215.1h2.6v2.6h-2.6zM403.9 1221.4h2.6v2.6h-2.6zM396.6 1225.1h2.6v2.6h-2.6zM400.2 1229.4h2.6v2.6h-2.6zM452.8 1188.8h2.6v2.6h-2.6zM451.3 1192.9h2.6v2.6h-2.6zM449.1 1201h2.6v2.6h-2.6zM449.1 1203.9h2.6v2.6h-2.6zM453.5 1209h2.6v2.6h-2.6zM455 1217h2.6v2.6h-2.6zM449.9 1217.8h2.6v2.6h-2.6zM457.2 1225.1h2.6v2.6h-2.6zM465.9 1202.9h2.6v2.6h-2.6zM465.2 1213.4h2.6v2.6h-2.6zM502.2 1184.7h2.6v2.6h-2.6zM502.2 1199h2.6v2.6h-2.6zM508.6 1162.6h2.6v2.6h-2.6zM509.7 1175.5h2.6v2.6h-2.6zM516.1 1179.7h2.6v2.6h-2.6zM516.1 1185.6h2.6v2.6h-2.6zM516.1 1191.4h2.6v2.6h-2.6zM509.7 1196.5h2.6v2.6h-2.6zM517.3 1204.8h2.6v2.6h-2.6zM503 1209.9h2.6v2.6h-2.6zM560.5 1160.1h2.6v2.6h-2.6zM560.5 1175.8h2.6v2.6h-2.6zM552.4 1185.3h2.6v2.6h-2.6zM552.4 1191.8h2.6v2.6h-2.6zM560.1 1195.1h2.6v2.6h-2.6zM560.1 1203.9h2.6v2.6h-2.6zM552.4 1206.1h2.6v2.6h-2.6zM553.5 1217h2.6v2.6h-2.6zM605.4 1177.2h2.6v2.6h-2.6zM596.9 1190.7h2.6v2.6h-2.6zM605.4 1186.4h2.6v2.6h-2.6zM605.4 1200.6h2.6v2.6h-2.6zM596.9 1203.4h2.6v2.6h-2.6zM594 1212.6h2.6v2.6h-2.6zM605 1208.2h2.6v2.6h-2.6zM637.1 1164.9h2.6v2.6h-2.6zM635.6 1169.3h2.6v2.6h-2.6zM636.7 1184.6h2.6v2.6h-2.6zM636.9 1197.3h2.6v2.6h-2.6zM636.7 1203.9h2.6v2.6h-2.6zM633.4 1206.1h2.6v2.6h-2.6z" fill="#1a661a"/>
<path d="M341.5 1106.4h2.8v3.6h-2.8zM341.2 1111.2h2.8v3.6h-2.8zM341.3 1116h2.8v2.1h-2.8zM340.6 1124h3.2v3.6h-3.2zM340.7 1128.2h3.2v3.3h-3.2z" fill="#c8167a"/>
<path d="M340.6 1058.4h4v4h-4zM340.6 1068.7h4v4h-4zM340.6 1085.4h4v4h-4zM479.2 1044.8h4v4h-4zM624.6 1079h4v4h-4zM624.6 1100.3h4v4h-4zM624.6 1108h4v4h-4zM624.6 1110.1h4v4h-4zM624.6 1112.3h4v4h-4zM624.6 1114.5h4v4h-4zM624.6 1125.4h4v4h-4z" fill="#c41c80"/>
<path d="M341.6 1059.4h2v2h-2zM341.6 1069.7h2v2h-2zM341.6 1086.4h2v2h-2zM480.2 1045.8h2v2h-2zM625.6 1080h2v2h-2zM625.6 1101.3h2v2h-2zM625.6 1109h2v2h-2zM625.6 1111.1h2v2h-2zM625.6 1113.3h2v2h-2zM625.6 1115.5h2v2h-2zM625.6 1126.4h2v2h-2z" fill="#8a1058"/>
<path d="M105 1311.9v2.5M138.3 1311.9v2.5M167.8 1311.9v2.5M195.9 1311.9v2.5M223.4 1311.9v2.5M251 1311.9v2.5M277.8 1311.9v2.5M303.8 1311.9v2.5M328.9 1311.9v2.5M353.1 1311.9v2.5M377.1 1311.9v2.5M399.9 1311.9v2.5M420.3 1311.9v2.5M439.5 1311.9v2.5M458.6 1311.9v2.5M477.7 1311.9v2.5M495.6 1311.9v2.5M512 1311.9v2.5M527.4 1311.9v2.5M543.2 1311.9v2.5M559.5 1311.9v2.5M574.6 1311.9v2.5M587.9 1311.9v2.5M600.9 1311.9v2.5M613 1311.9v2.5M623.4 1311.9v2.5M634.3 1311.9v2.5M645.3 1311.9v2.5M657.9 1311.9v2.5" stroke="#99a" stroke-width="0.8" fill="none"/>
<path d="M71.5 1377.5V1648.7" stroke="#8c8c8c" stroke-width="1.2" fill="none"/>
<path d="M66.6 1648.7H70.6M66.6 1603.5H70.6M66.6 1558.3H70.6M66.6 1513.1H70.6M66.6 1467.9H70.6M66.6 1422.7H70.6M66.6 1377.5H70.6" stroke="#8c8c8c" stroke-width="1.1" fill="none"/>
<path d="M70.6 1603.5H682" stroke="#a4a4a4" stroke-width="1.2" fill="none"/>
<path d="M86.8 1649.4V1623.9H87.8V1623.8H88.8V1623.7H89.8V1628.1H90.8V1629.2H91.8V1628.1H92.8V1629.1H93.8V1627.5H94.8V1629.5H95.8V1628.6H96.8V1627.7H97.8V1629.7H98.8V1629H99.8V1629.4H100.8V1627.2H101.8V1624H102.8V1628.2H103.8V1628.2H104.8V1628.5H105.8V1628.4H106.8V1627H107.8V1627.1H108.8V1624.9H109.8V1624.2H110.8V1623.7H111.8V1622.4H112.8V1621.6H113.8V1619.4H114.8V1620.3H115.8V1619.7H116.8V1622.5H117.8V1618.4H118.8V1623.1H119.8V1622.3H120.8V1620.4H121.8V1622.2H122.8V1623.4H123.2V1649.4ZM182.2 1649.4V1618.7H183.2V1622.5H184.2V1620.3H185.2V1617.6H186.2V1621.6H187.2V1623.2H188.2V1625.3H189.2V1624.4H190.2V1623.8H191.2V1622.4H192.2V1626.1H193.2V1625.2H194.2V1621.7H195.2V1625.4H196.2V1626.2H197.2V1625.1H198.2V1624.5H199.2V1625.3H200.2V1625.3H201.2V1624.5H202.2V1626.2H203.2V1626H204.2V1626.8H205.2V1627.8H206.2V1627.9H207.2V1627.6H208.2V1628H209.2V1627.9H209.8V1649.4ZM265.1 1649.4V1622.8H266.1V1625.7H267.1V1624.7H268.1V1625.7H269.1V1624.7H270.1V1625.3H271.1V1626.7H272.1V1625H273.1V1628.4H274.1V1623.1H275.1V1631H276.1V1629.5H277.1V1630.8H278.1V1626.5H279.1V1627H280.1V1624.1H281.1V1620H282.1V1624H283.1V1625H284.1V1623.9H285.1V1625.5H286.1V1626H287.1V1623.9H288.1V1622.7H289.1V1618.2H290.1V1623.5H291V1649.4ZM341.3 1649.4V1620H342.3V1616.7H343.3V1620.7H344.3V1623H345.3V1624.6H346.3V1626.6H347.3V1626.3H348.3V1626.5H349.3V1627.1H350.3V1626.6H351.3V1626.3H352.3V1622.7H353.3V1624.7H354.3V1623.9H355.3V1623.9H356.3V1623H357.3V1626H358.3V1626.1H359.3V1623.2H360.3V1624H361.3V1624.3H362.3V1623.2H363.3V1625.6H364.3V1627.5H365.3V1628H365.5V1649.4ZM411 1649.4V1623.1H412V1622.7H413V1620.9H414V1619.8H415V1617.8H416V1621H417V1624.9H418V1622.3H419V1624.4H420V1626.8H421V1626.8H422V1628.9H423V1630.2H424V1630.9H425V1626.9H426V1629.3H427V1627.3H428V1628.7H429V1629.1H430V1625.4H430.4V1649.4ZM468.8 1649.4V1621.5H469.8V1622.5H470.8V1624.9H471.8V1626.3H472.8V1626.3H473.8V1623.9H474.8V1623.5H475.8V1621.8H476.8V1622.9H477.8V1624.8H478.8V1624.7H479.8V1624H480.8V1622.8H481.8V1620.1H482.8V1625.6H483.8V1623.7H484.8V1624.3H485.8V1623.7H486.8V1622.9H487.5V1649.4ZM520.5 1649.4V1625H521.5V1623.8H522.5V1621.2H523.5V1618.9H524.5V1622H525.5V1621.1H526.5V1622.1H527.5V1625.2H528.5V1623H529.5V1623.5H530.5V1621.7H531.5V1618.9H532.5V1617.5H533.5V1614H534.5V1621.2H535.3V1649.4ZM567.8 1649.4V1621.6H568.8V1622.6H569.8V1621.2H570.8V1618.4H571.8V1620H572.8V1621.3H573.8V1624.8H574.8V1622.9H575.8V1626.3H576.8V1624.8H577.8V1627.9H578.8V1624.5H579.8V1623H580.8V1621.8H581.8V1623.4H582.5V1649.4ZM608.5 1649.4V1624.3H609.5V1626H610.5V1629.8H611.5V1630.3H612.5V1627.7H613.5V1628.7H614.5V1628H615.5V1626.5H616.5V1623.2H617.5V1624.3H618.5V1649.4ZM640.2 1649.4V1621H641.2V1624.3H642.2V1623.8H643.2V1624.7H644.2V1624.6H645.2V1621.3H646.2V1620.5H647.2V1623.7H648.2V1623.2H649.2V1623.7H650.2V1625.4H651.2V1624.4H651.5V1649.4Z" fill="#00008f"/>
<path d="M123.2 1649.4V1624.3H124.2V1625.7H125.2V1623.8H126.2V1620.5H127.2V1618.5H128.2V1615.4H129.2V1617.1H130.2V1619.7H131.2V1621.6H132.2V1621.2H133.2V1622.2H134.2V1625.2H135.2V1624.3H136.2V1620.1H137.2V1624.7H138.2V1624.8H139.2V1623.2H140.2V1627H141.2V1628.1H142.2V1628.2H143.2V1630.2H144.2V1628.5H145.2V1630.7H146.2V1630.7H147.2V1630.8H148.2V1630.7H149.2V1630.8H150.2V1624.7H151.2V1628H152.2V1627.6H153.2V1623.5H153.6V1649.4ZM209.8 1649.4V1628H210.8V1627.5H211.8V1625.2H212.8V1620.7H213.8V1618.9H214.8V1617H215.8V1623.1H216.8V1625H217.8V1626.2H218.8V1627.6H219.8V1627.2H220.8V1629.8H221.8V1629.6H222.8V1631.3H223.8V1632.6H224.8V1632.3H225.8V1631.8H226.8V1631.4H227.8V1630.6H228.8V1628.6H229.8V1625.9H230.8V1626.5H231.8V1627.4H232.8V1622.5H233.8V1626.9H234.8V1625.6H235.8V1621.1H236.8V1625H237.3V1649.4ZM291 1649.4V1626H292V1628.4H293V1628.9H294V1630.2H295V1630.5H296V1631H297V1631.1H298V1626.5H299V1630.4H300V1629.6H301V1631.1H302V1631.3H303V1631.7H304V1629.7H305V1627.7H306V1626.1H307V1622.7H308V1621.2H309V1615.9H310V1620.5H311V1623.1H312V1619.9H313V1625.8H314V1622.6H315V1628.1H316V1629H317V1626.8H317V1649.4ZM365.5 1649.4V1627.7H366.5V1627.1H367.5V1626.9H368.5V1620.9H369.5V1626.3H370.5V1625.3H371.5V1627.7H372.5V1628.4H373.5V1625.3H374.5V1627H375.5V1624.3H376.5V1627.4H377.5V1627H378.5V1626.2H379.5V1624.2H380.5V1623H381.5V1618.9H382.5V1617.9H383.5V1613.3H384.5V1615.8H385.5V1614.4H386.5V1613.4H387.5V1609.7H388.5V1605.3H389.4V1649.4ZM430.4 1649.4V1627.7H431.4V1626.1H432.4V1627.4H433.4V1628H434.4V1626.8H435.4V1625.5H436.4V1627.2H437.4V1626.7H438.4V1626.4H439.4V1625.2H440.4V1624.4H441.4V1623.1H442.4V1624H443.4V1623.2H444.4V1623.9H445.4V1624.2H446.4V1621.1H447.4V1625.2H448.4V1623.9H449.3V1649.4ZM487.5 1649.4V1624.7H488.5V1624.9H489.5V1626.4H490.5V1627.7H491.5V1627.9H492.5V1626.3H493.5V1626.9H494.5V1628.8H495.5V1627.1H496.5V1624H497.5V1626.6H498.5V1626.2H499.5V1626.5H500.5V1624.2H501.5V1621.4H502.5V1619.9H503.5V1622.2H504.4V1649.4ZM535.3 1649.4V1619.9H536.3V1623.1H537.3V1621.9H538.3V1613.2H539.3V1618.5H540.3V1616.2H541.3V1620.3H542.3V1622.4H543.3V1625.5H544.3V1622.7H545.3V1626.6H546.3V1626.8H547.3V1622.8H548.3V1623.9H549.3V1624.7H550.3V1625.6H551.3V1626.8H552.2V1649.4ZM582.5 1649.4V1623.2H583.5V1625.7H584.5V1626.1H585.5V1618.5H586.5V1618.8H587.5V1621.4H588.5V1621.2H589.5V1624H590.5V1623.6H591.5V1621.2H592.5V1626.3H593.5V1627.2H594.3V1649.4ZM618.5 1649.4V1624.8H619.5V1624.3H620.5V1623.6H621.5V1623.7H622.5V1622.2H623.5V1623.5H624.5V1624.7H625.5V1623.9H626.5V1626.1H627.5V1625H628.5V1624.2H629.5V1626.5H629.5V1649.4ZM651.5 1649.4V1622.1H652.5V1618.1H653.5V1616.4H654.5V1619.4H655.5V1623.3H656.5V1623.7H657.5V1624.8H658.5V1624.1H659.5V1618.8H660.5V1624.5H661.5V1626.8H662.5V1624.6H663.5V1622.6H664.5V1626.9H665.5V1629.5H665.5V1649.4Z" fill="#8e7457"/>
<path d="M153.6 1649.4V1623.8H154.6V1623.7H155.6V1625.4H156.6V1625.3H157.6V1629.7H158.6V1627.8H159.6V1627.9H160.6V1625.6H161.6V1623.3H162.6V1622.5H163.6V1620.7H164.6V1621H165.6V1625.1H166.6V1624.2H167.6V1624.3H168.6V1622H169.6V1622.9H170.6V1624.7H171.6V1623.5H172.6V1622.2H173.6V1622.1H174.6V1619.3H175.6V1613.7H176.6V1617.8H177.6V1621.7H178.6V1623.4H179.6V1623.7H180.6V1619H181.6V1623.3H182.2V1649.4ZM237.3 1649.4V1627H238.3V1626H239.3V1626.4H240.3V1625.8H241.3V1626H242.3V1624.3H243.3V1625.4H244.3V1625.9H245.3V1625.6H246.3V1623.4H247.3V1626.5H248.3V1627.3H249.3V1625H250.3V1625.6H251.3V1625.7H252.3V1625.5H253.3V1624.9H254.3V1625.2H255.3V1625.3H256.3V1625.3H257.3V1622.5H258.3V1623.6H259.3V1624.1H260.3V1619.6H261.3V1621.3H262.3V1621.2H263.3V1615.2H264.3V1624.4H265.1V1649.4ZM317 1649.4V1628.9H318V1628.8H319V1628H320V1628.8H321V1625.3H322V1626.4H323V1626.8H324V1627.7H325V1624.3H326V1630.8H327V1632.2H328V1633.4H329V1630.7H330V1630.8H331V1629.2H332V1625.4H333V1626.1H334V1626.7H335V1625.2H336V1624.5H337V1622.8H338V1623.2H339V1617.3H340V1621.3H341V1619.6H341.3V1649.4ZM389.4 1649.4V1608.3H390.4V1608.5H391.4V1616.3H392.4V1617.5H393.4V1620.8H394.4V1623.4H395.4V1624.5H396.4V1626.4H397.4V1629.4H398.4V1628.2H399.4V1626.2H400.4V1624.8H401.4V1619.9H402.4V1623.6H403.4V1625.2H404.4V1626.1H405.4V1622.2H406.4V1623H407.4V1624.4H408.4V1622.3H409.4V1622.6H410.4V1621.3H411V1649.4ZM449.3 1649.4V1617.7H450.3V1622.2H451.3V1619.9H452.3V1623.3H453.3V1622H454.3V1621.5H455.3V1619.4H456.3V1616.8H457.3V1618.4H458.3V1621.3H459.3V1619.4H460.3V1619.5H461.3V1617.7H462.3V1620H463.3V1619.4H464.3V1619.7H465.3V1620.4H466.3V1621.2H467.3V1622H468.3V1622.9H468.8V1649.4ZM504.4 1649.4V1621.3H505.4V1621.7H506.4V1622.6H507.4V1620.4H508.4V1611.6H509.4V1622.8H510.4V1623.2H511.4V1622.5H512.4V1621.9H513.4V1618.6H514.4V1619.4H515.4V1619.9H516.4V1621.4H517.4V1622.2H518.4V1622.9H519.4V1622.1H520.4V1649.4ZM552.2 1649.4V1626.9H553.2V1625.1H554.2V1625.9H555.2V1625.7H556.2V1625.6H557.2V1625.9H558.2V1625.5H559.2V1615.5H560.2V1624.3H561.2V1624.6H562.2V1623.5H563.2V1627.9H564.2V1625.8H565.2V1626.8H566.2V1623.9H567.2V1623.1H567.8V1649.4ZM594.3 1649.4V1623.9H595.3V1627.1H596.3V1626.6H597.3V1625.8H598.3V1624.8H599.3V1624.8H600.3V1624.7H601.3V1623.7H602.3V1622.9H603.3V1623.2H604.3V1622.8H605.3V1621.6H606.3V1623.4H607.3V1622.7H608.3V1619.3H608.5V1649.4ZM629.5 1649.4V1626.2H630.5V1623.5H631.5V1622.6H632.5V1624.4H633.5V1623.4H634.5V1620.2H635.5V1621.8H636.5V1613.2H637.5V1620.3H638.5V1620.5H639.5V1618.5H640.2V1649.4Z" fill="#008300"/>
<path d="M124 1627h1.4v1.6h-1.4zM166.8 1630.8h1.4v1.6h-1.4zM224 1636.4h1.4v1.6h-1.4zM241.4 1628.5h1.4v1.6h-1.4zM268.8 1626.1h1.4v1.6h-1.4zM274.2 1626.8h1.4v1.6h-1.4zM327.3 1636.1h1.4v1.6h-1.4zM349.1 1629.9h1.4v1.6h-1.4zM358.2 1628h1.4v1.6h-1.4zM364.2 1629.3h1.4v1.6h-1.4zM412.8 1623.3h1.4v1.6h-1.4zM536 1624.6h1.4v1.6h-1.4zM573.7 1626.4h1.4v1.6h-1.4zM598.2 1631.5h1.4v1.6h-1.4zM657.2 1626.5h1.4v1.6h-1.4zM658.5 1625.9h1.4v1.6h-1.4zM661.7 1627.9h1.4v1.6h-1.4z" fill="#fff"/>
<path d="M88.2 1617.9h2v2h-2zM87.7 1619.8h2v2h-2zM89.4 1620.8h2v2h-2zM92.6 1625h2v2h-2zM96.7 1625.9h2v2h-2zM97.9 1623.1h2v2h-2zM98.3 1622.2h2v2h-2zM104.8 1626.7h2v2h-2zM107.4 1623.4h2v2h-2zM112.7 1616.1h2v2h-2zM113 1618.7h2v2h-2zM113.3 1614h2v2h-2zM119.7 1617.8h2v2h-2zM122.4 1620.4h2v2h-2zM121.7 1620h2v2h-2zM123.3 1620.3h2v2h-2zM182.2 1615.7h2v2h-2zM184.2 1616.9h2v2h-2zM186.3 1617.7h2v2h-2zM185.9 1615.6h2v2h-2zM189.8 1619.7h2v2h-2zM202.6 1622.3h2v2h-2zM203.9 1623.4h2v2h-2zM209.1 1626h2v2h-2zM268.1 1622.3h2v2h-2zM269.9 1615.9h2v2h-2zM272.9 1626.7h2v2h-2zM280.4 1621.6h2v2h-2zM279.9 1622.4h2v2h-2zM284.4 1619.9h2v2h-2zM290.5 1618.2h2v2h-2zM343.5 1617h2v2h-2zM345.4 1621.2h2v2h-2zM347.9 1621.8h2v2h-2zM350 1624.2h2v2h-2zM350.3 1624.9h2v2h-2zM351.5 1623.4h2v2h-2zM352.1 1619.6h2v2h-2zM354.5 1619.5h2v2h-2zM354.6 1615.8h2v2h-2zM357.7 1621.4h2v2h-2zM358.2 1624.6h2v2h-2zM411.5 1616.2h2v2h-2zM414.3 1612.9h2v2h-2zM415.1 1616.2h2v2h-2zM423.1 1628h2v2h-2zM424 1628.9h2v2h-2zM424.7 1624.3h2v2h-2zM425.6 1623.6h2v2h-2zM426.5 1627.1h2v2h-2zM427.5 1620.5h2v2h-2zM468.8 1615.9h2v2h-2zM468.5 1618.1h2v2h-2zM470.2 1617.6h2v2h-2zM471.4 1619.8h2v2h-2zM474.3 1621.2h2v2h-2zM473.4 1620.8h2v2h-2zM478.2 1622.8h2v2h-2zM482.2 1617.3h2v2h-2zM481.4 1617.8h2v2h-2zM486.2 1619.2h2v2h-2zM486.1 1621.3h2v2h-2zM486.3 1621.4h2v2h-2zM520.5 1622h2v2h-2zM520.9 1623h2v2h-2zM520.6 1618.1h2v2h-2zM521.9 1621.5h2v2h-2zM527 1617.2h2v2h-2zM533.8 1612.1h2v2h-2zM567.5 1619.5h2v2h-2zM571 1611.6h2v2h-2zM572.2 1617.4h2v2h-2zM573.7 1621.6h2v2h-2zM575.8 1623.2h2v2h-2zM576.5 1621.1h2v2h-2zM578.6 1622.9h2v2h-2zM581.3 1615.4h2v2h-2zM582.1 1616.2h2v2h-2zM617.1 1622.5h2v2h-2zM640.8 1618.1h2v2h-2zM640.8 1621.2h2v2h-2zM641.8 1620.5h2v2h-2zM643.1 1622.2h2v2h-2zM646.4 1618.2h2v2h-2zM650.4 1623.7h2v2h-2zM650.7 1620.7h2v2h-2z" fill="#00008f"/>
<path d="M126.8 1618.2h2v2h-2zM131.3 1619.6h2v2h-2zM131.8 1618h2v2h-2zM132.4 1618.4h2v2h-2zM134.6 1618.6h2v2h-2zM140.7 1626.4h2v2h-2zM142.5 1624.5h2v2h-2zM144 1626.8h2v2h-2zM145.1 1627.2h2v2h-2zM149 1627.2h2v2h-2zM149.7 1622.4h2v2h-2zM151 1624.3h2v2h-2zM212.4 1620.7h2v2h-2zM213.2 1616.5h2v2h-2zM212.6 1618.9h2v2h-2zM213.7 1617.3h2v2h-2zM219.5 1623.1h2v2h-2zM221.7 1624.5h2v2h-2zM224 1625h2v2h-2zM225.2 1625.8h2v2h-2zM228.3 1628.7h2v2h-2zM230.4 1621.6h2v2h-2zM295.5 1627.8h2v2h-2zM295.1 1628.4h2v2h-2zM295.9 1629.1h2v2h-2zM297 1627.2h2v2h-2zM297.1 1627h2v2h-2zM311.4 1621.5h2v2h-2zM313.3 1623.1h2v2h-2zM374.4 1625.2h2v2h-2zM375.7 1617.6h2v2h-2zM379.4 1622.2h2v2h-2zM379.1 1622.6h2v2h-2zM383.4 1611.5h2v2h-2zM387.1 1607.5h2v2h-2zM431.8 1624h2v2h-2zM432.7 1625.9h2v2h-2zM439.9 1623.4h2v2h-2zM439.4 1622.1h2v2h-2zM439.9 1618.9h2v2h-2zM443.2 1621.4h2v2h-2zM443.4 1618.6h2v2h-2zM443.8 1619.6h2v2h-2zM447.7 1616.7h2v2h-2zM448.4 1617.7h2v2h-2zM488.2 1623.2h2v2h-2zM489.6 1619.6h2v2h-2zM489.7 1622h2v2h-2zM490.3 1624.8h2v2h-2zM490.5 1623.2h2v2h-2zM492.3 1624.7h2v2h-2zM497.5 1624.8h2v2h-2zM497.2 1621.6h2v2h-2zM497.8 1624.2h2v2h-2zM500.8 1620.9h2v2h-2zM502.5 1617.7h2v2h-2zM536.7 1620.6h2v2h-2zM536.6 1620.8h2v2h-2zM542.7 1623.8h2v2h-2zM585.1 1616.6h2v2h-2zM587.3 1617.3h2v2h-2zM590 1621.1h2v2h-2zM589.4 1621.9h2v2h-2zM619.9 1621.6h2v2h-2zM622.4 1619.9h2v2h-2zM626.8 1623.1h2v2h-2zM651.2 1619.4h2v2h-2zM653.1 1614.9h2v2h-2zM659.6 1616.6h2v2h-2zM661.4 1618.5h2v2h-2z" fill="#8e7457"/>
<path d="M154.1 1614.1h2v2h-2zM156.2 1619.2h2v2h-2zM160.9 1623.5h2v2h-2zM167.1 1620h2v2h-2zM168.2 1612.5h2v2h-2zM169.5 1617.3h2v2h-2zM169.9 1619.3h2v2h-2zM174.4 1617.4h2v2h-2zM174.5 1616h2v2h-2zM178.6 1620h2v2h-2zM179.5 1621.7h2v2h-2zM237.4 1624.7h2v2h-2zM237.7 1623h2v2h-2zM237.8 1623h2v2h-2zM239 1624.8h2v2h-2zM243.4 1619.5h2v2h-2zM243 1620h2v2h-2zM244.9 1622.9h2v2h-2zM244.8 1620.6h2v2h-2zM246.4 1620.7h2v2h-2zM249.9 1618.6h2v2h-2zM251 1621.4h2v2h-2zM254.2 1619.9h2v2h-2zM258.8 1619.7h2v2h-2zM259.2 1621h2v2h-2zM262.7 1611.7h2v2h-2zM317.7 1623.8h2v2h-2zM321.2 1621.9h2v2h-2zM321.5 1624.2h2v2h-2zM327.8 1631.8h2v2h-2zM331.1 1625.9h2v2h-2zM331.6 1619.9h2v2h-2zM331.9 1623.7h2v2h-2zM333.3 1622.4h2v2h-2zM335.1 1623h2v2h-2zM337.7 1617.9h2v2h-2zM394.9 1621.3h2v2h-2zM398.7 1625.9h2v2h-2zM402.4 1619h2v2h-2zM403 1622.1h2v2h-2zM404 1621.7h2v2h-2zM407.9 1619.1h2v2h-2zM409.9 1618.1h2v2h-2zM454.4 1619.6h2v2h-2zM457.3 1613.8h2v2h-2zM458.7 1616.9h2v2h-2zM459.8 1617.2h2v2h-2zM505.4 1619.1h2v2h-2zM506 1616.1h2v2h-2zM510.3 1617.8h2v2h-2zM511.4 1620.9h2v2h-2zM516.7 1611.8h2v2h-2zM517.9 1614h2v2h-2zM555.8 1622.7h2v2h-2zM558.7 1621.3h2v2h-2zM562.8 1623.4h2v2h-2zM565.9 1614.9h2v2h-2zM567.2 1620.4h2v2h-2zM567 1614.4h2v2h-2zM597.3 1622.7h2v2h-2zM598.5 1623.3h2v2h-2zM597.8 1622.7h2v2h-2zM604.9 1621.2h2v2h-2zM606.1 1620.1h2v2h-2zM630.1 1618h2v2h-2zM634.5 1618.7h2v2h-2zM635.2 1616.5h2v2h-2zM635.2 1620.2h2v2h-2zM635.5 1618.7h2v2h-2zM639.6 1617h2v2h-2z" fill="#008300"/>
<path d="M86.2 1620.1h2.6v2.6h-2.6zM108.1 1621.1h2.6v2.6h-2.6zM114.6 1617.6h2.6v2.6h-2.6zM121.6 1619.7h2.6v2.6h-2.6zM183.4 1606.1h2.6v2.6h-2.6zM186.9 1614.1h2.6v2.6h-2.6zM191.3 1620.6h2.6v2.6h-2.6zM197.5 1620.1h2.6v2.6h-2.6zM201 1615.3h2.6v2.6h-2.6zM264 1620.6h2.6v2.6h-2.6zM272.8 1617.1h2.6v2.6h-2.6zM279.8 1618h2.6v2.6h-2.6zM288.5 1620.6h2.6v2.6h-2.6zM359.8 1612.7h2.6v2.6h-2.6zM354.2 1618.8h2.6v2.6h-2.6zM349 1623.2h2.6v2.6h-2.6zM469 1615.3h2.6v2.6h-2.6zM473.4 1622.4h2.6v2.6h-2.6zM532.9 1611.3h2.6v2.6h-2.6zM567.1 1616.2h2.6v2.6h-2.6zM569.7 1611h2.6v2.6h-2.6zM571.5 1608.9h2.6v2.6h-2.6zM580.2 1614.5h2.6v2.6h-2.6z" fill="#000066"/>
<path d="M127.9 1612.7h2.6v2.6h-2.6zM133.2 1618h2.6v2.6h-2.6zM138.8 1621.5h2.6v2.6h-2.6zM211.5 1617.1h2.6v2.6h-2.6zM215 1618.8h2.6v2.6h-2.6zM216.7 1622.4h2.6v2.6h-2.6zM229.9 1619.7h2.6v2.6h-2.6zM307.5 1614.8h2.6v2.6h-2.6zM313.4 1613.1h2.6v2.6h-2.6zM313.4 1616.2h2.6v2.6h-2.6zM383.1 1611.8h2.6v2.6h-2.6zM429.2 1620.6h2.6v2.6h-2.6zM440.4 1615.3h2.6v2.6h-2.6zM440.4 1620.6h2.6v2.6h-2.6zM444.8 1615.3h2.6v2.6h-2.6zM488.3 1620.6h2.6v2.6h-2.6zM500.5 1618.3h2.6v2.6h-2.6zM538.7 1614.1h2.6v2.6h-2.6zM546.9 1619.7h2.6v2.6h-2.6zM586.4 1617.1h2.6v2.6h-2.6zM624 1618h2.6v2.6h-2.6zM652 1611.3h2.6v2.6h-2.6zM659.1 1620.6h2.6v2.6h-2.6z" fill="#75624a"/>
<path d="M153.7 1617.1h2.6v2.6h-2.6zM162.8 1602.6h2.6v2.6h-2.6zM162.8 1605.7h2.6v2.6h-2.6zM162.8 1609.2h2.6v2.6h-2.6zM163.3 1612.7h2.6v2.6h-2.6zM163.3 1615.3h2.6v2.6h-2.6zM174.7 1614.1h2.6v2.6h-2.6zM237.4 1619.7h2.6v2.6h-2.6zM261.4 1617.6h2.6v2.6h-2.6zM391 1611.8h2.6v2.6h-2.6zM408.5 1618h2.6v2.6h-2.6zM464.6 1611.3h2.6v2.6h-2.6zM456.7 1617.1h2.6v2.6h-2.6zM462 1616.2h2.6v2.6h-2.6zM512.8 1616.2h2.6v2.6h-2.6zM509.3 1618.3h2.6v2.6h-2.6zM593.4 1620.1h2.6v2.6h-2.6zM598.6 1617.1h2.6v2.6h-2.6zM606.5 1619.4h2.6v2.6h-2.6zM629.3 1618h2.6v2.6h-2.6zM638 1615.3h2.6v2.6h-2.6z" fill="#1a661a"/>
<path d="M387.8 1481h5v3.6h-5zM387.9 1485.8h5v3.6h-5zM387.8 1490.6h5v3.6h-5zM388.2 1495.4h5v3.6h-5zM388.2 1500.2h5v3.6h-5zM388.3 1504.4h5v3.6h-5zM387.7 1508.6h5v3.6h-5zM388.3 1512.8h5v3.6h-5zM388.2 1517h5v3.6h-5zM387.9 1521.2h5v3.6h-5zM388.3 1524.8h5v3.6h-5zM388.2 1528.4h5v3.6h-5zM387.8 1533.2h5v3.6h-5z" fill="#c8167a"/>
<path d="M388.2 1362.5h4v4h-4zM388.2 1429.4h4v4h-4zM388.2 1432.5h4v4h-4zM388.2 1436.8h4v4h-4zM388.2 1471.8h4v4h-4z" fill="#c41c80"/>
<path d="M389.2 1363.5h2v2h-2zM389.2 1430.4h2v2h-2zM389.2 1433.5h2v2h-2zM389.2 1437.8h2v2h-2zM389.2 1472.8h2v2h-2z" fill="#8a1058"/>
<path d="M387.4 1598L389 1604L391.6 1604L393.3 1598L393.1 1538.6L387.7 1538.6Z" fill="#c8167a"/>
<path d="M106 1649.7v2.5M139.4 1649.7v2.5M168.9 1649.7v2.5M197 1649.7v2.5M224.5 1649.7v2.5M252.2 1649.7v2.5M279 1649.7v2.5M305 1649.7v2.5M330.2 1649.7v2.5M354.4 1649.7v2.5M378.4 1649.7v2.5M401.2 1649.7v2.5M421.7 1649.7v2.5M440.8 1649.7v2.5M460 1649.7v2.5M479.2 1649.7v2.5M497 1649.7v2.5M513.4 1649.7v2.5M528.9 1649.7v2.5M544.7 1649.7v2.5M561 1649.7v2.5M576.1 1649.7v2.5M589.4 1649.7v2.5M602.4 1649.7v2.5M614.5 1649.7v2.5M625 1649.7v2.5M635.9 1649.7v2.5M646.9 1649.7v2.5M659.5 1649.7v2.5" stroke="#99a" stroke-width="0.8" fill="none"/>
</g>
<text x="61.4" y="292.3" class="tl">0</text>
<text x="61.4" y="239.3" class="tl">2</text>
<text x="61.4" y="186.3" class="tl">4</text>
<text x="61.4" y="133.3" class="tl">6</text>
<text x="61.4" y="80.3" class="tl">8</text>
<text x="61.4" y="27.3" class="tl">10</text>
<text x="105.8" y="301.9" class="xl">1</text>
<text x="139.4" y="301.9" class="xl">2</text>
<text x="169.1" y="301.9" class="xl">3</text>
<text x="198.8" y="301.9" class="xl">4</text>
<text x="225" y="301.9" class="xl">5</text>
<text x="252.8" y="301.9" class="xl">6</text>
<text x="279.9" y="301.9" class="xl">7</text>
<text x="306" y="301.9" class="xl">8</text>
<text x="331.3" y="301.9" class="xl">9</text>
<text x="355.6" y="301.9" class="xl">10</text>
<text x="379.8" y="301.9" class="xl">11</text>
<text x="402.8" y="301.9" class="xl">12</text>
<text x="442.6" y="301.9" class="xl">14</text>
<text x="481.2" y="301.9" class="xl">16</text>
<text x="515.6" y="301.9" class="xl">18</text>
<text x="547.1" y="301.9" class="xl">20</text>
<text x="578.7" y="301.9" class="xl">22</text>
<text x="605.1" y="301.9" class="xl">24</text>
<text x="627.9" y="301.9" class="xl">26</text>
<text x="649.9" y="301.9" class="xl">28</text>
<text x="377" y="317.9" class="ch">Chromosome</text>
<text x="301" y="38.1" class="tt">3’-SL</text>
<text transform="translate(24.5 154) rotate(-90)" class="yl">−<tspan dx="-1">log</tspan><tspan class="sub" dy="3">10</tspan><tspan dy="-3">(</tspan><tspan font-style="italic">p</tspan>-value)</text>
<text x="61.4" y="630.2" class="tl">0</text>
<text x="61.4" y="591.9" class="tl">5</text>
<text x="61.4" y="553.6" class="tl">10</text>
<text x="61.4" y="515.3" class="tl">15</text>
<text x="61.4" y="477.1" class="tl">20</text>
<text x="61.4" y="438.8" class="tl">25</text>
<text x="61.4" y="400.5" class="tl">30</text>
<text x="61.4" y="362.2" class="tl">35</text>
<text x="104.5" y="639.8" class="xl">1</text>
<text x="138.1" y="639.8" class="xl">2</text>
<text x="167.8" y="639.8" class="xl">3</text>
<text x="197.6" y="639.8" class="xl">4</text>
<text x="223.8" y="639.8" class="xl">5</text>
<text x="251.6" y="639.8" class="xl">6</text>
<text x="278.6" y="639.8" class="xl">7</text>
<text x="304.8" y="639.8" class="xl">8</text>
<text x="330.1" y="639.8" class="xl">9</text>
<text x="354.5" y="639.8" class="xl">10</text>
<text x="378.7" y="639.8" class="xl">11</text>
<text x="401.6" y="639.8" class="xl">12</text>
<text x="441.5" y="639.8" class="xl">14</text>
<text x="480.1" y="639.8" class="xl">16</text>
<text x="514.6" y="639.8" class="xl">18</text>
<text x="546" y="639.8" class="xl">20</text>
<text x="577.7" y="639.8" class="xl">22</text>
<text x="604.1" y="639.8" class="xl">24</text>
<text x="626.8" y="639.8" class="xl">26</text>
<text x="648.8" y="639.8" class="xl">28</text>
<text x="375.5" y="655.8" class="ch">Chromosome</text>
<text x="301" y="385.6" class="tt">GNL</text>
<text transform="translate(15.3 477) rotate(-90)" class="yl">−<tspan dx="-1">log</tspan><tspan class="sub" dy="3">10</tspan><tspan dy="-3">(</tspan><tspan font-style="italic">p</tspan>-value)</text>
<text x="61.4" y="972.2" class="tl">0</text>
<text x="61.4" y="930.7" class="tl">1</text>
<text x="61.4" y="889.2" class="tl">2</text>
<text x="61.4" y="847.7" class="tl">3</text>
<text x="61.4" y="806.2" class="tl">4</text>
<text x="61.4" y="764.7" class="tl">5</text>
<text x="61.4" y="723.3" class="tl">6</text>
<text x="61.4" y="681.8" class="tl">7</text>
<text x="104.7" y="981.8" class="xl">1</text>
<text x="138.2" y="981.8" class="xl">2</text>
<text x="167.8" y="981.8" class="xl">3</text>
<text x="197.5" y="981.8" class="xl">4</text>
<text x="223.7" y="981.8" class="xl">5</text>
<text x="251.4" y="981.8" class="xl">6</text>
<text x="278.4" y="981.8" class="xl">7</text>
<text x="304.5" y="981.8" class="xl">8</text>
<text x="329.7" y="981.8" class="xl">9</text>
<text x="354" y="981.8" class="xl">10</text>
<text x="378.2" y="981.8" class="xl">11</text>
<text x="401.1" y="981.8" class="xl">12</text>
<text x="440.8" y="981.8" class="xl">14</text>
<text x="479.3" y="981.8" class="xl">16</text>
<text x="513.7" y="981.8" class="xl">18</text>
<text x="545.1" y="981.8" class="xl">20</text>
<text x="576.7" y="981.8" class="xl">22</text>
<text x="603.1" y="981.8" class="xl">24</text>
<text x="625.7" y="981.8" class="xl">26</text>
<text x="647.7" y="981.8" class="xl">28</text>
<text x="375.5" y="997.8" class="ch">Chromosome</text>
<text x="301" y="708.8" class="tt">OS-A</text>
<text transform="translate(21.3 805) rotate(-90)" class="yl">−<tspan dx="-1">log</tspan><tspan class="sub" dy="3">10</tspan><tspan dy="-3">(</tspan><tspan font-style="italic">p</tspan>-value)</text>
<text x="61.4" y="1314.8" class="tl">0</text>
<text x="61.4" y="1242.6" class="tl">2</text>
<text x="61.4" y="1170.4" class="tl">4</text>
<text x="61.4" y="1098.2" class="tl">6</text>
<text x="61.4" y="1026" class="tl">8</text>
<text x="105.6" y="1324.4" class="xl">1</text>
<text x="138.9" y="1324.4" class="xl">2</text>
<text x="168.4" y="1324.4" class="xl">3</text>
<text x="198" y="1324.4" class="xl">4</text>
<text x="224" y="1324.4" class="xl">5</text>
<text x="251.6" y="1324.4" class="xl">6</text>
<text x="278.4" y="1324.4" class="xl">7</text>
<text x="304.4" y="1324.4" class="xl">8</text>
<text x="329.5" y="1324.4" class="xl">9</text>
<text x="353.7" y="1324.4" class="xl">10</text>
<text x="377.7" y="1324.4" class="xl">11</text>
<text x="400.5" y="1324.4" class="xl">12</text>
<text x="440.1" y="1324.4" class="xl">14</text>
<text x="478.3" y="1324.4" class="xl">16</text>
<text x="512.6" y="1324.4" class="xl">18</text>
<text x="543.8" y="1324.4" class="xl">20</text>
<text x="575.2" y="1324.4" class="xl">22</text>
<text x="601.5" y="1324.4" class="xl">24</text>
<text x="624" y="1324.4" class="xl">26</text>
<text x="645.9" y="1324.4" class="xl">28</text>
<text x="374.9" y="1340.4" class="ch">Chromosome</text>
<text x="302" y="1040.8" class="tt">OS-B</text>
<text transform="translate(22 1164) rotate(-90)" class="yl">−<tspan dx="-1">log</tspan><tspan class="sub" dy="3">10</tspan><tspan dy="-3">(</tspan><tspan font-style="italic">p</tspan>-value)</text>
<text x="61.4" y="1652.6" class="tl">0</text>
<text x="61.4" y="1607.4" class="tl">5</text>
<text x="61.4" y="1562.2" class="tl">10</text>
<text x="61.4" y="1517" class="tl">15</text>
<text x="61.4" y="1471.8" class="tl">20</text>
<text x="61.4" y="1426.6" class="tl">25</text>
<text x="61.4" y="1381.4" class="tl">30</text>
<text x="106.6" y="1662.2" class="xl">1</text>
<text x="140" y="1662.2" class="xl">2</text>
<text x="169.5" y="1662.2" class="xl">3</text>
<text x="199.1" y="1662.2" class="xl">4</text>
<text x="225.1" y="1662.2" class="xl">5</text>
<text x="252.8" y="1662.2" class="xl">6</text>
<text x="279.6" y="1662.2" class="xl">7</text>
<text x="305.6" y="1662.2" class="xl">8</text>
<text x="330.8" y="1662.2" class="xl">9</text>
<text x="355" y="1662.2" class="xl">10</text>
<text x="379" y="1662.2" class="xl">11</text>
<text x="401.8" y="1662.2" class="xl">12</text>
<text x="441.4" y="1662.2" class="xl">14</text>
<text x="479.8" y="1662.2" class="xl">16</text>
<text x="514" y="1662.2" class="xl">18</text>
<text x="545.3" y="1662.2" class="xl">20</text>
<text x="576.7" y="1662.2" class="xl">22</text>
<text x="603" y="1662.2" class="xl">24</text>
<text x="625.6" y="1662.2" class="xl">26</text>
<text x="647.5" y="1662.2" class="xl">28</text>
<text x="376.2" y="1678.2" class="ch">Chromosome</text>
<text x="301" y="1407" class="tt">OS-C</text>
<text transform="translate(20.8 1504) rotate(-90)" class="yl">−<tspan dx="-1">log</tspan><tspan class="sub" dy="3">10</tspan><tspan dy="-3">(</tspan><tspan font-style="italic">p</tspan>-value)</text>
</svg>
</body></html>
